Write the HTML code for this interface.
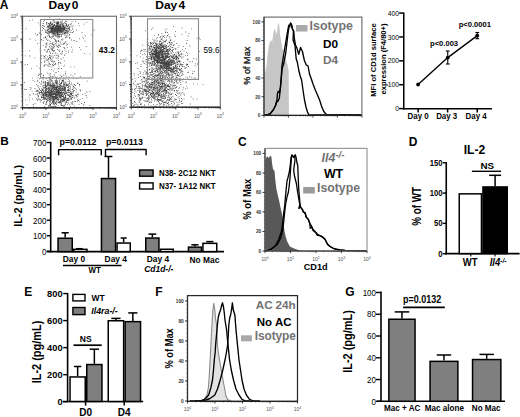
<!DOCTYPE html>
<html><head><meta charset="utf-8"><style>
html,body{margin:0;padding:0;background:#fff;}
svg{display:block;font-family:"Liberation Sans",sans-serif;}
</style></head><body>
<svg xmlns="http://www.w3.org/2000/svg" width="520" height="417" viewBox="0 0 520 417">
<defs><filter id="bl" x="-5%" y="-5%" width="110%" height="110%"><feGaussianBlur stdDeviation="0.42"/></filter></defs>
<rect width="520" height="417" fill="#fff"/>
<text x="-0.3" y="8.7" font-size="12" font-weight="bold">A</text>
<text transform="translate(63.5 9.1) scale(1.07 1)" font-size="11.2" font-weight="bold" text-anchor="middle" word-spacing="-2">Day 0</text>
<text transform="translate(170.2 9.3) scale(1.08 1)" font-size="11.1" font-weight="bold" text-anchor="middle" word-spacing="-2">Day 4</text>
<path fill="#404040" filter="url(#bl)" d="M58.0 26.5h0.8v0.8h-0.8zM59.7 27.7h0.8v0.8h-0.8zM56.5 30.5h0.8v0.8h-0.8zM53.0 29.8h0.8v0.8h-0.8zM55.5 29.1h0.8v0.8h-0.8zM52.4 23.8h0.8v0.8h-0.8zM58.3 30.2h0.8v0.8h-0.8zM65.5 32.1h0.8v0.8h-0.8zM55.2 31.6h0.8v0.8h-0.8zM54.5 29.2h0.8v0.8h-0.8zM60.7 23.7h0.8v0.8h-0.8zM60.0 31.4h0.8v0.8h-0.8zM58.6 28.0h0.8v0.8h-0.8zM52.8 20.6h0.8v0.8h-0.8zM57.8 29.7h0.8v0.8h-0.8zM61.9 23.9h0.8v0.8h-0.8zM50.5 24.5h0.8v0.8h-0.8zM55.4 26.5h0.8v0.8h-0.8zM47.4 32.4h0.8v0.8h-0.8zM50.8 27.4h0.8v0.8h-0.8zM47.7 29.3h0.8v0.8h-0.8zM56.7 33.9h0.8v0.8h-0.8zM50.9 33.4h0.8v0.8h-0.8zM59.5 28.2h0.8v0.8h-0.8zM58.9 27.8h0.8v0.8h-0.8zM57.0 24.6h0.8v0.8h-0.8zM43.9 26.3h0.8v0.8h-0.8zM55.0 29.8h0.8v0.8h-0.8zM57.7 29.7h0.8v0.8h-0.8zM58.6 28.8h0.8v0.8h-0.8zM49.4 31.6h0.8v0.8h-0.8zM55.3 26.1h0.8v0.8h-0.8zM52.5 28.3h0.8v0.8h-0.8zM53.5 30.8h0.8v0.8h-0.8zM63.9 30.3h0.8v0.8h-0.8zM53.5 31.8h0.8v0.8h-0.8zM57.8 29.7h0.8v0.8h-0.8zM63.0 27.5h0.8v0.8h-0.8zM54.7 29.6h0.8v0.8h-0.8zM57.4 25.4h0.8v0.8h-0.8zM58.6 23.4h0.8v0.8h-0.8zM58.4 30.3h0.8v0.8h-0.8zM51.1 28.3h0.8v0.8h-0.8zM58.4 29.5h0.8v0.8h-0.8zM65.6 23.2h0.8v0.8h-0.8zM49.3 27.4h0.8v0.8h-0.8zM62.8 26.6h0.8v0.8h-0.8zM58.7 25.8h0.8v0.8h-0.8zM54.4 21.5h0.8v0.8h-0.8zM69.2 27.5h0.8v0.8h-0.8zM62.3 31.3h0.8v0.8h-0.8zM51.3 29.7h0.8v0.8h-0.8zM58.4 26.6h0.8v0.8h-0.8zM61.2 28.5h0.8v0.8h-0.8zM56.9 30.8h0.8v0.8h-0.8zM61.8 19.9h0.8v0.8h-0.8zM57.6 28.1h0.8v0.8h-0.8zM61.7 30.2h0.8v0.8h-0.8zM66.1 30.6h0.8v0.8h-0.8zM54.2 33.8h0.8v0.8h-0.8zM59.1 32.0h0.8v0.8h-0.8zM55.4 29.5h0.8v0.8h-0.8zM58.7 29.4h0.8v0.8h-0.8zM51.4 30.9h0.8v0.8h-0.8zM54.8 26.8h0.8v0.8h-0.8zM56.9 28.4h0.8v0.8h-0.8zM63.0 31.3h0.8v0.8h-0.8zM64.4 34.6h0.8v0.8h-0.8zM50.6 28.0h0.8v0.8h-0.8zM53.6 28.3h0.8v0.8h-0.8zM61.6 29.1h0.8v0.8h-0.8zM46.8 32.7h0.8v0.8h-0.8zM55.4 28.4h0.8v0.8h-0.8zM57.5 33.1h0.8v0.8h-0.8zM65.0 25.5h0.8v0.8h-0.8zM61.9 27.9h0.8v0.8h-0.8zM56.2 27.9h0.8v0.8h-0.8zM55.9 30.9h0.8v0.8h-0.8zM56.6 31.7h0.8v0.8h-0.8zM66.5 23.8h0.8v0.8h-0.8zM55.6 25.7h0.8v0.8h-0.8zM56.3 29.5h0.8v0.8h-0.8zM60.0 26.5h0.8v0.8h-0.8zM57.3 23.8h0.8v0.8h-0.8zM56.9 31.7h0.8v0.8h-0.8zM51.8 30.0h0.8v0.8h-0.8zM57.9 30.0h0.8v0.8h-0.8zM55.5 27.0h0.8v0.8h-0.8zM64.5 31.7h0.8v0.8h-0.8zM61.7 27.8h0.8v0.8h-0.8zM57.9 31.9h0.8v0.8h-0.8zM61.7 25.7h0.8v0.8h-0.8zM56.1 25.9h0.8v0.8h-0.8zM63.9 29.1h0.8v0.8h-0.8zM58.0 26.3h0.8v0.8h-0.8zM61.3 30.6h0.8v0.8h-0.8zM50.8 29.3h0.8v0.8h-0.8zM59.9 25.6h0.8v0.8h-0.8zM48.5 28.7h0.8v0.8h-0.8zM46.6 27.4h0.8v0.8h-0.8zM56.3 31.3h0.8v0.8h-0.8zM53.0 26.5h0.8v0.8h-0.8zM58.9 27.1h0.8v0.8h-0.8zM70.6 32.3h0.8v0.8h-0.8zM53.3 35.4h0.8v0.8h-0.8zM54.5 34.7h0.8v0.8h-0.8zM59.2 28.7h0.8v0.8h-0.8zM60.8 29.2h0.8v0.8h-0.8zM57.0 33.3h0.8v0.8h-0.8zM56.8 28.1h0.8v0.8h-0.8zM61.9 25.5h0.8v0.8h-0.8zM60.9 28.9h0.8v0.8h-0.8zM52.2 29.9h0.8v0.8h-0.8zM57.6 25.9h0.8v0.8h-0.8zM58.2 23.4h0.8v0.8h-0.8zM52.1 24.0h0.8v0.8h-0.8zM59.5 30.6h0.8v0.8h-0.8zM53.2 26.1h0.8v0.8h-0.8zM63.4 28.1h0.8v0.8h-0.8zM59.1 29.2h0.8v0.8h-0.8zM58.5 30.4h0.8v0.8h-0.8zM54.7 27.5h0.8v0.8h-0.8zM57.3 30.0h0.8v0.8h-0.8zM46.8 25.7h0.8v0.8h-0.8zM51.7 27.4h0.8v0.8h-0.8zM60.0 25.3h0.8v0.8h-0.8zM46.1 32.0h0.8v0.8h-0.8zM62.7 28.4h0.8v0.8h-0.8zM48.2 26.2h0.8v0.8h-0.8zM62.2 27.4h0.8v0.8h-0.8zM53.3 27.8h0.8v0.8h-0.8zM62.4 30.7h0.8v0.8h-0.8zM58.7 23.6h0.8v0.8h-0.8zM49.4 25.3h0.8v0.8h-0.8zM65.0 27.3h0.8v0.8h-0.8zM66.1 36.4h0.8v0.8h-0.8zM57.6 31.5h0.8v0.8h-0.8zM56.5 28.2h0.8v0.8h-0.8zM57.1 30.7h0.8v0.8h-0.8zM52.5 34.9h0.8v0.8h-0.8zM64.2 27.8h0.8v0.8h-0.8zM55.0 27.4h0.8v0.8h-0.8zM57.7 32.3h0.8v0.8h-0.8zM53.6 30.0h0.8v0.8h-0.8zM54.5 30.6h0.8v0.8h-0.8zM50.8 26.9h0.8v0.8h-0.8zM65.0 34.5h0.8v0.8h-0.8zM57.1 33.8h0.8v0.8h-0.8zM63.4 30.3h0.8v0.8h-0.8zM58.1 30.6h0.8v0.8h-0.8zM54.1 22.2h0.8v0.8h-0.8zM56.2 30.5h0.8v0.8h-0.8zM54.9 27.9h0.8v0.8h-0.8zM58.0 29.8h0.8v0.8h-0.8zM55.9 30.6h0.8v0.8h-0.8zM56.3 27.4h0.8v0.8h-0.8zM50.3 23.3h0.8v0.8h-0.8zM53.5 29.6h0.8v0.8h-0.8zM67.3 26.2h0.8v0.8h-0.8zM54.2 27.5h0.8v0.8h-0.8zM52.1 26.6h0.8v0.8h-0.8zM59.9 27.4h0.8v0.8h-0.8zM65.9 21.3h0.8v0.8h-0.8zM49.9 32.3h0.8v0.8h-0.8zM56.8 29.3h0.8v0.8h-0.8zM54.5 31.9h0.8v0.8h-0.8zM48.1 34.6h0.8v0.8h-0.8zM62.1 28.6h0.8v0.8h-0.8zM57.9 22.9h0.8v0.8h-0.8zM58.4 25.7h0.8v0.8h-0.8zM53.8 24.8h0.8v0.8h-0.8zM60.5 26.9h0.8v0.8h-0.8zM55.0 28.7h0.8v0.8h-0.8zM57.2 22.3h0.8v0.8h-0.8zM51.8 29.6h0.8v0.8h-0.8zM51.2 23.8h0.8v0.8h-0.8zM65.5 29.4h0.8v0.8h-0.8zM55.2 28.2h0.8v0.8h-0.8zM59.6 27.5h0.8v0.8h-0.8zM57.8 28.3h0.8v0.8h-0.8zM55.5 26.8h0.8v0.8h-0.8zM55.2 26.6h0.8v0.8h-0.8zM61.5 23.3h0.8v0.8h-0.8zM56.3 28.4h0.8v0.8h-0.8zM57.2 34.2h0.8v0.8h-0.8zM58.1 34.6h0.8v0.8h-0.8zM64.6 32.6h0.8v0.8h-0.8zM61.8 30.7h0.8v0.8h-0.8zM60.1 26.4h0.8v0.8h-0.8zM54.8 33.0h0.8v0.8h-0.8zM50.3 28.3h0.8v0.8h-0.8zM63.3 28.3h0.8v0.8h-0.8zM63.4 27.6h0.8v0.8h-0.8zM57.2 28.8h0.8v0.8h-0.8zM61.0 27.2h0.8v0.8h-0.8zM62.4 28.2h0.8v0.8h-0.8zM62.7 25.1h0.8v0.8h-0.8zM63.2 27.3h0.8v0.8h-0.8zM55.4 35.6h0.8v0.8h-0.8zM66.5 28.3h0.8v0.8h-0.8zM51.0 27.8h0.8v0.8h-0.8zM62.8 30.2h0.8v0.8h-0.8zM60.8 30.7h0.8v0.8h-0.8zM62.9 25.0h0.8v0.8h-0.8zM68.5 27.9h0.8v0.8h-0.8zM66.3 31.3h0.8v0.8h-0.8zM51.6 29.3h0.8v0.8h-0.8zM48.5 28.9h0.8v0.8h-0.8zM62.6 33.3h0.8v0.8h-0.8zM52.3 26.4h0.8v0.8h-0.8zM57.9 28.8h0.8v0.8h-0.8zM62.7 26.9h0.8v0.8h-0.8zM48.8 33.1h0.8v0.8h-0.8zM46.2 22.4h0.8v0.8h-0.8zM59.5 26.4h0.8v0.8h-0.8zM58.2 26.9h0.8v0.8h-0.8zM56.6 30.6h0.8v0.8h-0.8zM58.2 30.4h0.8v0.8h-0.8zM53.2 32.8h0.8v0.8h-0.8zM49.5 23.6h0.8v0.8h-0.8zM57.1 30.8h0.8v0.8h-0.8zM52.6 27.6h0.8v0.8h-0.8zM48.8 26.4h0.8v0.8h-0.8zM60.8 30.2h0.8v0.8h-0.8zM57.7 25.6h0.8v0.8h-0.8zM60.3 22.1h0.8v0.8h-0.8zM52.5 27.4h0.8v0.8h-0.8zM54.3 23.9h0.8v0.8h-0.8zM52.4 26.5h0.8v0.8h-0.8zM53.0 29.7h0.8v0.8h-0.8zM59.1 29.5h0.8v0.8h-0.8zM53.6 33.4h0.8v0.8h-0.8zM60.0 27.9h0.8v0.8h-0.8zM59.9 23.7h0.8v0.8h-0.8zM69.3 26.2h0.8v0.8h-0.8zM50.2 25.6h0.8v0.8h-0.8zM63.0 24.7h0.8v0.8h-0.8zM57.5 29.8h0.8v0.8h-0.8zM57.9 26.5h0.8v0.8h-0.8zM49.9 22.4h0.8v0.8h-0.8zM55.4 30.7h0.8v0.8h-0.8zM62.2 28.2h0.8v0.8h-0.8zM57.5 29.6h0.8v0.8h-0.8zM58.5 28.8h0.8v0.8h-0.8zM56.4 30.5h0.8v0.8h-0.8zM64.5 28.6h0.8v0.8h-0.8zM57.9 32.3h0.8v0.8h-0.8zM45.7 29.8h0.8v0.8h-0.8zM54.1 29.7h0.8v0.8h-0.8zM47.0 29.8h0.8v0.8h-0.8zM39.8 24.0h0.8v0.8h-0.8zM55.0 28.0h0.8v0.8h-0.8zM65.5 27.7h0.8v0.8h-0.8zM58.3 29.1h0.8v0.8h-0.8zM51.4 24.3h0.8v0.8h-0.8zM52.7 33.6h0.8v0.8h-0.8zM64.3 28.8h0.8v0.8h-0.8zM58.9 24.7h0.8v0.8h-0.8zM58.3 23.2h0.8v0.8h-0.8zM57.7 27.6h0.8v0.8h-0.8zM58.2 28.2h0.8v0.8h-0.8zM62.5 26.3h0.8v0.8h-0.8zM61.1 28.8h0.8v0.8h-0.8zM59.2 26.5h0.8v0.8h-0.8zM52.2 30.2h0.8v0.8h-0.8zM60.9 26.3h0.8v0.8h-0.8zM54.2 28.4h0.8v0.8h-0.8zM64.1 31.5h0.8v0.8h-0.8zM50.9 36.5h0.8v0.8h-0.8zM57.2 25.4h0.8v0.8h-0.8zM58.0 27.1h0.8v0.8h-0.8zM50.6 25.9h0.8v0.8h-0.8zM67.6 30.9h0.8v0.8h-0.8zM66.2 24.9h0.8v0.8h-0.8zM55.4 27.0h0.8v0.8h-0.8zM62.3 28.4h0.8v0.8h-0.8zM60.1 25.5h0.8v0.8h-0.8zM43.4 25.5h0.8v0.8h-0.8zM59.4 27.0h0.8v0.8h-0.8zM57.7 22.0h0.8v0.8h-0.8zM58.5 24.0h0.8v0.8h-0.8zM52.0 27.2h0.8v0.8h-0.8zM56.5 29.0h0.8v0.8h-0.8zM57.0 27.9h0.8v0.8h-0.8zM64.7 23.0h0.8v0.8h-0.8zM59.9 27.1h0.8v0.8h-0.8zM58.0 31.0h0.8v0.8h-0.8zM66.6 30.2h0.8v0.8h-0.8zM54.9 28.3h0.8v0.8h-0.8zM55.8 25.7h0.8v0.8h-0.8zM47.8 30.5h0.8v0.8h-0.8zM66.8 26.7h0.8v0.8h-0.8zM63.4 24.9h0.8v0.8h-0.8zM63.1 26.0h0.8v0.8h-0.8zM61.7 33.0h0.8v0.8h-0.8zM58.6 29.2h0.8v0.8h-0.8zM59.2 32.1h0.8v0.8h-0.8zM56.6 27.0h0.8v0.8h-0.8zM56.9 31.4h0.8v0.8h-0.8zM58.3 26.6h0.8v0.8h-0.8zM66.5 28.0h0.8v0.8h-0.8zM61.1 36.2h0.8v0.8h-0.8zM57.7 30.9h0.8v0.8h-0.8zM54.8 26.9h0.8v0.8h-0.8zM54.4 28.2h0.8v0.8h-0.8zM67.0 29.5h0.8v0.8h-0.8zM60.8 32.3h0.8v0.8h-0.8zM58.4 27.0h0.8v0.8h-0.8zM56.1 23.1h0.8v0.8h-0.8zM51.8 27.6h0.8v0.8h-0.8zM57.6 28.5h0.8v0.8h-0.8zM62.9 28.8h0.8v0.8h-0.8zM55.8 32.6h0.8v0.8h-0.8zM56.7 29.5h0.8v0.8h-0.8zM56.8 31.0h0.8v0.8h-0.8zM58.6 25.1h0.8v0.8h-0.8zM49.1 31.2h0.8v0.8h-0.8zM56.7 35.0h0.8v0.8h-0.8zM53.2 30.9h0.8v0.8h-0.8zM63.0 29.3h0.8v0.8h-0.8zM53.7 29.0h0.8v0.8h-0.8zM61.2 34.0h0.8v0.8h-0.8zM66.5 25.6h0.8v0.8h-0.8zM56.2 28.2h0.8v0.8h-0.8zM54.6 29.9h0.8v0.8h-0.8zM59.1 30.8h0.8v0.8h-0.8zM58.0 27.1h0.8v0.8h-0.8zM52.4 29.5h0.8v0.8h-0.8zM60.6 27.6h0.8v0.8h-0.8zM69.3 28.9h0.8v0.8h-0.8zM56.6 28.1h0.8v0.8h-0.8zM56.9 25.0h0.8v0.8h-0.8zM52.1 28.4h0.8v0.8h-0.8zM59.8 31.2h0.8v0.8h-0.8zM51.0 25.5h0.8v0.8h-0.8zM51.8 27.8h0.8v0.8h-0.8zM65.2 30.6h0.8v0.8h-0.8zM52.9 25.2h0.8v0.8h-0.8zM64.1 29.1h0.8v0.8h-0.8zM66.5 25.2h0.8v0.8h-0.8zM59.5 32.0h0.8v0.8h-0.8zM61.1 35.7h0.8v0.8h-0.8zM68.9 34.8h0.8v0.8h-0.8zM56.9 27.8h0.8v0.8h-0.8zM54.7 30.8h0.8v0.8h-0.8zM50.4 28.9h0.8v0.8h-0.8zM58.2 28.8h0.8v0.8h-0.8zM66.3 33.3h0.8v0.8h-0.8zM63.4 24.4h0.8v0.8h-0.8zM52.7 31.8h0.8v0.8h-0.8zM53.2 28.3h0.8v0.8h-0.8zM55.2 32.9h0.8v0.8h-0.8zM59.6 29.1h0.8v0.8h-0.8zM56.9 26.4h0.8v0.8h-0.8zM59.2 29.4h0.8v0.8h-0.8zM59.7 30.8h0.8v0.8h-0.8zM56.3 28.6h0.8v0.8h-0.8zM57.8 30.0h0.8v0.8h-0.8zM59.2 26.9h0.8v0.8h-0.8zM57.5 21.9h0.8v0.8h-0.8zM60.8 31.3h0.8v0.8h-0.8zM68.5 30.7h0.8v0.8h-0.8zM61.3 29.0h0.8v0.8h-0.8zM58.3 28.7h0.8v0.8h-0.8zM48.6 31.7h0.8v0.8h-0.8zM60.2 27.1h0.8v0.8h-0.8zM47.1 26.3h0.8v0.8h-0.8zM50.1 27.9h0.8v0.8h-0.8zM62.8 32.2h0.8v0.8h-0.8zM62.0 24.2h0.8v0.8h-0.8zM57.2 32.2h0.8v0.8h-0.8zM48.4 26.5h0.8v0.8h-0.8zM55.9 25.1h0.8v0.8h-0.8zM54.2 32.4h0.8v0.8h-0.8zM61.6 28.2h0.8v0.8h-0.8zM70.6 24.5h0.8v0.8h-0.8zM59.2 27.4h0.8v0.8h-0.8zM53.6 31.4h0.8v0.8h-0.8zM51.4 32.2h0.8v0.8h-0.8zM57.7 27.2h0.8v0.8h-0.8zM57.0 29.8h0.8v0.8h-0.8zM51.6 30.7h0.8v0.8h-0.8zM58.7 26.5h0.8v0.8h-0.8zM51.6 29.6h0.8v0.8h-0.8zM64.2 28.4h0.8v0.8h-0.8zM64.0 26.8h0.8v0.8h-0.8zM64.1 27.0h0.8v0.8h-0.8zM55.3 28.7h0.8v0.8h-0.8zM60.9 28.6h0.8v0.8h-0.8zM57.3 26.7h0.8v0.8h-0.8zM55.8 27.2h0.8v0.8h-0.8zM56.1 32.0h0.8v0.8h-0.8zM50.7 29.2h0.8v0.8h-0.8zM49.9 31.2h0.8v0.8h-0.8zM62.4 32.2h0.8v0.8h-0.8zM56.9 30.3h0.8v0.8h-0.8zM59.2 35.5h0.8v0.8h-0.8zM63.6 25.9h0.8v0.8h-0.8zM48.3 31.0h0.8v0.8h-0.8zM53.6 27.5h0.8v0.8h-0.8zM59.0 34.3h0.8v0.8h-0.8zM60.2 33.8h0.8v0.8h-0.8zM55.9 22.4h0.8v0.8h-0.8zM63.8 25.5h0.8v0.8h-0.8zM59.2 30.6h0.8v0.8h-0.8zM51.2 30.9h0.8v0.8h-0.8zM52.8 30.8h0.8v0.8h-0.8zM62.5 28.3h0.8v0.8h-0.8zM60.6 29.9h0.8v0.8h-0.8zM47.4 30.5h0.8v0.8h-0.8zM65.5 28.3h0.8v0.8h-0.8zM61.3 31.7h0.8v0.8h-0.8zM65.5 21.5h0.8v0.8h-0.8zM55.9 30.5h0.8v0.8h-0.8zM56.3 25.3h0.8v0.8h-0.8zM51.7 31.5h0.8v0.8h-0.8zM72.2 27.8h0.8v0.8h-0.8zM57.0 25.7h0.8v0.8h-0.8zM66.9 29.7h0.8v0.8h-0.8zM54.4 25.7h0.8v0.8h-0.8zM58.9 25.7h0.8v0.8h-0.8zM48.6 23.6h0.8v0.8h-0.8zM55.9 28.4h0.8v0.8h-0.8zM63.5 30.0h0.8v0.8h-0.8zM51.0 31.7h0.8v0.8h-0.8zM64.0 28.1h0.8v0.8h-0.8zM59.9 31.7h0.8v0.8h-0.8zM52.2 28.6h0.8v0.8h-0.8zM55.2 28.2h0.8v0.8h-0.8zM55.4 30.3h0.8v0.8h-0.8zM57.7 31.8h0.8v0.8h-0.8zM55.0 27.4h0.8v0.8h-0.8zM53.4 27.7h0.8v0.8h-0.8zM56.3 28.0h0.8v0.8h-0.8zM52.2 28.8h0.8v0.8h-0.8zM50.8 25.7h0.8v0.8h-0.8zM57.7 31.7h0.8v0.8h-0.8zM62.9 27.3h0.8v0.8h-0.8zM49.4 29.9h0.8v0.8h-0.8zM58.0 25.9h0.8v0.8h-0.8zM54.4 29.6h0.8v0.8h-0.8zM52.5 29.7h0.8v0.8h-0.8zM62.8 27.2h0.8v0.8h-0.8zM55.1 34.8h0.8v0.8h-0.8zM66.4 29.7h0.8v0.8h-0.8zM53.6 34.0h0.8v0.8h-0.8zM60.2 31.5h0.8v0.8h-0.8zM56.7 26.4h0.8v0.8h-0.8zM53.8 27.3h0.8v0.8h-0.8zM61.3 29.9h0.8v0.8h-0.8zM57.1 28.7h0.8v0.8h-0.8zM61.4 28.7h0.8v0.8h-0.8zM57.7 27.6h0.8v0.8h-0.8zM51.9 22.9h0.8v0.8h-0.8zM57.4 27.8h0.8v0.8h-0.8zM58.3 21.6h0.8v0.8h-0.8zM63.4 29.7h0.8v0.8h-0.8zM52.9 26.2h0.8v0.8h-0.8zM57.8 26.3h0.8v0.8h-0.8zM48.4 27.8h0.8v0.8h-0.8zM61.6 29.3h0.8v0.8h-0.8zM51.9 24.1h0.8v0.8h-0.8zM47.9 23.1h0.8v0.8h-0.8zM57.7 25.2h0.8v0.8h-0.8zM64.2 22.2h0.8v0.8h-0.8zM49.5 25.5h0.8v0.8h-0.8zM51.9 33.4h0.8v0.8h-0.8zM53.8 25.2h0.8v0.8h-0.8zM51.7 30.5h0.8v0.8h-0.8zM60.1 24.2h0.8v0.8h-0.8zM53.5 29.4h0.8v0.8h-0.8zM54.0 27.5h0.8v0.8h-0.8zM61.3 28.3h0.8v0.8h-0.8zM53.8 30.3h0.8v0.8h-0.8zM60.4 33.9h0.8v0.8h-0.8zM52.6 29.1h0.8v0.8h-0.8zM51.2 28.9h0.8v0.8h-0.8zM47.7 25.5h0.8v0.8h-0.8zM68.4 30.3h0.8v0.8h-0.8zM56.2 27.7h0.8v0.8h-0.8zM59.4 31.1h0.8v0.8h-0.8zM57.8 28.4h0.8v0.8h-0.8zM58.9 33.9h0.8v0.8h-0.8zM58.3 22.4h0.8v0.8h-0.8zM68.7 27.6h0.8v0.8h-0.8zM52.2 31.2h0.8v0.8h-0.8zM49.3 27.4h0.8v0.8h-0.8zM52.3 26.0h0.8v0.8h-0.8zM50.5 27.7h0.8v0.8h-0.8zM62.2 24.2h0.8v0.8h-0.8zM62.6 28.9h0.8v0.8h-0.8zM52.6 36.1h0.8v0.8h-0.8zM50.2 32.0h0.8v0.8h-0.8zM56.0 25.1h0.8v0.8h-0.8zM65.8 25.8h0.8v0.8h-0.8zM42.2 27.2h0.8v0.8h-0.8zM60.9 31.6h0.8v0.8h-0.8zM52.0 26.0h0.8v0.8h-0.8zM63.8 26.4h0.8v0.8h-0.8zM52.0 31.2h0.8v0.8h-0.8zM56.4 31.2h0.8v0.8h-0.8zM49.6 27.3h0.8v0.8h-0.8zM52.5 25.0h0.8v0.8h-0.8zM65.8 23.7h0.8v0.8h-0.8zM62.6 26.3h0.8v0.8h-0.8zM55.8 21.6h0.8v0.8h-0.8zM53.1 30.8h0.8v0.8h-0.8zM47.4 26.5h0.8v0.8h-0.8zM55.8 30.0h0.8v0.8h-0.8zM57.8 34.3h0.8v0.8h-0.8zM57.5 32.1h0.8v0.8h-0.8zM57.5 24.9h0.8v0.8h-0.8zM51.7 31.2h0.8v0.8h-0.8zM57.6 32.1h0.8v0.8h-0.8zM57.8 26.2h0.8v0.8h-0.8zM65.2 25.5h0.8v0.8h-0.8zM68.5 28.2h0.8v0.8h-0.8zM57.2 23.5h0.8v0.8h-0.8zM53.7 33.1h0.8v0.8h-0.8zM57.6 21.0h0.8v0.8h-0.8zM54.6 25.1h0.8v0.8h-0.8zM53.8 27.7h0.8v0.8h-0.8zM57.7 27.8h0.8v0.8h-0.8zM52.2 29.0h0.8v0.8h-0.8zM61.4 29.3h0.8v0.8h-0.8zM57.4 27.8h0.8v0.8h-0.8zM59.4 32.0h0.8v0.8h-0.8zM57.0 21.9h0.8v0.8h-0.8zM53.9 28.5h0.8v0.8h-0.8zM52.7 26.3h0.8v0.8h-0.8zM56.7 28.9h0.8v0.8h-0.8zM54.9 29.2h0.8v0.8h-0.8zM59.3 25.7h0.8v0.8h-0.8zM58.0 26.5h0.8v0.8h-0.8zM50.4 31.0h0.8v0.8h-0.8zM58.4 29.6h0.8v0.8h-0.8zM50.5 26.4h0.8v0.8h-0.8zM54.5 34.8h0.8v0.8h-0.8zM56.4 35.7h0.8v0.8h-0.8zM46.4 24.0h0.8v0.8h-0.8zM58.5 29.4h0.8v0.8h-0.8zM58.8 36.3h0.8v0.8h-0.8zM57.1 30.9h0.8v0.8h-0.8zM55.6 29.2h0.8v0.8h-0.8zM55.9 27.9h0.8v0.8h-0.8zM52.5 26.8h0.8v0.8h-0.8zM56.5 27.8h0.8v0.8h-0.8zM54.9 26.8h0.8v0.8h-0.8zM58.5 30.8h0.8v0.8h-0.8zM51.3 27.3h0.8v0.8h-0.8zM59.3 27.1h0.8v0.8h-0.8zM58.8 24.8h0.8v0.8h-0.8zM57.2 28.3h0.8v0.8h-0.8zM55.5 25.7h0.8v0.8h-0.8zM61.1 27.9h0.8v0.8h-0.8zM48.7 31.7h0.8v0.8h-0.8zM60.6 29.6h0.8v0.8h-0.8zM59.4 30.1h0.8v0.8h-0.8zM59.6 29.6h0.8v0.8h-0.8zM60.1 28.7h0.8v0.8h-0.8zM55.9 29.9h0.8v0.8h-0.8zM54.2 30.4h0.8v0.8h-0.8zM63.8 26.8h0.8v0.8h-0.8zM47.2 29.3h0.8v0.8h-0.8zM69.1 37.5h0.8v0.8h-0.8zM57.3 21.0h0.8v0.8h-0.8zM50.3 30.8h0.8v0.8h-0.8zM52.6 25.0h0.8v0.8h-0.8zM50.9 30.4h0.8v0.8h-0.8zM58.4 33.7h0.8v0.8h-0.8zM50.5 29.2h0.8v0.8h-0.8zM67.3 33.4h0.8v0.8h-0.8zM50.0 21.6h0.8v0.8h-0.8zM36.5 35.0h0.8v0.8h-0.8zM50.4 26.5h0.8v0.8h-0.8zM38.9 32.6h0.8v0.8h-0.8zM56.6 30.4h0.8v0.8h-0.8zM62.8 25.7h0.8v0.8h-0.8zM45.0 30.6h0.8v0.8h-0.8zM50.1 37.3h0.8v0.8h-0.8zM73.0 30.9h0.8v0.8h-0.8zM59.9 30.8h0.8v0.8h-0.8zM57.0 22.4h0.8v0.8h-0.8zM66.5 36.7h0.8v0.8h-0.8zM79.1 38.5h0.8v0.8h-0.8zM68.7 29.6h0.8v0.8h-0.8zM58.3 28.4h0.8v0.8h-0.8zM60.2 21.4h0.8v0.8h-0.8zM62.6 33.9h0.8v0.8h-0.8zM51.5 43.0h0.8v0.8h-0.8zM47.5 33.1h0.8v0.8h-0.8zM57.5 35.8h0.8v0.8h-0.8zM48.5 32.2h0.8v0.8h-0.8zM56.4 24.6h0.8v0.8h-0.8zM57.9 36.2h0.8v0.8h-0.8zM78.1 23.3h0.8v0.8h-0.8zM49.3 28.4h0.8v0.8h-0.8zM55.9 30.9h0.8v0.8h-0.8zM55.5 33.9h0.8v0.8h-0.8zM60.9 31.6h0.8v0.8h-0.8zM66.4 31.4h0.8v0.8h-0.8zM52.6 25.7h0.8v0.8h-0.8zM49.6 23.1h0.8v0.8h-0.8zM42.2 29.8h0.8v0.8h-0.8zM48.7 25.9h0.8v0.8h-0.8zM61.8 23.0h0.8v0.8h-0.8zM57.4 23.2h0.8v0.8h-0.8zM47.9 27.0h0.8v0.8h-0.8zM53.6 20.2h0.8v0.8h-0.8zM57.3 22.8h0.8v0.8h-0.8zM61.5 21.3h0.8v0.8h-0.8zM51.7 30.4h0.8v0.8h-0.8zM54.7 31.5h0.8v0.8h-0.8zM40.6 39.5h0.8v0.8h-0.8zM46.6 22.0h0.8v0.8h-0.8zM71.6 26.1h0.8v0.8h-0.8zM37.3 34.1h0.8v0.8h-0.8zM54.0 28.4h0.8v0.8h-0.8zM59.0 27.9h0.8v0.8h-0.8zM53.6 38.0h0.8v0.8h-0.8zM49.7 27.8h0.8v0.8h-0.8zM56.5 23.7h0.8v0.8h-0.8zM57.0 22.9h0.8v0.8h-0.8zM56.3 31.2h0.8v0.8h-0.8zM40.1 31.0h0.8v0.8h-0.8zM55.7 22.6h0.8v0.8h-0.8zM49.3 24.6h0.8v0.8h-0.8zM52.1 32.2h0.8v0.8h-0.8zM59.0 32.4h0.8v0.8h-0.8zM62.8 26.3h0.8v0.8h-0.8zM65.1 32.6h0.8v0.8h-0.8zM52.5 32.4h0.8v0.8h-0.8zM65.3 20.6h0.8v0.8h-0.8zM67.6 27.9h0.8v0.8h-0.8zM67.2 31.6h0.8v0.8h-0.8zM69.5 26.6h0.8v0.8h-0.8zM55.7 18.8h0.8v0.8h-0.8zM55.4 28.1h0.8v0.8h-0.8zM64.4 33.3h0.8v0.8h-0.8zM44.7 37.4h0.8v0.8h-0.8zM58.9 18.5h0.8v0.8h-0.8zM52.2 42.6h0.8v0.8h-0.8zM53.7 23.9h0.8v0.8h-0.8zM41.3 34.3h0.8v0.8h-0.8zM49.0 35.7h0.8v0.8h-0.8zM56.8 34.4h0.8v0.8h-0.8zM65.0 30.2h0.8v0.8h-0.8zM65.9 23.7h0.8v0.8h-0.8zM56.3 32.6h0.8v0.8h-0.8zM55.3 25.9h0.8v0.8h-0.8zM49.5 16.9h0.8v0.8h-0.8zM60.6 43.6h0.8v0.8h-0.8zM54.8 33.0h0.8v0.8h-0.8zM62.5 38.6h0.8v0.8h-0.8zM72.8 24.9h0.8v0.8h-0.8zM56.7 36.8h0.8v0.8h-0.8zM43.5 37.4h0.8v0.8h-0.8zM49.3 37.3h0.8v0.8h-0.8zM43.9 29.4h0.8v0.8h-0.8zM46.2 23.5h0.8v0.8h-0.8zM68.7 28.6h0.8v0.8h-0.8zM59.0 18.5h0.8v0.8h-0.8zM43.3 21.0h0.8v0.8h-0.8zM62.9 30.0h0.8v0.8h-0.8zM68.3 24.5h0.8v0.8h-0.8zM53.8 28.7h0.8v0.8h-0.8zM50.9 29.0h0.8v0.8h-0.8zM54.0 39.2h0.8v0.8h-0.8zM59.6 36.0h0.8v0.8h-0.8zM62.8 29.3h0.8v0.8h-0.8zM67.6 35.5h0.8v0.8h-0.8zM67.9 25.6h0.8v0.8h-0.8zM67.7 27.8h0.8v0.8h-0.8zM69.3 34.1h0.8v0.8h-0.8zM63.0 23.3h0.8v0.8h-0.8zM43.2 28.1h0.8v0.8h-0.8zM55.8 22.9h0.8v0.8h-0.8zM59.8 30.1h0.8v0.8h-0.8zM53.6 37.7h0.8v0.8h-0.8zM65.2 25.7h0.8v0.8h-0.8zM53.8 30.6h0.8v0.8h-0.8zM48.7 25.0h0.8v0.8h-0.8zM70.0 23.8h0.8v0.8h-0.8zM63.0 23.3h0.8v0.8h-0.8zM59.0 36.8h0.8v0.8h-0.8zM65.3 41.3h0.8v0.8h-0.8zM66.6 31.9h0.8v0.8h-0.8zM60.1 25.9h0.8v0.8h-0.8zM34.9 33.0h0.8v0.8h-0.8zM50.9 27.8h0.8v0.8h-0.8zM52.9 33.5h0.8v0.8h-0.8zM48.1 31.0h0.8v0.8h-0.8zM58.8 30.9h0.8v0.8h-0.8zM67.7 32.5h0.8v0.8h-0.8zM52.6 26.6h0.8v0.8h-0.8zM46.8 27.5h0.8v0.8h-0.8zM75.3 20.9h0.8v0.8h-0.8zM52.9 27.3h0.8v0.8h-0.8zM45.9 22.4h0.8v0.8h-0.8zM59.1 28.8h0.8v0.8h-0.8zM60.8 24.7h0.8v0.8h-0.8zM50.7 30.0h0.8v0.8h-0.8zM64.1 31.8h0.8v0.8h-0.8zM52.6 22.4h0.8v0.8h-0.8zM48.7 25.4h0.8v0.8h-0.8zM58.6 24.8h0.8v0.8h-0.8zM63.9 33.2h0.8v0.8h-0.8zM51.3 38.0h0.8v0.8h-0.8zM60.0 33.8h0.8v0.8h-0.8zM56.2 27.8h0.8v0.8h-0.8zM82.4 36.8h0.8v0.8h-0.8zM50.6 21.9h0.8v0.8h-0.8zM69.5 37.0h0.8v0.8h-0.8zM56.5 26.2h0.8v0.8h-0.8zM63.5 42.8h0.8v0.8h-0.8zM65.0 37.4h0.8v0.8h-0.8zM68.4 24.3h0.8v0.8h-0.8zM60.0 30.3h0.8v0.8h-0.8zM51.6 28.4h0.8v0.8h-0.8zM52.2 30.0h0.8v0.8h-0.8zM61.6 22.1h0.8v0.8h-0.8zM62.2 26.1h0.8v0.8h-0.8zM69.6 31.8h0.8v0.8h-0.8zM60.8 30.6h0.8v0.8h-0.8zM66.5 35.5h0.8v0.8h-0.8zM70.7 29.9h0.8v0.8h-0.8zM58.5 41.2h0.8v0.8h-0.8zM43.6 25.9h0.8v0.8h-0.8zM46.4 30.8h0.8v0.8h-0.8zM44.1 19.9h0.8v0.8h-0.8zM71.3 23.2h0.8v0.8h-0.8zM49.4 36.1h0.8v0.8h-0.8zM68.1 24.8h0.8v0.8h-0.8zM62.3 32.2h0.8v0.8h-0.8zM72.4 29.2h0.8v0.8h-0.8zM66.0 24.3h0.8v0.8h-0.8zM56.1 27.8h0.8v0.8h-0.8zM55.2 26.9h0.8v0.8h-0.8zM49.6 74.6h0.8v0.8h-0.8zM58.3 56.1h0.8v0.8h-0.8zM57.6 68.5h0.8v0.8h-0.8zM49.0 56.8h0.8v0.8h-0.8zM46.7 60.1h0.8v0.8h-0.8zM55.0 39.6h0.8v0.8h-0.8zM52.3 52.7h0.8v0.8h-0.8zM60.2 53.3h0.8v0.8h-0.8zM71.6 51.6h0.8v0.8h-0.8zM58.9 32.5h0.8v0.8h-0.8zM52.8 62.8h0.8v0.8h-0.8zM51.8 50.1h0.8v0.8h-0.8zM47.0 49.6h0.8v0.8h-0.8zM46.7 51.4h0.8v0.8h-0.8zM46.0 51.7h0.8v0.8h-0.8zM50.2 58.1h0.8v0.8h-0.8zM50.0 41.3h0.8v0.8h-0.8zM58.2 44.7h0.8v0.8h-0.8zM50.2 56.9h0.8v0.8h-0.8zM51.6 55.5h0.8v0.8h-0.8zM44.5 50.2h0.8v0.8h-0.8zM64.5 48.3h0.8v0.8h-0.8zM56.5 45.7h0.8v0.8h-0.8zM65.5 53.4h0.8v0.8h-0.8zM58.6 65.8h0.8v0.8h-0.8zM63.4 43.4h0.8v0.8h-0.8zM51.3 69.2h0.8v0.8h-0.8zM58.0 62.4h0.8v0.8h-0.8zM71.9 49.5h0.8v0.8h-0.8zM44.4 61.8h0.8v0.8h-0.8zM61.2 39.3h0.8v0.8h-0.8zM64.9 36.7h0.8v0.8h-0.8zM55.9 41.1h0.8v0.8h-0.8zM58.4 49.9h0.8v0.8h-0.8zM62.0 50.7h0.8v0.8h-0.8zM48.3 48.8h0.8v0.8h-0.8zM55.9 55.0h0.8v0.8h-0.8zM46.8 32.6h0.8v0.8h-0.8zM48.2 59.0h0.8v0.8h-0.8zM48.6 39.8h0.8v0.8h-0.8zM52.0 47.4h0.8v0.8h-0.8zM54.0 49.9h0.8v0.8h-0.8zM56.2 42.4h0.8v0.8h-0.8zM42.8 40.3h0.8v0.8h-0.8zM67.2 43.9h0.8v0.8h-0.8zM61.3 53.9h0.8v0.8h-0.8zM58.2 59.9h0.8v0.8h-0.8zM50.4 59.6h0.8v0.8h-0.8zM52.4 44.1h0.8v0.8h-0.8zM56.9 46.1h0.8v0.8h-0.8zM56.0 44.8h0.8v0.8h-0.8zM41.0 58.5h0.8v0.8h-0.8zM58.3 33.6h0.8v0.8h-0.8zM73.9 66.4h0.8v0.8h-0.8zM39.7 49.2h0.8v0.8h-0.8zM60.1 46.2h0.8v0.8h-0.8zM55.6 57.4h0.8v0.8h-0.8zM52.2 64.3h0.8v0.8h-0.8zM62.8 57.4h0.8v0.8h-0.8zM44.5 64.5h0.8v0.8h-0.8zM54.2 55.3h0.8v0.8h-0.8zM63.5 66.3h0.8v0.8h-0.8zM51.6 66.5h0.8v0.8h-0.8zM50.0 53.0h0.8v0.8h-0.8zM53.8 68.4h0.8v0.8h-0.8zM49.8 55.6h0.8v0.8h-0.8zM64.1 54.9h0.8v0.8h-0.8zM46.5 44.8h0.8v0.8h-0.8zM59.3 51.1h0.8v0.8h-0.8zM44.0 61.8h0.8v0.8h-0.8zM57.8 40.9h0.8v0.8h-0.8zM52.2 60.5h0.8v0.8h-0.8zM34.4 57.5h0.8v0.8h-0.8zM53.0 56.8h0.8v0.8h-0.8zM45.3 31.9h0.8v0.8h-0.8zM49.8 53.0h0.8v0.8h-0.8zM64.1 60.5h0.8v0.8h-0.8zM45.0 46.4h0.8v0.8h-0.8zM45.4 54.9h0.8v0.8h-0.8zM63.4 30.2h0.8v0.8h-0.8zM53.8 60.7h0.8v0.8h-0.8zM64.1 47.4h0.8v0.8h-0.8zM55.3 62.7h0.8v0.8h-0.8zM46.7 35.6h0.8v0.8h-0.8zM52.5 60.9h0.8v0.8h-0.8zM61.8 51.6h0.8v0.8h-0.8zM59.8 62.1h0.8v0.8h-0.8zM53.0 44.7h0.8v0.8h-0.8zM53.4 47.8h0.8v0.8h-0.8zM52.2 76.4h0.8v0.8h-0.8zM48.8 45.7h0.8v0.8h-0.8zM66.9 46.9h0.8v0.8h-0.8zM53.1 51.2h0.8v0.8h-0.8zM44.9 43.8h0.8v0.8h-0.8zM49.6 65.9h0.8v0.8h-0.8zM58.2 71.3h0.8v0.8h-0.8zM57.6 47.0h0.8v0.8h-0.8zM52.0 36.7h0.8v0.8h-0.8zM48.2 65.7h0.8v0.8h-0.8zM53.2 65.1h0.8v0.8h-0.8zM41.0 62.2h0.8v0.8h-0.8zM43.6 65.6h0.8v0.8h-0.8zM58.7 45.3h0.8v0.8h-0.8zM49.6 52.3h0.8v0.8h-0.8zM55.7 40.2h0.8v0.8h-0.8zM61.8 39.8h0.8v0.8h-0.8zM57.7 63.8h0.8v0.8h-0.8zM53.1 47.3h0.8v0.8h-0.8zM68.3 76.8h0.8v0.8h-0.8zM57.8 54.7h0.8v0.8h-0.8zM50.4 47.6h0.8v0.8h-0.8zM58.3 62.0h0.8v0.8h-0.8zM55.9 72.0h0.8v0.8h-0.8zM46.8 58.9h0.8v0.8h-0.8zM53.5 41.8h0.8v0.8h-0.8zM51.8 57.7h0.8v0.8h-0.8zM38.8 67.8h0.8v0.8h-0.8zM51.8 49.1h0.8v0.8h-0.8zM51.0 46.3h0.8v0.8h-0.8zM49.8 64.2h0.8v0.8h-0.8zM41.2 55.4h0.8v0.8h-0.8zM50.4 43.0h0.8v0.8h-0.8zM52.7 50.2h0.8v0.8h-0.8zM53.7 46.4h0.8v0.8h-0.8zM44.8 57.0h0.8v0.8h-0.8zM57.6 55.1h0.8v0.8h-0.8zM44.3 65.5h0.8v0.8h-0.8zM51.4 61.1h0.8v0.8h-0.8zM62.4 38.4h0.8v0.8h-0.8zM48.0 58.1h0.8v0.8h-0.8zM49.3 63.0h0.8v0.8h-0.8zM60.7 58.6h0.8v0.8h-0.8zM50.2 64.3h0.8v0.8h-0.8zM50.9 48.5h0.8v0.8h-0.8zM54.6 44.5h0.8v0.8h-0.8zM60.5 63.3h0.8v0.8h-0.8zM37.1 43.3h0.8v0.8h-0.8zM47.0 32.4h0.8v0.8h-0.8zM45.8 64.3h0.8v0.8h-0.8zM45.2 46.8h0.8v0.8h-0.8zM46.9 50.9h0.8v0.8h-0.8zM47.0 40.0h0.8v0.8h-0.8zM55.2 40.7h0.8v0.8h-0.8zM46.6 42.4h0.8v0.8h-0.8zM53.9 50.4h0.8v0.8h-0.8zM55.9 57.7h0.8v0.8h-0.8zM47.8 31.0h0.8v0.8h-0.8zM53.9 61.5h0.8v0.8h-0.8zM64.7 42.2h0.8v0.8h-0.8zM55.3 43.3h0.8v0.8h-0.8zM48.4 60.8h0.8v0.8h-0.8zM52.5 53.3h0.8v0.8h-0.8zM46.4 38.6h0.8v0.8h-0.8zM54.9 72.4h0.8v0.8h-0.8zM59.2 45.4h0.8v0.8h-0.8zM47.1 56.5h0.8v0.8h-0.8zM51.5 56.0h0.8v0.8h-0.8zM61.0 68.1h0.8v0.8h-0.8zM49.4 49.4h0.8v0.8h-0.8zM54.3 64.1h0.8v0.8h-0.8zM45.7 46.6h0.8v0.8h-0.8zM47.1 65.2h0.8v0.8h-0.8zM49.3 46.4h0.8v0.8h-0.8zM68.2 50.4h0.8v0.8h-0.8zM50.1 73.0h0.8v0.8h-0.8zM49.3 57.2h0.8v0.8h-0.8zM49.1 55.1h0.8v0.8h-0.8zM51.8 76.4h0.8v0.8h-0.8zM57.6 57.6h0.8v0.8h-0.8zM54.3 45.8h0.8v0.8h-0.8zM61.6 53.4h0.8v0.8h-0.8zM44.4 49.2h0.8v0.8h-0.8zM65.2 30.7h0.8v0.8h-0.8zM65.9 44.7h0.8v0.8h-0.8zM49.8 41.3h0.8v0.8h-0.8zM56.6 53.4h0.8v0.8h-0.8zM55.1 52.6h0.8v0.8h-0.8zM46.2 38.9h0.8v0.8h-0.8zM60.1 26.3h0.8v0.8h-0.8zM36.6 65.7h0.8v0.8h-0.8zM51.1 48.7h0.8v0.8h-0.8zM51.4 59.2h0.8v0.8h-0.8zM52.5 64.7h0.8v0.8h-0.8zM57.8 37.7h0.8v0.8h-0.8zM43.9 56.4h0.8v0.8h-0.8zM60.3 41.6h0.8v0.8h-0.8zM53.4 44.1h0.8v0.8h-0.8zM49.1 43.8h0.8v0.8h-0.8zM42.7 45.0h0.8v0.8h-0.8zM44.4 60.6h0.8v0.8h-0.8zM58.2 46.7h0.8v0.8h-0.8zM46.3 42.8h0.8v0.8h-0.8zM55.6 41.1h0.8v0.8h-0.8zM64.6 49.8h0.8v0.8h-0.8zM64.3 32.5h0.8v0.8h-0.8zM69.0 38.0h0.8v0.8h-0.8zM52.3 44.3h0.8v0.8h-0.8zM45.2 37.1h0.8v0.8h-0.8zM64.2 43.3h0.8v0.8h-0.8zM57.8 36.4h0.8v0.8h-0.8zM65.1 73.1h0.8v0.8h-0.8zM55.1 63.6h0.8v0.8h-0.8zM65.8 51.3h0.8v0.8h-0.8zM62.6 44.2h0.8v0.8h-0.8zM61.4 75.7h0.8v0.8h-0.8zM59.5 49.5h0.8v0.8h-0.8zM58.6 43.8h0.8v0.8h-0.8zM57.1 49.2h0.8v0.8h-0.8zM57.0 49.3h0.8v0.8h-0.8zM63.9 64.7h0.8v0.8h-0.8zM50.4 44.7h0.8v0.8h-0.8zM70.6 74.4h0.8v0.8h-0.8zM54.0 32.7h0.8v0.8h-0.8zM63.9 54.7h0.8v0.8h-0.8zM54.2 31.0h0.8v0.8h-0.8zM52.8 70.4h0.8v0.8h-0.8zM73.3 40.4h0.8v0.8h-0.8zM52.2 44.2h0.8v0.8h-0.8zM43.5 57.9h0.8v0.8h-0.8zM48.6 62.6h0.8v0.8h-0.8zM52.1 29.4h0.8v0.8h-0.8zM74.4 40.2h0.8v0.8h-0.8zM56.9 25.5h0.8v0.8h-0.8zM63.4 46.9h0.8v0.8h-0.8zM46.0 43.6h0.8v0.8h-0.8zM58.2 40.1h0.8v0.8h-0.8zM61.0 35.4h0.8v0.8h-0.8zM71.2 39.6h0.8v0.8h-0.8zM48.7 34.6h0.8v0.8h-0.8zM59.5 87.8h0.8v0.8h-0.8zM67.9 102.6h0.8v0.8h-0.8zM38.6 73.6h0.8v0.8h-0.8zM54.0 87.3h0.8v0.8h-0.8zM51.4 96.7h0.8v0.8h-0.8zM59.2 80.8h0.8v0.8h-0.8zM53.8 74.4h0.8v0.8h-0.8zM46.2 101.8h0.8v0.8h-0.8zM60.9 102.6h0.8v0.8h-0.8zM55.8 98.2h0.8v0.8h-0.8zM53.6 90.5h0.8v0.8h-0.8zM58.1 94.4h0.8v0.8h-0.8zM52.9 85.9h0.8v0.8h-0.8zM41.8 97.5h0.8v0.8h-0.8zM60.1 84.4h0.8v0.8h-0.8zM57.5 90.1h0.8v0.8h-0.8zM53.7 98.8h0.8v0.8h-0.8zM63.4 84.4h0.8v0.8h-0.8zM65.4 89.5h0.8v0.8h-0.8zM45.7 93.1h0.8v0.8h-0.8zM48.4 82.9h0.8v0.8h-0.8zM68.2 99.9h0.8v0.8h-0.8zM67.1 94.3h0.8v0.8h-0.8zM48.7 81.7h0.8v0.8h-0.8zM45.0 91.7h0.8v0.8h-0.8zM49.6 86.7h0.8v0.8h-0.8zM50.8 87.5h0.8v0.8h-0.8zM41.5 92.5h0.8v0.8h-0.8zM55.3 87.2h0.8v0.8h-0.8zM44.1 98.6h0.8v0.8h-0.8zM44.7 87.2h0.8v0.8h-0.8zM62.8 98.7h0.8v0.8h-0.8zM49.2 91.7h0.8v0.8h-0.8zM54.4 97.8h0.8v0.8h-0.8zM60.3 88.3h0.8v0.8h-0.8zM61.9 88.6h0.8v0.8h-0.8zM52.1 84.2h0.8v0.8h-0.8zM55.4 95.9h0.8v0.8h-0.8zM48.0 98.4h0.8v0.8h-0.8zM69.9 106.4h0.8v0.8h-0.8zM60.5 100.8h0.8v0.8h-0.8zM45.6 93.7h0.8v0.8h-0.8zM55.0 90.6h0.8v0.8h-0.8zM61.1 94.6h0.8v0.8h-0.8zM59.1 91.8h0.8v0.8h-0.8zM70.5 102.0h0.8v0.8h-0.8zM66.7 98.4h0.8v0.8h-0.8zM50.4 86.3h0.8v0.8h-0.8zM54.2 87.3h0.8v0.8h-0.8zM44.1 101.3h0.8v0.8h-0.8zM57.1 94.1h0.8v0.8h-0.8zM56.3 90.4h0.8v0.8h-0.8zM78.0 100.1h0.8v0.8h-0.8zM55.8 89.4h0.8v0.8h-0.8zM37.2 90.1h0.8v0.8h-0.8zM49.3 88.9h0.8v0.8h-0.8zM56.0 78.7h0.8v0.8h-0.8zM44.3 97.9h0.8v0.8h-0.8zM47.6 83.8h0.8v0.8h-0.8zM51.9 88.1h0.8v0.8h-0.8zM57.9 86.9h0.8v0.8h-0.8zM53.6 96.9h0.8v0.8h-0.8zM47.4 91.5h0.8v0.8h-0.8zM61.7 92.1h0.8v0.8h-0.8zM50.4 80.6h0.8v0.8h-0.8zM50.8 91.4h0.8v0.8h-0.8zM43.3 82.0h0.8v0.8h-0.8zM48.3 94.1h0.8v0.8h-0.8zM60.5 94.5h0.8v0.8h-0.8zM41.2 91.9h0.8v0.8h-0.8zM54.4 105.9h0.8v0.8h-0.8zM61.1 95.6h0.8v0.8h-0.8zM51.8 96.1h0.8v0.8h-0.8zM57.0 93.0h0.8v0.8h-0.8zM45.5 90.7h0.8v0.8h-0.8zM66.1 98.6h0.8v0.8h-0.8zM64.4 99.5h0.8v0.8h-0.8zM57.0 83.2h0.8v0.8h-0.8zM40.1 99.2h0.8v0.8h-0.8zM46.1 95.5h0.8v0.8h-0.8zM63.3 98.5h0.8v0.8h-0.8zM69.6 95.2h0.8v0.8h-0.8zM57.5 83.5h0.8v0.8h-0.8zM65.6 84.0h0.8v0.8h-0.8zM49.8 104.4h0.8v0.8h-0.8zM53.4 93.7h0.8v0.8h-0.8zM55.0 82.4h0.8v0.8h-0.8zM58.6 94.4h0.8v0.8h-0.8zM42.0 89.5h0.8v0.8h-0.8zM63.0 79.5h0.8v0.8h-0.8zM66.2 76.4h0.8v0.8h-0.8zM45.2 81.1h0.8v0.8h-0.8zM43.5 93.8h0.8v0.8h-0.8zM58.0 91.7h0.8v0.8h-0.8zM49.4 90.3h0.8v0.8h-0.8zM34.8 93.9h0.8v0.8h-0.8zM61.9 96.1h0.8v0.8h-0.8zM56.3 77.7h0.8v0.8h-0.8zM50.9 90.0h0.8v0.8h-0.8zM73.0 86.4h0.8v0.8h-0.8zM56.2 83.6h0.8v0.8h-0.8zM48.6 88.3h0.8v0.8h-0.8zM55.9 91.2h0.8v0.8h-0.8zM46.2 90.2h0.8v0.8h-0.8zM48.5 82.1h0.8v0.8h-0.8zM58.3 88.7h0.8v0.8h-0.8zM50.3 105.7h0.8v0.8h-0.8zM51.2 84.8h0.8v0.8h-0.8zM69.2 80.5h0.8v0.8h-0.8zM62.3 93.9h0.8v0.8h-0.8zM61.8 96.1h0.8v0.8h-0.8zM59.5 95.2h0.8v0.8h-0.8zM59.1 84.4h0.8v0.8h-0.8zM67.4 98.8h0.8v0.8h-0.8zM54.8 86.7h0.8v0.8h-0.8zM70.8 84.3h0.8v0.8h-0.8zM46.9 87.9h0.8v0.8h-0.8zM52.8 91.3h0.8v0.8h-0.8zM43.3 96.9h0.8v0.8h-0.8zM52.1 96.2h0.8v0.8h-0.8zM59.4 91.8h0.8v0.8h-0.8zM67.3 98.3h0.8v0.8h-0.8zM49.4 92.6h0.8v0.8h-0.8zM55.0 98.1h0.8v0.8h-0.8zM51.9 82.5h0.8v0.8h-0.8zM48.7 81.3h0.8v0.8h-0.8zM44.9 97.3h0.8v0.8h-0.8zM55.5 82.5h0.8v0.8h-0.8zM40.3 89.9h0.8v0.8h-0.8zM55.9 91.3h0.8v0.8h-0.8zM55.2 88.7h0.8v0.8h-0.8zM49.4 88.9h0.8v0.8h-0.8zM46.4 101.5h0.8v0.8h-0.8zM43.2 74.8h0.8v0.8h-0.8zM70.9 98.0h0.8v0.8h-0.8zM68.2 92.2h0.8v0.8h-0.8zM60.1 91.9h0.8v0.8h-0.8zM51.9 96.9h0.8v0.8h-0.8zM45.2 104.4h0.8v0.8h-0.8zM63.9 83.9h0.8v0.8h-0.8zM69.7 92.6h0.8v0.8h-0.8zM47.1 90.7h0.8v0.8h-0.8zM52.5 95.8h0.8v0.8h-0.8zM63.9 93.1h0.8v0.8h-0.8zM57.9 96.5h0.8v0.8h-0.8zM72.0 89.1h0.8v0.8h-0.8zM50.2 92.3h0.8v0.8h-0.8zM59.6 87.4h0.8v0.8h-0.8zM44.4 87.5h0.8v0.8h-0.8zM72.8 91.0h0.8v0.8h-0.8zM48.8 91.0h0.8v0.8h-0.8zM36.2 84.0h0.8v0.8h-0.8zM53.9 102.7h0.8v0.8h-0.8zM53.8 91.1h0.8v0.8h-0.8zM71.3 82.6h0.8v0.8h-0.8zM52.1 99.5h0.8v0.8h-0.8zM54.9 86.9h0.8v0.8h-0.8zM60.0 95.5h0.8v0.8h-0.8zM68.5 91.9h0.8v0.8h-0.8zM54.5 93.7h0.8v0.8h-0.8zM63.8 93.2h0.8v0.8h-0.8zM59.4 88.1h0.8v0.8h-0.8zM52.5 92.3h0.8v0.8h-0.8zM55.7 105.8h0.8v0.8h-0.8zM55.2 76.8h0.8v0.8h-0.8zM47.2 92.4h0.8v0.8h-0.8zM65.3 95.0h0.8v0.8h-0.8zM43.2 84.8h0.8v0.8h-0.8zM65.0 82.7h0.8v0.8h-0.8zM63.1 106.7h0.8v0.8h-0.8zM54.2 89.5h0.8v0.8h-0.8zM48.5 106.1h0.8v0.8h-0.8zM53.1 95.6h0.8v0.8h-0.8zM59.0 92.5h0.8v0.8h-0.8zM61.3 95.2h0.8v0.8h-0.8zM57.4 96.3h0.8v0.8h-0.8zM63.4 100.0h0.8v0.8h-0.8zM50.3 95.0h0.8v0.8h-0.8zM57.0 93.0h0.8v0.8h-0.8zM41.7 93.2h0.8v0.8h-0.8zM61.5 101.2h0.8v0.8h-0.8zM56.3 97.6h0.8v0.8h-0.8zM51.5 85.2h0.8v0.8h-0.8zM64.9 87.7h0.8v0.8h-0.8zM60.9 94.2h0.8v0.8h-0.8zM31.1 87.8h0.8v0.8h-0.8zM55.3 89.4h0.8v0.8h-0.8zM42.6 85.5h0.8v0.8h-0.8zM64.1 90.2h0.8v0.8h-0.8zM76.2 94.9h0.8v0.8h-0.8zM50.6 98.8h0.8v0.8h-0.8zM55.6 92.1h0.8v0.8h-0.8zM52.9 106.1h0.8v0.8h-0.8zM58.0 91.5h0.8v0.8h-0.8zM65.9 98.8h0.8v0.8h-0.8zM46.6 95.4h0.8v0.8h-0.8zM68.4 88.6h0.8v0.8h-0.8zM47.1 72.8h0.8v0.8h-0.8zM57.4 90.9h0.8v0.8h-0.8zM64.8 93.2h0.8v0.8h-0.8zM61.1 105.1h0.8v0.8h-0.8zM47.0 82.6h0.8v0.8h-0.8zM49.0 105.0h0.8v0.8h-0.8zM51.1 90.3h0.8v0.8h-0.8zM54.6 96.9h0.8v0.8h-0.8zM64.7 74.7h0.8v0.8h-0.8zM44.0 92.9h0.8v0.8h-0.8zM59.0 89.7h0.8v0.8h-0.8zM60.2 96.6h0.8v0.8h-0.8zM59.7 92.6h0.8v0.8h-0.8zM59.0 84.2h0.8v0.8h-0.8zM67.9 98.4h0.8v0.8h-0.8zM59.1 96.7h0.8v0.8h-0.8zM62.3 96.1h0.8v0.8h-0.8zM59.8 98.9h0.8v0.8h-0.8zM70.2 99.5h0.8v0.8h-0.8zM38.9 91.9h0.8v0.8h-0.8zM65.9 82.8h0.8v0.8h-0.8zM52.8 82.6h0.8v0.8h-0.8zM52.6 101.2h0.8v0.8h-0.8zM46.8 96.8h0.8v0.8h-0.8zM39.1 92.7h0.8v0.8h-0.8zM51.8 89.0h0.8v0.8h-0.8zM49.2 92.2h0.8v0.8h-0.8zM59.2 92.2h0.8v0.8h-0.8zM42.5 89.7h0.8v0.8h-0.8zM67.2 87.2h0.8v0.8h-0.8zM57.3 106.7h0.8v0.8h-0.8zM52.9 93.6h0.8v0.8h-0.8zM49.0 87.9h0.8v0.8h-0.8zM48.3 83.1h0.8v0.8h-0.8zM45.4 87.1h0.8v0.8h-0.8zM50.4 96.9h0.8v0.8h-0.8zM55.1 97.2h0.8v0.8h-0.8zM53.5 90.5h0.8v0.8h-0.8zM43.0 92.4h0.8v0.8h-0.8zM52.7 89.9h0.8v0.8h-0.8zM47.4 84.5h0.8v0.8h-0.8zM56.4 100.9h0.8v0.8h-0.8zM70.8 94.5h0.8v0.8h-0.8zM52.3 86.9h0.8v0.8h-0.8zM41.2 91.1h0.8v0.8h-0.8zM43.0 98.0h0.8v0.8h-0.8zM40.7 90.3h0.8v0.8h-0.8zM61.2 82.6h0.8v0.8h-0.8zM48.5 85.5h0.8v0.8h-0.8zM55.5 92.7h0.8v0.8h-0.8zM49.7 94.3h0.8v0.8h-0.8zM55.8 91.4h0.8v0.8h-0.8zM66.9 98.8h0.8v0.8h-0.8zM49.2 98.8h0.8v0.8h-0.8zM52.1 94.2h0.8v0.8h-0.8zM48.1 92.2h0.8v0.8h-0.8zM62.4 90.3h0.8v0.8h-0.8zM46.3 95.7h0.8v0.8h-0.8zM45.4 98.3h0.8v0.8h-0.8zM43.2 92.4h0.8v0.8h-0.8zM43.0 95.1h0.8v0.8h-0.8zM59.0 89.8h0.8v0.8h-0.8zM76.8 82.4h0.8v0.8h-0.8zM46.5 85.2h0.8v0.8h-0.8zM63.1 97.2h0.8v0.8h-0.8zM57.1 95.0h0.8v0.8h-0.8zM45.6 102.8h0.8v0.8h-0.8zM52.6 92.4h0.8v0.8h-0.8zM53.0 97.9h0.8v0.8h-0.8zM49.1 101.0h0.8v0.8h-0.8zM71.4 98.8h0.8v0.8h-0.8zM38.8 87.9h0.8v0.8h-0.8zM58.2 90.7h0.8v0.8h-0.8zM57.8 92.9h0.8v0.8h-0.8zM50.1 85.3h0.8v0.8h-0.8zM56.3 95.2h0.8v0.8h-0.8zM62.5 99.0h0.8v0.8h-0.8zM56.3 88.7h0.8v0.8h-0.8zM58.5 105.4h0.8v0.8h-0.8zM60.9 90.0h0.8v0.8h-0.8zM37.7 90.6h0.8v0.8h-0.8zM67.6 90.4h0.8v0.8h-0.8zM74.4 87.2h0.8v0.8h-0.8zM63.3 94.8h0.8v0.8h-0.8zM63.6 92.1h0.8v0.8h-0.8zM43.0 103.3h0.8v0.8h-0.8zM54.0 96.1h0.8v0.8h-0.8zM48.1 95.7h0.8v0.8h-0.8zM50.0 90.5h0.8v0.8h-0.8zM63.2 82.4h0.8v0.8h-0.8zM48.2 91.4h0.8v0.8h-0.8zM53.9 86.2h0.8v0.8h-0.8zM38.8 98.5h0.8v0.8h-0.8zM53.7 91.8h0.8v0.8h-0.8zM55.8 103.3h0.8v0.8h-0.8zM49.0 97.0h0.8v0.8h-0.8zM48.9 97.7h0.8v0.8h-0.8zM71.0 93.6h0.8v0.8h-0.8zM44.7 93.4h0.8v0.8h-0.8zM46.1 96.4h0.8v0.8h-0.8zM48.1 98.3h0.8v0.8h-0.8zM65.2 87.2h0.8v0.8h-0.8zM72.9 95.3h0.8v0.8h-0.8zM48.9 91.4h0.8v0.8h-0.8zM51.4 90.3h0.8v0.8h-0.8zM64.1 87.3h0.8v0.8h-0.8zM47.3 82.1h0.8v0.8h-0.8zM67.4 100.1h0.8v0.8h-0.8zM67.0 92.4h0.8v0.8h-0.8zM55.6 94.0h0.8v0.8h-0.8zM60.5 104.5h0.8v0.8h-0.8zM68.2 86.0h0.8v0.8h-0.8zM46.1 99.2h0.8v0.8h-0.8zM65.0 96.2h0.8v0.8h-0.8zM51.8 94.7h0.8v0.8h-0.8zM48.5 95.3h0.8v0.8h-0.8zM55.9 91.9h0.8v0.8h-0.8zM53.2 102.8h0.8v0.8h-0.8zM46.6 96.2h0.8v0.8h-0.8zM41.4 94.4h0.8v0.8h-0.8zM47.0 100.5h0.8v0.8h-0.8zM67.3 98.1h0.8v0.8h-0.8zM71.7 95.1h0.8v0.8h-0.8zM60.5 94.2h0.8v0.8h-0.8zM65.1 104.0h0.8v0.8h-0.8zM50.6 95.5h0.8v0.8h-0.8zM54.3 91.4h0.8v0.8h-0.8zM57.4 86.2h0.8v0.8h-0.8zM45.8 89.7h0.8v0.8h-0.8zM46.6 84.9h0.8v0.8h-0.8zM55.8 92.8h0.8v0.8h-0.8zM52.3 93.8h0.8v0.8h-0.8zM46.0 78.1h0.8v0.8h-0.8zM58.3 92.1h0.8v0.8h-0.8zM52.8 96.4h0.8v0.8h-0.8zM63.7 93.2h0.8v0.8h-0.8zM55.0 85.5h0.8v0.8h-0.8zM52.4 100.6h0.8v0.8h-0.8zM56.1 87.3h0.8v0.8h-0.8zM53.5 83.7h0.8v0.8h-0.8zM49.3 84.7h0.8v0.8h-0.8zM51.6 91.9h0.8v0.8h-0.8zM61.4 98.7h0.8v0.8h-0.8zM60.5 99.9h0.8v0.8h-0.8zM65.9 93.4h0.8v0.8h-0.8zM40.6 83.9h0.8v0.8h-0.8zM51.7 87.5h0.8v0.8h-0.8zM51.5 85.9h0.8v0.8h-0.8zM56.5 90.8h0.8v0.8h-0.8zM51.2 79.9h0.8v0.8h-0.8zM50.6 92.8h0.8v0.8h-0.8zM61.7 96.4h0.8v0.8h-0.8zM56.5 91.0h0.8v0.8h-0.8zM45.1 95.1h0.8v0.8h-0.8zM66.3 85.6h0.8v0.8h-0.8zM63.5 82.1h0.8v0.8h-0.8zM50.1 87.7h0.8v0.8h-0.8zM62.1 99.9h0.8v0.8h-0.8zM48.8 99.0h0.8v0.8h-0.8zM64.6 88.9h0.8v0.8h-0.8zM53.1 100.2h0.8v0.8h-0.8zM48.2 89.8h0.8v0.8h-0.8zM51.8 102.3h0.8v0.8h-0.8zM48.5 95.3h0.8v0.8h-0.8zM56.6 88.9h0.8v0.8h-0.8zM56.5 97.4h0.8v0.8h-0.8zM55.3 86.7h0.8v0.8h-0.8zM50.3 85.6h0.8v0.8h-0.8zM23.9 82.1h0.8v0.8h-0.8zM55.8 93.8h0.8v0.8h-0.8zM38.9 91.6h0.8v0.8h-0.8zM57.1 91.5h0.8v0.8h-0.8zM64.6 89.2h0.8v0.8h-0.8zM57.3 101.8h0.8v0.8h-0.8zM51.7 89.1h0.8v0.8h-0.8zM53.5 87.1h0.8v0.8h-0.8zM53.9 100.5h0.8v0.8h-0.8zM50.3 101.7h0.8v0.8h-0.8zM50.0 94.3h0.8v0.8h-0.8zM47.1 80.2h0.8v0.8h-0.8zM65.1 87.9h0.8v0.8h-0.8zM54.9 96.2h0.8v0.8h-0.8zM63.1 92.1h0.8v0.8h-0.8zM52.9 102.6h0.8v0.8h-0.8zM55.6 82.7h0.8v0.8h-0.8zM53.6 96.6h0.8v0.8h-0.8zM58.9 87.7h0.8v0.8h-0.8zM62.0 101.0h0.8v0.8h-0.8zM57.0 91.5h0.8v0.8h-0.8zM49.3 99.0h0.8v0.8h-0.8zM48.4 87.6h0.8v0.8h-0.8zM69.1 82.4h0.8v0.8h-0.8zM52.6 84.4h0.8v0.8h-0.8zM52.5 87.9h0.8v0.8h-0.8zM67.5 85.0h0.8v0.8h-0.8zM64.2 100.2h0.8v0.8h-0.8zM59.5 101.1h0.8v0.8h-0.8zM51.6 93.9h0.8v0.8h-0.8zM75.0 85.0h0.8v0.8h-0.8zM58.3 91.2h0.8v0.8h-0.8zM59.6 87.3h0.8v0.8h-0.8zM53.5 101.9h0.8v0.8h-0.8zM43.0 94.1h0.8v0.8h-0.8zM43.7 95.3h0.8v0.8h-0.8zM58.5 89.3h0.8v0.8h-0.8zM58.3 78.3h0.8v0.8h-0.8zM53.0 86.8h0.8v0.8h-0.8zM45.0 84.4h0.8v0.8h-0.8zM42.7 94.5h0.8v0.8h-0.8zM52.2 92.7h0.8v0.8h-0.8zM42.6 86.5h0.8v0.8h-0.8zM62.6 89.4h0.8v0.8h-0.8zM64.8 102.7h0.8v0.8h-0.8zM79.0 85.5h0.8v0.8h-0.8zM62.5 85.8h0.8v0.8h-0.8zM50.0 90.4h0.8v0.8h-0.8zM47.6 87.2h0.8v0.8h-0.8zM25.7 89.1h0.8v0.8h-0.8zM49.9 95.6h0.8v0.8h-0.8zM53.5 103.8h0.8v0.8h-0.8zM63.2 79.9h0.8v0.8h-0.8zM60.2 91.9h0.8v0.8h-0.8zM60.0 92.3h0.8v0.8h-0.8zM56.8 91.4h0.8v0.8h-0.8zM60.6 90.7h0.8v0.8h-0.8zM67.3 89.7h0.8v0.8h-0.8zM45.9 98.8h0.8v0.8h-0.8zM51.1 88.8h0.8v0.8h-0.8zM43.2 91.1h0.8v0.8h-0.8zM68.8 92.0h0.8v0.8h-0.8zM66.0 92.7h0.8v0.8h-0.8zM61.4 90.8h0.8v0.8h-0.8zM44.8 98.8h0.8v0.8h-0.8zM56.5 91.9h0.8v0.8h-0.8zM53.0 93.2h0.8v0.8h-0.8zM55.7 91.7h0.8v0.8h-0.8zM53.4 85.2h0.8v0.8h-0.8zM59.4 86.4h0.8v0.8h-0.8zM51.6 84.9h0.8v0.8h-0.8zM62.3 93.3h0.8v0.8h-0.8zM57.1 87.1h0.8v0.8h-0.8zM52.5 84.8h0.8v0.8h-0.8zM54.0 93.6h0.8v0.8h-0.8zM51.3 95.6h0.8v0.8h-0.8zM61.9 80.0h0.8v0.8h-0.8zM52.7 103.5h0.8v0.8h-0.8zM57.5 92.2h0.8v0.8h-0.8zM51.7 91.3h0.8v0.8h-0.8zM42.4 99.3h0.8v0.8h-0.8zM62.7 92.5h0.8v0.8h-0.8zM46.0 87.9h0.8v0.8h-0.8zM60.8 106.9h0.8v0.8h-0.8zM58.6 84.7h0.8v0.8h-0.8zM40.9 91.3h0.8v0.8h-0.8zM47.0 97.8h0.8v0.8h-0.8zM50.6 84.7h0.8v0.8h-0.8zM48.0 91.3h0.8v0.8h-0.8zM45.0 94.6h0.8v0.8h-0.8zM53.0 85.9h0.8v0.8h-0.8zM58.3 91.7h0.8v0.8h-0.8zM51.3 96.5h0.8v0.8h-0.8zM57.6 92.6h0.8v0.8h-0.8zM48.6 83.8h0.8v0.8h-0.8zM54.8 94.8h0.8v0.8h-0.8zM59.9 92.7h0.8v0.8h-0.8zM55.4 95.0h0.8v0.8h-0.8zM51.1 99.7h0.8v0.8h-0.8zM45.8 98.9h0.8v0.8h-0.8zM56.4 94.8h0.8v0.8h-0.8zM57.9 94.1h0.8v0.8h-0.8zM52.8 84.5h0.8v0.8h-0.8zM48.5 91.1h0.8v0.8h-0.8zM59.6 93.5h0.8v0.8h-0.8zM76.1 89.3h0.8v0.8h-0.8zM52.4 92.7h0.8v0.8h-0.8zM57.9 86.4h0.8v0.8h-0.8zM58.2 102.4h0.8v0.8h-0.8zM33.2 106.6h0.8v0.8h-0.8zM56.1 89.4h0.8v0.8h-0.8zM49.0 94.7h0.8v0.8h-0.8zM66.8 90.4h0.8v0.8h-0.8zM52.8 100.6h0.8v0.8h-0.8zM48.4 95.0h0.8v0.8h-0.8zM53.1 92.5h0.8v0.8h-0.8zM56.4 90.5h0.8v0.8h-0.8zM50.2 92.9h0.8v0.8h-0.8zM54.6 85.2h0.8v0.8h-0.8zM43.5 96.6h0.8v0.8h-0.8zM53.1 87.1h0.8v0.8h-0.8zM61.6 95.6h0.8v0.8h-0.8zM71.7 92.9h0.8v0.8h-0.8zM61.0 99.4h0.8v0.8h-0.8zM57.3 91.9h0.8v0.8h-0.8zM65.1 99.0h0.8v0.8h-0.8zM63.7 85.7h0.8v0.8h-0.8zM69.1 96.1h0.8v0.8h-0.8zM64.2 90.5h0.8v0.8h-0.8zM54.0 93.3h0.8v0.8h-0.8zM57.2 92.5h0.8v0.8h-0.8zM56.5 98.4h0.8v0.8h-0.8zM57.6 78.3h0.8v0.8h-0.8zM56.7 94.2h0.8v0.8h-0.8zM48.3 81.8h0.8v0.8h-0.8zM37.1 100.2h0.8v0.8h-0.8zM49.3 78.6h0.8v0.8h-0.8zM37.8 85.2h0.8v0.8h-0.8zM55.6 80.6h0.8v0.8h-0.8zM55.0 103.1h0.8v0.8h-0.8zM40.8 83.2h0.8v0.8h-0.8zM60.8 92.8h0.8v0.8h-0.8zM62.4 88.4h0.8v0.8h-0.8zM55.8 79.8h0.8v0.8h-0.8zM69.2 89.7h0.8v0.8h-0.8zM70.9 96.5h0.8v0.8h-0.8zM44.7 90.7h0.8v0.8h-0.8zM63.8 98.4h0.8v0.8h-0.8zM58.7 89.5h0.8v0.8h-0.8zM58.6 92.0h0.8v0.8h-0.8zM62.9 89.4h0.8v0.8h-0.8zM48.9 94.3h0.8v0.8h-0.8zM50.0 104.9h0.8v0.8h-0.8zM48.0 94.5h0.8v0.8h-0.8zM48.6 93.3h0.8v0.8h-0.8zM54.2 87.8h0.8v0.8h-0.8zM42.7 86.9h0.8v0.8h-0.8zM46.1 102.0h0.8v0.8h-0.8zM59.9 84.4h0.8v0.8h-0.8zM54.4 85.8h0.8v0.8h-0.8zM58.3 91.3h0.8v0.8h-0.8zM38.9 89.1h0.8v0.8h-0.8zM48.3 105.3h0.8v0.8h-0.8zM50.3 75.9h0.8v0.8h-0.8zM55.3 94.5h0.8v0.8h-0.8zM50.0 96.8h0.8v0.8h-0.8zM62.9 84.4h0.8v0.8h-0.8zM54.5 87.6h0.8v0.8h-0.8zM55.1 94.9h0.8v0.8h-0.8zM55.1 103.1h0.8v0.8h-0.8zM61.0 85.7h0.8v0.8h-0.8zM51.0 81.3h0.8v0.8h-0.8zM64.5 98.6h0.8v0.8h-0.8zM58.9 102.4h0.8v0.8h-0.8zM56.3 89.7h0.8v0.8h-0.8zM55.4 76.9h0.8v0.8h-0.8zM59.4 101.9h0.8v0.8h-0.8zM63.6 90.6h0.8v0.8h-0.8zM63.0 99.6h0.8v0.8h-0.8zM58.2 91.7h0.8v0.8h-0.8zM62.5 89.4h0.8v0.8h-0.8zM56.0 88.9h0.8v0.8h-0.8zM65.6 102.0h0.8v0.8h-0.8zM54.8 101.8h0.8v0.8h-0.8zM37.4 77.5h0.8v0.8h-0.8zM66.4 85.6h0.8v0.8h-0.8zM55.9 104.1h0.8v0.8h-0.8zM45.0 89.5h0.8v0.8h-0.8zM53.3 82.7h0.8v0.8h-0.8zM47.5 92.0h0.8v0.8h-0.8zM72.9 91.3h0.8v0.8h-0.8zM59.2 91.3h0.8v0.8h-0.8zM41.7 88.7h0.8v0.8h-0.8zM59.6 89.9h0.8v0.8h-0.8zM51.6 88.9h0.8v0.8h-0.8zM71.3 94.3h0.8v0.8h-0.8zM46.1 86.5h0.8v0.8h-0.8zM35.9 90.0h0.8v0.8h-0.8zM55.6 91.0h0.8v0.8h-0.8zM52.0 100.9h0.8v0.8h-0.8zM51.5 94.5h0.8v0.8h-0.8zM36.8 91.3h0.8v0.8h-0.8zM58.6 95.6h0.8v0.8h-0.8zM69.2 94.8h0.8v0.8h-0.8zM38.8 99.4h0.8v0.8h-0.8zM65.0 95.4h0.8v0.8h-0.8zM50.2 104.2h0.8v0.8h-0.8zM75.0 101.1h0.8v0.8h-0.8zM58.7 91.7h0.8v0.8h-0.8zM53.4 89.2h0.8v0.8h-0.8zM64.4 98.0h0.8v0.8h-0.8zM59.5 95.5h0.8v0.8h-0.8zM50.0 91.4h0.8v0.8h-0.8zM61.0 82.0h0.8v0.8h-0.8zM50.7 79.5h0.8v0.8h-0.8zM39.8 94.4h0.8v0.8h-0.8zM72.3 97.2h0.8v0.8h-0.8zM52.0 97.5h0.8v0.8h-0.8zM49.8 83.2h0.8v0.8h-0.8zM57.9 99.1h0.8v0.8h-0.8zM41.7 88.4h0.8v0.8h-0.8zM43.5 94.6h0.8v0.8h-0.8zM50.8 94.8h0.8v0.8h-0.8zM50.6 86.5h0.8v0.8h-0.8zM55.6 88.0h0.8v0.8h-0.8zM64.5 77.9h0.8v0.8h-0.8zM51.0 85.8h0.8v0.8h-0.8zM59.2 79.7h0.8v0.8h-0.8zM60.1 95.0h0.8v0.8h-0.8zM45.8 92.4h0.8v0.8h-0.8zM56.9 98.2h0.8v0.8h-0.8zM47.0 94.4h0.8v0.8h-0.8zM64.0 87.7h0.8v0.8h-0.8zM58.9 94.4h0.8v0.8h-0.8zM55.1 89.3h0.8v0.8h-0.8zM43.6 96.1h0.8v0.8h-0.8zM56.0 94.1h0.8v0.8h-0.8zM48.5 85.3h0.8v0.8h-0.8zM61.0 92.0h0.8v0.8h-0.8zM54.0 92.4h0.8v0.8h-0.8zM48.1 89.9h0.8v0.8h-0.8zM62.9 98.1h0.8v0.8h-0.8zM61.1 103.6h0.8v0.8h-0.8zM50.0 89.5h0.8v0.8h-0.8zM64.9 89.6h0.8v0.8h-0.8zM52.5 76.7h0.8v0.8h-0.8zM52.4 91.1h0.8v0.8h-0.8zM56.1 89.0h0.8v0.8h-0.8zM48.6 77.3h0.8v0.8h-0.8zM51.2 94.0h0.8v0.8h-0.8zM53.6 96.0h0.8v0.8h-0.8zM68.0 87.0h0.8v0.8h-0.8zM67.7 89.5h0.8v0.8h-0.8zM52.8 85.4h0.8v0.8h-0.8zM68.7 97.2h0.8v0.8h-0.8zM54.6 81.7h0.8v0.8h-0.8zM58.2 89.9h0.8v0.8h-0.8zM62.5 105.3h0.8v0.8h-0.8zM57.5 92.4h0.8v0.8h-0.8zM75.5 95.2h0.8v0.8h-0.8zM57.1 91.0h0.8v0.8h-0.8zM44.8 84.0h0.8v0.8h-0.8zM66.1 91.8h0.8v0.8h-0.8zM51.5 94.8h0.8v0.8h-0.8zM52.4 85.0h0.8v0.8h-0.8zM29.6 94.3h0.8v0.8h-0.8zM63.5 100.5h0.8v0.8h-0.8zM62.0 99.3h0.8v0.8h-0.8zM61.8 81.2h0.8v0.8h-0.8zM63.3 85.4h0.8v0.8h-0.8zM69.4 81.0h0.8v0.8h-0.8zM54.6 99.3h0.8v0.8h-0.8zM63.0 96.2h0.8v0.8h-0.8zM48.7 96.8h0.8v0.8h-0.8zM52.0 86.0h0.8v0.8h-0.8zM64.0 84.1h0.8v0.8h-0.8zM58.3 92.5h0.8v0.8h-0.8zM43.7 92.7h0.8v0.8h-0.8zM58.1 86.2h0.8v0.8h-0.8zM53.4 93.0h0.8v0.8h-0.8zM48.0 96.4h0.8v0.8h-0.8zM58.7 93.6h0.8v0.8h-0.8zM51.6 84.9h0.8v0.8h-0.8zM41.7 77.6h0.8v0.8h-0.8zM45.6 90.2h0.8v0.8h-0.8zM70.0 93.1h0.8v0.8h-0.8zM42.1 90.2h0.8v0.8h-0.8zM56.9 89.1h0.8v0.8h-0.8zM60.2 87.3h0.8v0.8h-0.8zM60.4 96.9h0.8v0.8h-0.8zM44.6 91.6h0.8v0.8h-0.8zM52.3 92.8h0.8v0.8h-0.8zM56.2 85.4h0.8v0.8h-0.8zM61.8 87.8h0.8v0.8h-0.8zM49.5 93.1h0.8v0.8h-0.8zM45.1 85.2h0.8v0.8h-0.8zM63.5 83.4h0.8v0.8h-0.8zM64.4 89.8h0.8v0.8h-0.8zM58.1 100.2h0.8v0.8h-0.8zM49.8 93.3h0.8v0.8h-0.8zM58.5 101.9h0.8v0.8h-0.8zM55.9 91.1h0.8v0.8h-0.8zM62.1 89.9h0.8v0.8h-0.8zM44.4 82.5h0.8v0.8h-0.8zM56.0 88.1h0.8v0.8h-0.8zM53.6 101.8h0.8v0.8h-0.8zM45.6 94.2h0.8v0.8h-0.8zM56.8 97.0h0.8v0.8h-0.8zM55.3 96.8h0.8v0.8h-0.8zM51.5 91.9h0.8v0.8h-0.8zM58.4 90.6h0.8v0.8h-0.8zM42.9 92.8h0.8v0.8h-0.8zM54.5 96.6h0.8v0.8h-0.8zM58.7 95.1h0.8v0.8h-0.8zM57.4 95.3h0.8v0.8h-0.8zM64.1 93.0h0.8v0.8h-0.8zM44.8 86.8h0.8v0.8h-0.8zM42.2 90.2h0.8v0.8h-0.8zM57.0 85.6h0.8v0.8h-0.8zM58.9 98.8h0.8v0.8h-0.8zM73.0 77.7h0.8v0.8h-0.8zM60.2 90.5h0.8v0.8h-0.8zM61.9 89.7h0.8v0.8h-0.8zM47.8 84.3h0.8v0.8h-0.8zM42.4 91.9h0.8v0.8h-0.8zM77.2 100.8h0.8v0.8h-0.8zM57.8 90.9h0.8v0.8h-0.8zM61.1 96.2h0.8v0.8h-0.8zM59.8 92.7h0.8v0.8h-0.8zM70.4 89.5h0.8v0.8h-0.8zM65.4 92.5h0.8v0.8h-0.8zM46.3 88.3h0.8v0.8h-0.8zM43.2 88.7h0.8v0.8h-0.8zM67.1 94.6h0.8v0.8h-0.8zM67.5 94.8h0.8v0.8h-0.8zM59.3 97.2h0.8v0.8h-0.8zM56.9 93.0h0.8v0.8h-0.8zM56.4 82.3h0.8v0.8h-0.8zM49.2 95.6h0.8v0.8h-0.8zM68.1 89.9h0.8v0.8h-0.8zM60.6 90.1h0.8v0.8h-0.8zM59.3 81.9h0.8v0.8h-0.8zM58.2 88.1h0.8v0.8h-0.8zM63.9 87.1h0.8v0.8h-0.8zM59.3 91.8h0.8v0.8h-0.8zM61.3 82.1h0.8v0.8h-0.8zM45.1 92.3h0.8v0.8h-0.8zM59.3 92.8h0.8v0.8h-0.8zM73.6 84.4h0.8v0.8h-0.8zM50.6 87.8h0.8v0.8h-0.8zM53.9 86.2h0.8v0.8h-0.8zM62.6 98.2h0.8v0.8h-0.8zM63.1 74.8h0.8v0.8h-0.8zM60.3 89.7h0.8v0.8h-0.8zM41.3 80.7h0.8v0.8h-0.8zM59.3 89.1h0.8v0.8h-0.8zM44.9 97.8h0.8v0.8h-0.8zM48.0 87.7h0.8v0.8h-0.8zM59.7 92.9h0.8v0.8h-0.8zM52.5 86.3h0.8v0.8h-0.8zM61.9 105.2h0.8v0.8h-0.8zM81.8 98.2h0.8v0.8h-0.8zM61.6 99.7h0.8v0.8h-0.8zM61.1 83.0h0.8v0.8h-0.8zM47.4 84.5h0.8v0.8h-0.8zM49.5 99.3h0.8v0.8h-0.8zM46.0 90.7h0.8v0.8h-0.8zM50.5 90.2h0.8v0.8h-0.8zM45.7 94.3h0.8v0.8h-0.8zM49.4 83.5h0.8v0.8h-0.8zM53.2 97.3h0.8v0.8h-0.8zM46.5 92.1h0.8v0.8h-0.8zM42.9 95.3h0.8v0.8h-0.8zM43.4 87.4h0.8v0.8h-0.8zM58.9 95.5h0.8v0.8h-0.8zM55.5 87.2h0.8v0.8h-0.8zM63.7 98.5h0.8v0.8h-0.8zM63.9 99.7h0.8v0.8h-0.8zM52.1 98.2h0.8v0.8h-0.8zM60.7 95.5h0.8v0.8h-0.8zM42.8 96.3h0.8v0.8h-0.8zM74.4 73.6h0.8v0.8h-0.8zM65.2 97.7h0.8v0.8h-0.8zM53.2 90.1h0.8v0.8h-0.8zM45.1 92.6h0.8v0.8h-0.8zM58.2 90.1h0.8v0.8h-0.8zM39.1 82.5h0.8v0.8h-0.8zM48.4 88.3h0.8v0.8h-0.8zM61.4 96.5h0.8v0.8h-0.8zM55.6 101.6h0.8v0.8h-0.8zM50.8 87.8h0.8v0.8h-0.8zM63.1 85.9h0.8v0.8h-0.8zM46.2 101.9h0.8v0.8h-0.8zM57.4 86.0h0.8v0.8h-0.8zM50.8 106.1h0.8v0.8h-0.8zM47.8 92.3h0.8v0.8h-0.8zM58.9 86.0h0.8v0.8h-0.8zM46.6 98.7h0.8v0.8h-0.8zM71.2 103.5h0.8v0.8h-0.8zM50.0 82.2h0.8v0.8h-0.8zM71.9 102.6h0.8v0.8h-0.8zM45.7 90.1h0.8v0.8h-0.8zM60.2 102.1h0.8v0.8h-0.8zM44.8 89.4h0.8v0.8h-0.8zM43.6 81.3h0.8v0.8h-0.8zM56.4 95.4h0.8v0.8h-0.8zM60.8 98.3h0.8v0.8h-0.8zM44.2 106.3h0.8v0.8h-0.8zM65.1 103.7h0.8v0.8h-0.8zM48.2 96.7h0.8v0.8h-0.8zM56.1 90.4h0.8v0.8h-0.8zM58.2 88.5h0.8v0.8h-0.8zM60.1 90.0h0.8v0.8h-0.8zM39.7 86.3h0.8v0.8h-0.8zM68.8 90.1h0.8v0.8h-0.8zM59.8 74.7h0.8v0.8h-0.8zM51.4 93.2h0.8v0.8h-0.8zM46.3 91.8h0.8v0.8h-0.8zM43.4 97.2h0.8v0.8h-0.8zM59.6 88.7h0.8v0.8h-0.8zM52.1 95.8h0.8v0.8h-0.8zM45.4 83.7h0.8v0.8h-0.8zM50.5 87.9h0.8v0.8h-0.8zM68.3 79.3h0.8v0.8h-0.8zM52.2 101.8h0.8v0.8h-0.8zM50.0 96.0h0.8v0.8h-0.8zM66.5 84.0h0.8v0.8h-0.8zM58.9 91.6h0.8v0.8h-0.8zM55.4 98.5h0.8v0.8h-0.8zM49.8 95.4h0.8v0.8h-0.8zM41.8 94.6h0.8v0.8h-0.8zM45.1 86.2h0.8v0.8h-0.8zM50.9 87.7h0.8v0.8h-0.8zM53.1 92.6h0.8v0.8h-0.8zM58.0 98.3h0.8v0.8h-0.8zM59.7 86.4h0.8v0.8h-0.8zM56.9 84.4h0.8v0.8h-0.8zM56.9 99.8h0.8v0.8h-0.8zM46.4 85.7h0.8v0.8h-0.8zM36.7 99.3h0.8v0.8h-0.8zM50.6 93.7h0.8v0.8h-0.8zM46.9 98.0h0.8v0.8h-0.8zM49.5 103.9h0.8v0.8h-0.8zM52.7 96.7h0.8v0.8h-0.8zM44.4 97.3h0.8v0.8h-0.8zM45.6 85.8h0.8v0.8h-0.8zM54.1 87.3h0.8v0.8h-0.8zM56.0 96.4h0.8v0.8h-0.8zM49.4 102.4h0.8v0.8h-0.8zM59.2 101.5h0.8v0.8h-0.8zM46.3 94.1h0.8v0.8h-0.8zM55.3 93.4h0.8v0.8h-0.8zM71.0 98.8h0.8v0.8h-0.8zM49.3 92.1h0.8v0.8h-0.8zM64.9 91.6h0.8v0.8h-0.8zM66.7 84.9h0.8v0.8h-0.8zM67.7 98.7h0.8v0.8h-0.8zM48.0 84.7h0.8v0.8h-0.8zM72.1 95.5h0.8v0.8h-0.8zM56.0 82.3h0.8v0.8h-0.8zM52.8 99.5h0.8v0.8h-0.8zM53.0 85.0h0.8v0.8h-0.8zM60.1 97.7h0.8v0.8h-0.8zM55.4 81.2h0.8v0.8h-0.8zM53.5 89.0h0.8v0.8h-0.8zM65.9 100.0h0.8v0.8h-0.8zM48.9 86.5h0.8v0.8h-0.8zM46.1 92.5h0.8v0.8h-0.8zM61.7 88.7h0.8v0.8h-0.8zM61.0 76.3h0.8v0.8h-0.8zM64.3 94.1h0.8v0.8h-0.8zM45.9 94.9h0.8v0.8h-0.8zM64.2 84.5h0.8v0.8h-0.8zM59.1 95.9h0.8v0.8h-0.8zM70.0 86.6h0.8v0.8h-0.8zM44.4 85.2h0.8v0.8h-0.8zM56.9 92.0h0.8v0.8h-0.8zM52.6 87.4h0.8v0.8h-0.8zM48.9 81.4h0.8v0.8h-0.8zM64.6 97.0h0.8v0.8h-0.8zM51.0 98.7h0.8v0.8h-0.8zM48.9 78.5h0.8v0.8h-0.8zM62.4 80.2h0.8v0.8h-0.8zM63.4 95.8h0.8v0.8h-0.8zM63.4 88.7h0.8v0.8h-0.8zM48.3 94.6h0.8v0.8h-0.8zM54.5 99.7h0.8v0.8h-0.8zM63.8 89.5h0.8v0.8h-0.8zM49.4 84.8h0.8v0.8h-0.8zM48.6 73.4h0.8v0.8h-0.8zM62.0 93.4h0.8v0.8h-0.8zM68.3 85.7h0.8v0.8h-0.8zM45.2 94.1h0.8v0.8h-0.8zM32.9 93.6h0.8v0.8h-0.8zM42.7 82.6h0.8v0.8h-0.8zM46.4 103.7h0.8v0.8h-0.8zM53.8 99.4h0.8v0.8h-0.8zM60.2 97.8h0.8v0.8h-0.8zM53.8 83.9h0.8v0.8h-0.8zM49.0 89.2h0.8v0.8h-0.8zM56.3 88.3h0.8v0.8h-0.8zM46.8 89.2h0.8v0.8h-0.8zM54.6 84.4h0.8v0.8h-0.8zM49.5 95.0h0.8v0.8h-0.8zM77.8 93.6h0.8v0.8h-0.8zM61.9 94.5h0.8v0.8h-0.8zM47.9 88.6h0.8v0.8h-0.8zM46.5 100.8h0.8v0.8h-0.8zM51.3 93.3h0.8v0.8h-0.8zM41.0 73.4h0.8v0.8h-0.8zM48.8 87.6h0.8v0.8h-0.8zM48.7 91.6h0.8v0.8h-0.8zM62.5 98.6h0.8v0.8h-0.8zM51.4 90.0h0.8v0.8h-0.8zM48.3 90.3h0.8v0.8h-0.8zM43.6 87.5h0.8v0.8h-0.8zM45.0 96.5h0.8v0.8h-0.8zM54.4 89.0h0.8v0.8h-0.8zM53.2 87.9h0.8v0.8h-0.8zM64.6 87.0h0.8v0.8h-0.8zM49.7 95.8h0.8v0.8h-0.8zM64.0 88.4h0.8v0.8h-0.8zM57.2 80.6h0.8v0.8h-0.8zM55.0 96.2h0.8v0.8h-0.8zM37.9 87.2h0.8v0.8h-0.8zM44.0 94.4h0.8v0.8h-0.8zM61.3 94.5h0.8v0.8h-0.8zM66.9 100.2h0.8v0.8h-0.8zM56.8 99.1h0.8v0.8h-0.8zM61.5 88.1h0.8v0.8h-0.8zM51.5 90.9h0.8v0.8h-0.8zM51.8 83.2h0.8v0.8h-0.8zM49.4 103.4h0.8v0.8h-0.8zM63.3 95.0h0.8v0.8h-0.8zM57.9 101.5h0.8v0.8h-0.8zM53.0 89.8h0.8v0.8h-0.8zM52.2 78.1h0.8v0.8h-0.8zM59.7 102.4h0.8v0.8h-0.8zM57.7 92.6h0.8v0.8h-0.8zM47.9 92.9h0.8v0.8h-0.8zM69.6 92.4h0.8v0.8h-0.8zM57.2 96.4h0.8v0.8h-0.8zM55.1 95.6h0.8v0.8h-0.8zM67.6 81.2h0.8v0.8h-0.8zM63.7 99.4h0.8v0.8h-0.8zM54.3 88.4h0.8v0.8h-0.8zM59.6 88.8h0.8v0.8h-0.8zM45.9 103.7h0.8v0.8h-0.8zM49.6 98.3h0.8v0.8h-0.8zM35.8 89.7h0.8v0.8h-0.8zM65.4 79.4h0.8v0.8h-0.8zM38.9 93.1h0.8v0.8h-0.8zM60.8 95.7h0.8v0.8h-0.8zM47.9 91.5h0.8v0.8h-0.8zM46.7 83.5h0.8v0.8h-0.8zM53.3 86.6h0.8v0.8h-0.8zM57.3 83.5h0.8v0.8h-0.8zM60.2 93.5h0.8v0.8h-0.8zM70.1 97.6h0.8v0.8h-0.8zM58.0 99.0h0.8v0.8h-0.8zM62.5 87.0h0.8v0.8h-0.8zM49.9 93.6h0.8v0.8h-0.8zM61.1 95.8h0.8v0.8h-0.8zM56.3 88.5h0.8v0.8h-0.8zM51.1 91.0h0.8v0.8h-0.8zM54.2 106.4h0.8v0.8h-0.8zM54.5 93.4h0.8v0.8h-0.8zM56.6 98.0h0.8v0.8h-0.8zM58.4 89.0h0.8v0.8h-0.8zM50.7 92.3h0.8v0.8h-0.8zM48.7 80.3h0.8v0.8h-0.8zM61.4 91.8h0.8v0.8h-0.8zM40.6 100.1h0.8v0.8h-0.8zM83.3 104.7h0.8v0.8h-0.8zM71.6 96.9h0.8v0.8h-0.8zM64.9 86.4h0.8v0.8h-0.8zM56.7 93.0h0.8v0.8h-0.8zM48.2 99.9h0.8v0.8h-0.8zM53.9 102.7h0.8v0.8h-0.8zM64.0 85.8h0.8v0.8h-0.8zM45.8 99.1h0.8v0.8h-0.8zM68.1 95.0h0.8v0.8h-0.8zM43.2 101.8h0.8v0.8h-0.8zM32.9 104.1h0.8v0.8h-0.8zM42.8 90.3h0.8v0.8h-0.8zM34.4 81.4h0.8v0.8h-0.8zM38.2 96.2h0.8v0.8h-0.8zM53.4 98.5h0.8v0.8h-0.8zM58.8 94.8h0.8v0.8h-0.8zM72.4 84.7h0.8v0.8h-0.8zM49.4 100.2h0.8v0.8h-0.8zM73.3 88.4h0.8v0.8h-0.8zM61.0 93.4h0.8v0.8h-0.8zM56.0 93.7h0.8v0.8h-0.8zM61.7 105.1h0.8v0.8h-0.8zM37.5 85.5h0.8v0.8h-0.8zM45.8 88.7h0.8v0.8h-0.8zM54.6 80.3h0.8v0.8h-0.8zM63.9 96.9h0.8v0.8h-0.8zM51.2 89.3h0.8v0.8h-0.8zM54.3 96.4h0.8v0.8h-0.8zM68.6 84.4h0.8v0.8h-0.8zM74.4 90.1h0.8v0.8h-0.8zM66.0 101.3h0.8v0.8h-0.8zM72.5 91.6h0.8v0.8h-0.8zM50.7 98.0h0.8v0.8h-0.8zM52.0 97.2h0.8v0.8h-0.8zM60.1 90.2h0.8v0.8h-0.8zM52.1 80.5h0.8v0.8h-0.8zM49.4 100.9h0.8v0.8h-0.8zM77.5 94.4h0.8v0.8h-0.8zM53.4 100.9h0.8v0.8h-0.8zM43.4 76.9h0.8v0.8h-0.8zM62.3 79.8h0.8v0.8h-0.8zM79.9 75.9h0.8v0.8h-0.8zM57.1 86.0h0.8v0.8h-0.8zM72.0 101.3h0.8v0.8h-0.8zM50.3 97.5h0.8v0.8h-0.8zM49.6 92.7h0.8v0.8h-0.8zM47.0 94.0h0.8v0.8h-0.8zM54.1 99.1h0.8v0.8h-0.8zM79.9 90.6h0.8v0.8h-0.8zM41.0 96.2h0.8v0.8h-0.8zM77.3 94.1h0.8v0.8h-0.8zM42.9 75.5h0.8v0.8h-0.8zM53.0 89.9h0.8v0.8h-0.8zM66.9 103.9h0.8v0.8h-0.8zM64.2 89.8h0.8v0.8h-0.8zM59.7 91.9h0.8v0.8h-0.8zM34.6 88.1h0.8v0.8h-0.8zM60.7 89.1h0.8v0.8h-0.8zM42.7 102.0h0.8v0.8h-0.8zM89.4 90.9h0.8v0.8h-0.8zM53.2 84.8h0.8v0.8h-0.8zM58.5 68.1h0.8v0.8h-0.8zM41.1 88.4h0.8v0.8h-0.8zM49.8 77.3h0.8v0.8h-0.8zM39.2 78.4h0.8v0.8h-0.8zM68.8 99.4h0.8v0.8h-0.8zM52.6 98.7h0.8v0.8h-0.8zM63.3 77.7h0.8v0.8h-0.8zM47.1 99.8h0.8v0.8h-0.8zM49.5 96.7h0.8v0.8h-0.8zM72.7 86.7h0.8v0.8h-0.8zM43.4 98.9h0.8v0.8h-0.8zM32.6 80.0h0.8v0.8h-0.8zM61.3 83.4h0.8v0.8h-0.8zM41.2 81.5h0.8v0.8h-0.8zM50.3 84.1h0.8v0.8h-0.8zM67.9 100.0h0.8v0.8h-0.8zM45.4 82.3h0.8v0.8h-0.8zM67.4 83.8h0.8v0.8h-0.8zM47.1 85.4h0.8v0.8h-0.8zM75.4 94.6h0.8v0.8h-0.8zM73.2 90.3h0.8v0.8h-0.8zM49.9 99.9h0.8v0.8h-0.8zM53.2 87.3h0.8v0.8h-0.8zM45.2 82.7h0.8v0.8h-0.8zM58.6 89.0h0.8v0.8h-0.8zM70.9 93.3h0.8v0.8h-0.8zM37.2 85.5h0.8v0.8h-0.8zM67.9 95.2h0.8v0.8h-0.8zM44.8 88.3h0.8v0.8h-0.8zM32.8 93.3h0.8v0.8h-0.8zM83.4 103.7h0.8v0.8h-0.8zM56.8 87.7h0.8v0.8h-0.8zM59.2 86.1h0.8v0.8h-0.8zM47.2 84.2h0.8v0.8h-0.8zM69.9 96.1h0.8v0.8h-0.8zM28.7 97.0h0.8v0.8h-0.8zM56.3 91.7h0.8v0.8h-0.8zM84.7 93.2h0.8v0.8h-0.8zM51.0 103.1h0.8v0.8h-0.8zM56.2 99.8h0.8v0.8h-0.8zM64.7 81.6h0.8v0.8h-0.8zM45.5 92.8h0.8v0.8h-0.8zM56.3 93.7h0.8v0.8h-0.8zM68.5 98.6h0.8v0.8h-0.8zM58.5 91.0h0.8v0.8h-0.8zM60.8 87.6h0.8v0.8h-0.8zM51.5 89.1h0.8v0.8h-0.8zM60.1 78.6h0.8v0.8h-0.8zM56.7 92.6h0.8v0.8h-0.8zM74.9 88.0h0.8v0.8h-0.8zM65.4 96.5h0.8v0.8h-0.8zM52.8 84.6h0.8v0.8h-0.8zM24.2 89.3h0.8v0.8h-0.8zM65.3 84.9h0.8v0.8h-0.8zM65.8 84.2h0.8v0.8h-0.8zM44.1 98.3h0.8v0.8h-0.8zM30.0 89.0h0.8v0.8h-0.8zM41.2 96.3h0.8v0.8h-0.8zM68.0 83.8h0.8v0.8h-0.8zM42.2 93.5h0.8v0.8h-0.8zM50.0 79.2h0.8v0.8h-0.8zM58.9 88.9h0.8v0.8h-0.8zM71.9 88.7h0.8v0.8h-0.8zM55.8 97.4h0.8v0.8h-0.8zM54.7 94.1h0.8v0.8h-0.8zM48.9 91.3h0.8v0.8h-0.8zM77.2 99.4h0.8v0.8h-0.8zM69.9 94.2h0.8v0.8h-0.8zM54.8 97.0h0.8v0.8h-0.8zM37.8 98.8h0.8v0.8h-0.8zM45.7 92.1h0.8v0.8h-0.8zM63.5 90.3h0.8v0.8h-0.8zM46.6 95.3h0.8v0.8h-0.8zM67.6 89.3h0.8v0.8h-0.8zM60.7 95.7h0.8v0.8h-0.8zM59.8 101.5h0.8v0.8h-0.8zM64.5 99.5h0.8v0.8h-0.8zM62.5 89.6h0.8v0.8h-0.8zM44.9 82.4h0.8v0.8h-0.8zM51.8 92.2h0.8v0.8h-0.8zM86.4 91.6h0.8v0.8h-0.8zM40.3 101.5h0.8v0.8h-0.8zM49.8 89.6h0.8v0.8h-0.8zM69.9 91.0h0.8v0.8h-0.8zM53.9 98.5h0.8v0.8h-0.8zM45.4 88.8h0.8v0.8h-0.8zM38.8 91.4h0.8v0.8h-0.8zM63.0 106.3h0.8v0.8h-0.8zM69.3 104.5h0.8v0.8h-0.8zM74.2 97.7h0.8v0.8h-0.8zM56.7 94.8h0.8v0.8h-0.8zM69.6 84.9h0.8v0.8h-0.8zM42.6 97.1h0.8v0.8h-0.8zM58.2 93.1h0.8v0.8h-0.8zM47.2 94.4h0.8v0.8h-0.8zM58.3 88.5h0.8v0.8h-0.8zM65.8 92.5h0.8v0.8h-0.8zM69.9 91.2h0.8v0.8h-0.8zM43.1 95.1h0.8v0.8h-0.8zM72.5 104.0h0.8v0.8h-0.8zM49.8 95.5h0.8v0.8h-0.8zM42.7 79.4h0.8v0.8h-0.8zM53.8 84.9h0.8v0.8h-0.8zM37.0 80.0h0.8v0.8h-0.8zM56.1 86.3h0.8v0.8h-0.8zM59.8 97.1h0.8v0.8h-0.8zM53.4 95.8h0.8v0.8h-0.8zM63.0 87.8h0.8v0.8h-0.8zM51.9 94.7h0.8v0.8h-0.8zM56.1 86.6h0.8v0.8h-0.8zM37.3 81.3h0.8v0.8h-0.8zM56.6 81.4h0.8v0.8h-0.8zM44.9 85.8h0.8v0.8h-0.8zM50.2 104.0h0.8v0.8h-0.8zM54.8 81.9h0.8v0.8h-0.8zM58.5 102.5h0.8v0.8h-0.8zM34.6 103.2h0.8v0.8h-0.8zM35.7 91.2h0.8v0.8h-0.8zM52.1 92.2h0.8v0.8h-0.8zM62.2 87.7h0.8v0.8h-0.8zM60.7 92.4h0.8v0.8h-0.8zM67.6 97.9h0.8v0.8h-0.8zM72.9 92.7h0.8v0.8h-0.8zM62.5 100.6h0.8v0.8h-0.8zM55.7 102.1h0.8v0.8h-0.8zM42.6 95.3h0.8v0.8h-0.8zM43.7 95.2h0.8v0.8h-0.8zM49.9 92.1h0.8v0.8h-0.8zM59.5 95.4h0.8v0.8h-0.8zM58.9 83.7h0.8v0.8h-0.8zM56.1 95.8h0.8v0.8h-0.8zM54.0 94.2h0.8v0.8h-0.8zM64.2 85.7h0.8v0.8h-0.8zM59.9 84.8h0.8v0.8h-0.8zM60.0 85.6h0.8v0.8h-0.8zM48.9 94.8h0.8v0.8h-0.8zM42.6 77.1h0.8v0.8h-0.8zM62.4 86.3h0.8v0.8h-0.8zM61.4 80.4h0.8v0.8h-0.8zM53.1 84.9h0.8v0.8h-0.8zM50.6 91.5h0.8v0.8h-0.8zM85.6 95.1h0.8v0.8h-0.8zM46.1 101.4h0.8v0.8h-0.8zM53.2 99.0h0.8v0.8h-0.8zM59.5 102.0h0.8v0.8h-0.8zM41.0 97.3h0.8v0.8h-0.8zM57.5 88.8h0.8v0.8h-0.8zM79.4 101.5h0.8v0.8h-0.8zM68.1 88.7h0.8v0.8h-0.8zM64.2 87.7h0.8v0.8h-0.8zM63.7 104.8h0.8v0.8h-0.8zM57.5 98.9h0.8v0.8h-0.8zM68.5 94.3h0.8v0.8h-0.8zM54.0 98.6h0.8v0.8h-0.8zM50.5 99.6h0.8v0.8h-0.8zM57.3 81.7h0.8v0.8h-0.8zM67.8 91.8h0.8v0.8h-0.8zM60.3 83.1h0.8v0.8h-0.8zM64.8 93.5h0.8v0.8h-0.8zM29.7 87.2h0.8v0.8h-0.8zM71.5 103.4h0.8v0.8h-0.8zM86.4 96.7h0.8v0.8h-0.8zM73.4 86.1h0.8v0.8h-0.8zM51.9 92.4h0.8v0.8h-0.8zM45.0 82.9h0.8v0.8h-0.8zM59.6 92.9h0.8v0.8h-0.8zM43.2 96.9h0.8v0.8h-0.8zM65.4 94.7h0.8v0.8h-0.8zM49.2 77.1h0.8v0.8h-0.8zM68.5 89.9h0.8v0.8h-0.8zM73.7 96.6h0.8v0.8h-0.8zM29.6 95.0h0.8v0.8h-0.8zM59.8 101.8h0.8v0.8h-0.8zM46.9 82.3h0.8v0.8h-0.8zM37.7 96.7h0.8v0.8h-0.8zM48.0 87.3h0.8v0.8h-0.8zM53.2 94.1h0.8v0.8h-0.8zM69.4 95.8h0.8v0.8h-0.8zM36.2 98.0h0.8v0.8h-0.8zM69.7 87.9h0.8v0.8h-0.8zM82.2 94.0h0.8v0.8h-0.8zM63.8 83.2h0.8v0.8h-0.8zM63.1 81.3h0.8v0.8h-0.8zM55.8 97.0h0.8v0.8h-0.8zM40.7 92.1h0.8v0.8h-0.8zM63.0 79.6h0.8v0.8h-0.8zM61.0 85.7h0.8v0.8h-0.8zM65.5 92.7h0.8v0.8h-0.8zM89.4 105.0h0.8v0.8h-0.8zM65.5 100.9h0.8v0.8h-0.8zM61.5 98.9h0.8v0.8h-0.8zM76.3 78.3h0.8v0.8h-0.8zM38.5 91.8h0.8v0.8h-0.8zM41.1 96.4h0.8v0.8h-0.8zM51.1 95.7h0.8v0.8h-0.8zM47.5 95.9h0.8v0.8h-0.8zM65.0 90.7h0.8v0.8h-0.8zM51.9 106.6h0.8v0.8h-0.8zM78.6 104.3h0.8v0.8h-0.8zM75.8 91.8h0.8v0.8h-0.8zM66.0 84.7h0.8v0.8h-0.8zM64.0 88.1h0.8v0.8h-0.8zM66.5 102.1h0.8v0.8h-0.8zM60.5 85.0h0.8v0.8h-0.8zM65.2 94.9h0.8v0.8h-0.8zM58.8 89.8h0.8v0.8h-0.8zM76.4 96.7h0.8v0.8h-0.8zM71.8 95.1h0.8v0.8h-0.8zM57.6 97.3h0.8v0.8h-0.8zM45.1 92.5h0.8v0.8h-0.8zM63.5 101.5h0.8v0.8h-0.8zM44.7 90.4h0.8v0.8h-0.8zM68.0 89.6h0.8v0.8h-0.8zM68.6 86.0h0.8v0.8h-0.8zM54.1 88.6h0.8v0.8h-0.8zM37.1 92.9h0.8v0.8h-0.8zM79.0 84.1h0.8v0.8h-0.8zM53.8 75.7h0.8v0.8h-0.8zM73.9 101.0h0.8v0.8h-0.8zM61.6 86.3h0.8v0.8h-0.8zM64.8 88.2h0.8v0.8h-0.8zM79.8 89.6h0.8v0.8h-0.8zM60.4 84.7h0.8v0.8h-0.8zM74.2 83.9h0.8v0.8h-0.8zM36.7 93.8h0.8v0.8h-0.8zM52.9 98.4h0.8v0.8h-0.8zM54.3 98.5h0.8v0.8h-0.8zM56.1 80.5h0.8v0.8h-0.8zM60.5 92.3h0.8v0.8h-0.8zM77.5 83.1h0.8v0.8h-0.8zM31.9 98.7h0.8v0.8h-0.8zM56.6 90.7h0.8v0.8h-0.8zM46.7 92.8h0.8v0.8h-0.8zM71.2 91.8h0.8v0.8h-0.8zM50.5 87.9h0.8v0.8h-0.8zM61.9 80.4h0.8v0.8h-0.8zM50.8 97.2h0.8v0.8h-0.8zM64.7 81.5h0.8v0.8h-0.8zM69.2 83.1h0.8v0.8h-0.8zM50.8 90.1h0.8v0.8h-0.8zM56.6 86.9h0.8v0.8h-0.8zM37.5 94.6h0.8v0.8h-0.8zM60.0 100.6h0.8v0.8h-0.8zM67.1 94.5h0.8v0.8h-0.8zM48.8 94.1h0.8v0.8h-0.8zM70.6 92.7h0.8v0.8h-0.8zM29.0 99.4h0.8v0.8h-0.8zM31.9 77.8h0.8v0.8h-0.8zM38.0 95.5h0.8v0.8h-0.8zM49.7 85.1h0.8v0.8h-0.8zM56.2 82.7h0.8v0.8h-0.8zM55.0 92.6h0.8v0.8h-0.8zM55.1 89.4h0.8v0.8h-0.8zM65.4 97.2h0.8v0.8h-0.8zM49.9 101.3h0.8v0.8h-0.8zM39.6 73.9h0.8v0.8h-0.8zM39.8 91.9h0.8v0.8h-0.8zM25.4 99.5h0.8v0.8h-0.8zM53.7 104.1h0.8v0.8h-0.8zM86.3 22.0h0.8v0.8h-0.8zM45.6 58.7h0.8v0.8h-0.8zM72.2 32.1h0.8v0.8h-0.8zM91.3 34.5h0.8v0.8h-0.8zM49.1 51.3h0.8v0.8h-0.8zM84.1 102.1h0.8v0.8h-0.8zM80.4 49.4h0.8v0.8h-0.8zM86.8 80.8h0.8v0.8h-0.8zM29.1 50.5h0.8v0.8h-0.8zM89.5 53.5h0.8v0.8h-0.8zM93.6 29.6h0.8v0.8h-0.8zM40.4 33.6h0.8v0.8h-0.8zM68.6 86.4h0.8v0.8h-0.8zM29.5 55.6h0.8v0.8h-0.8zM66.4 42.7h0.8v0.8h-0.8zM74.0 105.8h0.8v0.8h-0.8zM76.7 96.0h0.8v0.8h-0.8zM84.7 40.8h0.8v0.8h-0.8zM44.1 56.1h0.8v0.8h-0.8zM31.3 68.0h0.8v0.8h-0.8zM81.8 32.0h0.8v0.8h-0.8zM24.9 55.5h0.8v0.8h-0.8zM39.8 42.6h0.8v0.8h-0.8zM40.1 89.9h0.8v0.8h-0.8zM78.8 25.5h0.8v0.8h-0.8zM54.8 106.2h0.8v0.8h-0.8zM83.3 38.2h0.8v0.8h-0.8zM71.1 46.8h0.8v0.8h-0.8zM83.7 23.8h0.8v0.8h-0.8zM79.6 99.2h0.8v0.8h-0.8zM86.4 91.5h0.8v0.8h-0.8zM42.9 23.1h0.8v0.8h-0.8zM48.6 64.5h0.8v0.8h-0.8zM68.2 52.2h0.8v0.8h-0.8zM65.0 71.5h0.8v0.8h-0.8zM79.0 47.2h0.8v0.8h-0.8zM81.2 103.1h0.8v0.8h-0.8zM45.0 36.6h0.8v0.8h-0.8zM31.7 90.8h0.8v0.8h-0.8zM76.4 41.1h0.8v0.8h-0.8zM72.5 75.5h0.8v0.8h-0.8zM42.9 55.5h0.8v0.8h-0.8zM27.1 64.3h0.8v0.8h-0.8zM24.7 64.0h0.8v0.8h-0.8zM40.9 73.3h0.8v0.8h-0.8zM42.7 23.1h0.8v0.8h-0.8zM37.9 22.4h0.8v0.8h-0.8zM26.6 104.4h0.8v0.8h-0.8zM35.3 39.8h0.8v0.8h-0.8zM48.2 49.1h0.8v0.8h-0.8zM29.6 38.6h0.8v0.8h-0.8zM37.9 75.1h0.8v0.8h-0.8zM54.5 105.6h0.8v0.8h-0.8zM84.1 53.2h0.8v0.8h-0.8zM85.8 45.9h0.8v0.8h-0.8zM52.2 48.5h0.8v0.8h-0.8zM32.1 19.4h0.8v0.8h-0.8zM42.4 25.1h0.8v0.8h-0.8zM71.6 21.3h0.8v0.8h-0.8zM52.3 46.2h0.8v0.8h-0.8zM64.1 105.6h0.8v0.8h-0.8zM76.1 29.7h0.8v0.8h-0.8zM70.4 66.4h0.8v0.8h-0.8zM84.9 35.6h0.8v0.8h-0.8zM29.2 20.3h0.8v0.8h-0.8zM44.4 92.3h0.8v0.8h-0.8zM25.5 28.5h0.8v0.8h-0.8zM60.5 29.2h0.8v0.8h-0.8zM67.3 90.5h0.8v0.8h-0.8zM41.3 38.9h0.8v0.8h-0.8z"/>
<rect x="22.5" y="16.25" width="94" height="91.5" fill="none" stroke="#6a6a6a" stroke-width="1.1"/>
<path d="M22.5 16.25L22.5 108.25" stroke="#555" stroke-width="1.2"/>
<path d="M22 107.75L116.5 107.75" stroke="#333" stroke-width="1.4"/>
<path d="M22.5 107.75L22.5 109.95" stroke="#222" stroke-width="0.9"/>
<path d="M20.3 107.75L22.5 107.75" stroke="#222" stroke-width="0.9"/>
<path d="M46 107.75L46 109.95" stroke="#222" stroke-width="0.9"/>
<path d="M20.3 84.88L22.5 84.88" stroke="#222" stroke-width="0.9"/>
<path d="M69.5 107.75L69.5 109.95" stroke="#222" stroke-width="0.9"/>
<path d="M20.3 62L22.5 62" stroke="#222" stroke-width="0.9"/>
<path d="M93 107.75L93 109.95" stroke="#222" stroke-width="0.9"/>
<path d="M20.3 39.12L22.5 39.12" stroke="#222" stroke-width="0.9"/>
<path d="M116.5 107.75L116.5 109.95" stroke="#222" stroke-width="0.9"/>
<path d="M20.3 16.25L22.5 16.25" stroke="#222" stroke-width="0.9"/>
<path d="M29.57 107.75L29.57 109.05" stroke="#333" stroke-width="0.6"/>
<path d="M33.71 107.75L33.71 109.05" stroke="#333" stroke-width="0.6"/>
<path d="M36.65 107.75L36.65 109.05" stroke="#333" stroke-width="0.6"/>
<path d="M38.93 107.75L38.93 109.05" stroke="#333" stroke-width="0.6"/>
<path d="M40.79 107.75L40.79 109.05" stroke="#333" stroke-width="0.6"/>
<path d="M42.36 107.75L42.36 109.05" stroke="#333" stroke-width="0.6"/>
<path d="M43.72 107.75L43.72 109.05" stroke="#333" stroke-width="0.6"/>
<path d="M44.92 107.75L44.92 109.05" stroke="#333" stroke-width="0.6"/>
<path d="M53.07 107.75L53.07 109.05" stroke="#333" stroke-width="0.6"/>
<path d="M57.21 107.75L57.21 109.05" stroke="#333" stroke-width="0.6"/>
<path d="M60.15 107.75L60.15 109.05" stroke="#333" stroke-width="0.6"/>
<path d="M62.43 107.75L62.43 109.05" stroke="#333" stroke-width="0.6"/>
<path d="M64.29 107.75L64.29 109.05" stroke="#333" stroke-width="0.6"/>
<path d="M65.86 107.75L65.86 109.05" stroke="#333" stroke-width="0.6"/>
<path d="M67.22 107.75L67.22 109.05" stroke="#333" stroke-width="0.6"/>
<path d="M68.42 107.75L68.42 109.05" stroke="#333" stroke-width="0.6"/>
<path d="M76.57 107.75L76.57 109.05" stroke="#333" stroke-width="0.6"/>
<path d="M80.71 107.75L80.71 109.05" stroke="#333" stroke-width="0.6"/>
<path d="M83.65 107.75L83.65 109.05" stroke="#333" stroke-width="0.6"/>
<path d="M85.93 107.75L85.93 109.05" stroke="#333" stroke-width="0.6"/>
<path d="M87.79 107.75L87.79 109.05" stroke="#333" stroke-width="0.6"/>
<path d="M89.36 107.75L89.36 109.05" stroke="#333" stroke-width="0.6"/>
<path d="M90.72 107.75L90.72 109.05" stroke="#333" stroke-width="0.6"/>
<path d="M91.92 107.75L91.92 109.05" stroke="#333" stroke-width="0.6"/>
<path d="M100.07 107.75L100.07 109.05" stroke="#333" stroke-width="0.6"/>
<path d="M104.21 107.75L104.21 109.05" stroke="#333" stroke-width="0.6"/>
<path d="M107.15 107.75L107.15 109.05" stroke="#333" stroke-width="0.6"/>
<path d="M109.43 107.75L109.43 109.05" stroke="#333" stroke-width="0.6"/>
<path d="M111.29 107.75L111.29 109.05" stroke="#333" stroke-width="0.6"/>
<path d="M112.86 107.75L112.86 109.05" stroke="#333" stroke-width="0.6"/>
<path d="M114.22 107.75L114.22 109.05" stroke="#333" stroke-width="0.6"/>
<path d="M115.42 107.75L115.42 109.05" stroke="#333" stroke-width="0.6"/>
<path d="M21.2 100.86L22.5 100.86" stroke="#333" stroke-width="0.6"/>
<path d="M21.2 96.84L22.5 96.84" stroke="#333" stroke-width="0.6"/>
<path d="M21.2 93.98L22.5 93.98" stroke="#333" stroke-width="0.6"/>
<path d="M21.2 91.76L22.5 91.76" stroke="#333" stroke-width="0.6"/>
<path d="M21.2 89.95L22.5 89.95" stroke="#333" stroke-width="0.6"/>
<path d="M21.2 88.42L22.5 88.42" stroke="#333" stroke-width="0.6"/>
<path d="M21.2 87.09L22.5 87.09" stroke="#333" stroke-width="0.6"/>
<path d="M21.2 85.92L22.5 85.92" stroke="#333" stroke-width="0.6"/>
<path d="M21.2 77.99L22.5 77.99" stroke="#333" stroke-width="0.6"/>
<path d="M21.2 73.96L22.5 73.96" stroke="#333" stroke-width="0.6"/>
<path d="M21.2 71.1L22.5 71.1" stroke="#333" stroke-width="0.6"/>
<path d="M21.2 68.89L22.5 68.89" stroke="#333" stroke-width="0.6"/>
<path d="M21.2 67.07L22.5 67.07" stroke="#333" stroke-width="0.6"/>
<path d="M21.2 65.54L22.5 65.54" stroke="#333" stroke-width="0.6"/>
<path d="M21.2 64.22L22.5 64.22" stroke="#333" stroke-width="0.6"/>
<path d="M21.2 63.05L22.5 63.05" stroke="#333" stroke-width="0.6"/>
<path d="M21.2 55.11L22.5 55.11" stroke="#333" stroke-width="0.6"/>
<path d="M21.2 51.09L22.5 51.09" stroke="#333" stroke-width="0.6"/>
<path d="M21.2 48.23L22.5 48.23" stroke="#333" stroke-width="0.6"/>
<path d="M21.2 46.01L22.5 46.01" stroke="#333" stroke-width="0.6"/>
<path d="M21.2 44.2L22.5 44.2" stroke="#333" stroke-width="0.6"/>
<path d="M21.2 42.67L22.5 42.67" stroke="#333" stroke-width="0.6"/>
<path d="M21.2 41.34L22.5 41.34" stroke="#333" stroke-width="0.6"/>
<path d="M21.2 40.17L22.5 40.17" stroke="#333" stroke-width="0.6"/>
<path d="M21.2 32.24L22.5 32.24" stroke="#333" stroke-width="0.6"/>
<path d="M21.2 28.21L22.5 28.21" stroke="#333" stroke-width="0.6"/>
<path d="M21.2 25.35L22.5 25.35" stroke="#333" stroke-width="0.6"/>
<path d="M21.2 23.14L22.5 23.14" stroke="#333" stroke-width="0.6"/>
<path d="M21.2 21.32L22.5 21.32" stroke="#333" stroke-width="0.6"/>
<path d="M21.2 19.79L22.5 19.79" stroke="#333" stroke-width="0.6"/>
<path d="M21.2 18.47L22.5 18.47" stroke="#333" stroke-width="0.6"/>
<path d="M21.2 17.3L22.5 17.3" stroke="#333" stroke-width="0.6"/>
<rect x="40.5" y="19.5" width="52.25" height="58.5" fill="none" stroke="#8a8a8a" stroke-width="1.1"/>
<text x="98.8" y="53.1" font-size="8.2" font-weight="bold">43.2</text>
<path fill="#404040" filter="url(#bl)" d="M150.6 51.1h0.8v0.8h-0.8zM150.6 46.1h0.8v0.8h-0.8zM156.0 61.8h0.8v0.8h-0.8zM165.0 40.7h0.8v0.8h-0.8zM161.5 50.0h0.8v0.8h-0.8zM154.0 56.7h0.8v0.8h-0.8zM162.0 45.9h0.8v0.8h-0.8zM151.4 56.9h0.8v0.8h-0.8zM162.3 60.5h0.8v0.8h-0.8zM155.3 48.9h0.8v0.8h-0.8zM161.1 54.8h0.8v0.8h-0.8zM160.4 47.5h0.8v0.8h-0.8zM155.9 56.4h0.8v0.8h-0.8zM158.9 54.1h0.8v0.8h-0.8zM151.9 54.8h0.8v0.8h-0.8zM156.9 61.1h0.8v0.8h-0.8zM162.7 56.2h0.8v0.8h-0.8zM177.8 61.0h0.8v0.8h-0.8zM160.8 57.1h0.8v0.8h-0.8zM157.7 47.0h0.8v0.8h-0.8zM152.2 55.0h0.8v0.8h-0.8zM162.6 56.3h0.8v0.8h-0.8zM149.0 45.7h0.8v0.8h-0.8zM153.2 60.9h0.8v0.8h-0.8zM159.1 54.0h0.8v0.8h-0.8zM151.2 55.6h0.8v0.8h-0.8zM165.0 48.7h0.8v0.8h-0.8zM162.7 54.0h0.8v0.8h-0.8zM154.4 55.3h0.8v0.8h-0.8zM154.5 51.8h0.8v0.8h-0.8zM150.7 54.0h0.8v0.8h-0.8zM150.2 41.9h0.8v0.8h-0.8zM159.5 61.1h0.8v0.8h-0.8zM160.4 47.5h0.8v0.8h-0.8zM159.0 41.6h0.8v0.8h-0.8zM158.6 48.3h0.8v0.8h-0.8zM154.5 49.0h0.8v0.8h-0.8zM159.1 56.6h0.8v0.8h-0.8zM149.9 48.6h0.8v0.8h-0.8zM157.3 55.2h0.8v0.8h-0.8zM164.7 48.3h0.8v0.8h-0.8zM163.9 65.7h0.8v0.8h-0.8zM154.9 56.6h0.8v0.8h-0.8zM155.6 64.4h0.8v0.8h-0.8zM164.2 48.0h0.8v0.8h-0.8zM166.2 57.3h0.8v0.8h-0.8zM149.8 48.3h0.8v0.8h-0.8zM155.1 56.8h0.8v0.8h-0.8zM158.4 57.3h0.8v0.8h-0.8zM163.4 44.8h0.8v0.8h-0.8zM153.1 47.3h0.8v0.8h-0.8zM160.5 47.2h0.8v0.8h-0.8zM155.8 45.3h0.8v0.8h-0.8zM169.2 49.6h0.8v0.8h-0.8zM159.4 48.3h0.8v0.8h-0.8zM156.6 45.6h0.8v0.8h-0.8zM155.6 54.1h0.8v0.8h-0.8zM162.6 56.6h0.8v0.8h-0.8zM160.7 46.4h0.8v0.8h-0.8zM151.8 50.5h0.8v0.8h-0.8zM158.4 53.6h0.8v0.8h-0.8zM150.6 52.3h0.8v0.8h-0.8zM153.5 49.7h0.8v0.8h-0.8zM150.8 58.0h0.8v0.8h-0.8zM150.6 58.2h0.8v0.8h-0.8zM153.8 57.3h0.8v0.8h-0.8zM152.4 52.4h0.8v0.8h-0.8zM159.9 64.5h0.8v0.8h-0.8zM161.3 63.1h0.8v0.8h-0.8zM156.1 51.4h0.8v0.8h-0.8zM151.7 52.9h0.8v0.8h-0.8zM161.3 60.1h0.8v0.8h-0.8zM147.1 49.2h0.8v0.8h-0.8zM147.6 55.8h0.8v0.8h-0.8zM160.9 53.8h0.8v0.8h-0.8zM160.6 49.7h0.8v0.8h-0.8zM162.2 52.3h0.8v0.8h-0.8zM156.2 44.9h0.8v0.8h-0.8zM150.9 50.6h0.8v0.8h-0.8zM154.7 42.6h0.8v0.8h-0.8zM160.1 66.1h0.8v0.8h-0.8zM153.4 61.8h0.8v0.8h-0.8zM153.8 60.3h0.8v0.8h-0.8zM150.3 55.2h0.8v0.8h-0.8zM151.4 59.0h0.8v0.8h-0.8zM161.5 60.5h0.8v0.8h-0.8zM159.6 59.1h0.8v0.8h-0.8zM151.4 58.6h0.8v0.8h-0.8zM151.9 48.5h0.8v0.8h-0.8zM154.5 55.9h0.8v0.8h-0.8zM160.0 50.6h0.8v0.8h-0.8zM151.4 47.0h0.8v0.8h-0.8zM156.4 47.3h0.8v0.8h-0.8zM146.5 55.9h0.8v0.8h-0.8zM151.0 59.3h0.8v0.8h-0.8zM159.4 46.0h0.8v0.8h-0.8zM161.8 63.1h0.8v0.8h-0.8zM151.5 61.6h0.8v0.8h-0.8zM153.4 51.4h0.8v0.8h-0.8zM161.3 51.0h0.8v0.8h-0.8zM155.3 53.1h0.8v0.8h-0.8zM154.6 58.9h0.8v0.8h-0.8zM159.9 51.4h0.8v0.8h-0.8zM158.3 47.4h0.8v0.8h-0.8zM162.9 55.4h0.8v0.8h-0.8zM161.3 42.2h0.8v0.8h-0.8zM154.4 54.3h0.8v0.8h-0.8zM156.7 59.9h0.8v0.8h-0.8zM157.0 55.2h0.8v0.8h-0.8zM150.5 57.8h0.8v0.8h-0.8zM152.4 56.2h0.8v0.8h-0.8zM162.2 57.5h0.8v0.8h-0.8zM149.3 54.3h0.8v0.8h-0.8zM162.3 48.9h0.8v0.8h-0.8zM158.7 52.3h0.8v0.8h-0.8zM156.6 53.1h0.8v0.8h-0.8zM160.0 60.4h0.8v0.8h-0.8zM159.7 62.4h0.8v0.8h-0.8zM163.4 55.8h0.8v0.8h-0.8zM155.3 49.4h0.8v0.8h-0.8zM156.1 49.5h0.8v0.8h-0.8zM156.1 52.5h0.8v0.8h-0.8zM166.7 61.1h0.8v0.8h-0.8zM162.0 55.3h0.8v0.8h-0.8zM152.7 53.2h0.8v0.8h-0.8zM155.6 49.3h0.8v0.8h-0.8zM153.7 58.4h0.8v0.8h-0.8zM157.4 55.1h0.8v0.8h-0.8zM158.4 53.2h0.8v0.8h-0.8zM168.8 54.1h0.8v0.8h-0.8zM148.1 62.8h0.8v0.8h-0.8zM162.5 52.6h0.8v0.8h-0.8zM159.5 62.8h0.8v0.8h-0.8zM153.8 60.3h0.8v0.8h-0.8zM156.5 53.8h0.8v0.8h-0.8zM154.8 58.4h0.8v0.8h-0.8zM157.6 52.8h0.8v0.8h-0.8zM162.4 48.9h0.8v0.8h-0.8zM149.7 52.0h0.8v0.8h-0.8zM163.9 48.5h0.8v0.8h-0.8zM155.4 56.3h0.8v0.8h-0.8zM164.8 53.6h0.8v0.8h-0.8zM159.4 56.6h0.8v0.8h-0.8zM163.5 58.0h0.8v0.8h-0.8zM160.1 36.3h0.8v0.8h-0.8zM162.8 55.2h0.8v0.8h-0.8zM157.6 43.6h0.8v0.8h-0.8zM153.1 54.4h0.8v0.8h-0.8zM160.7 48.7h0.8v0.8h-0.8zM160.9 54.1h0.8v0.8h-0.8zM167.8 61.0h0.8v0.8h-0.8zM147.3 44.1h0.8v0.8h-0.8zM156.3 54.5h0.8v0.8h-0.8zM162.6 53.1h0.8v0.8h-0.8zM151.0 43.1h0.8v0.8h-0.8zM156.2 57.1h0.8v0.8h-0.8zM167.9 53.7h0.8v0.8h-0.8zM164.4 50.7h0.8v0.8h-0.8zM152.9 49.5h0.8v0.8h-0.8zM164.5 71.2h0.8v0.8h-0.8zM163.3 51.3h0.8v0.8h-0.8zM161.2 43.6h0.8v0.8h-0.8zM159.2 48.4h0.8v0.8h-0.8zM158.5 51.5h0.8v0.8h-0.8zM153.0 51.4h0.8v0.8h-0.8zM154.8 53.1h0.8v0.8h-0.8zM161.0 47.7h0.8v0.8h-0.8zM158.0 56.5h0.8v0.8h-0.8zM166.6 50.8h0.8v0.8h-0.8zM155.7 46.0h0.8v0.8h-0.8zM145.3 49.0h0.8v0.8h-0.8zM155.7 51.4h0.8v0.8h-0.8zM158.7 58.2h0.8v0.8h-0.8zM159.3 56.2h0.8v0.8h-0.8zM157.7 51.6h0.8v0.8h-0.8zM153.2 53.6h0.8v0.8h-0.8zM164.8 54.7h0.8v0.8h-0.8zM154.0 64.7h0.8v0.8h-0.8zM160.9 50.1h0.8v0.8h-0.8zM155.9 56.1h0.8v0.8h-0.8zM151.4 57.5h0.8v0.8h-0.8zM164.4 48.3h0.8v0.8h-0.8zM144.8 54.5h0.8v0.8h-0.8zM153.1 54.4h0.8v0.8h-0.8zM159.5 50.9h0.8v0.8h-0.8zM155.6 56.6h0.8v0.8h-0.8zM161.1 59.2h0.8v0.8h-0.8zM156.9 59.7h0.8v0.8h-0.8zM155.1 52.4h0.8v0.8h-0.8zM168.2 54.5h0.8v0.8h-0.8zM156.3 66.4h0.8v0.8h-0.8zM156.6 47.4h0.8v0.8h-0.8zM152.0 54.7h0.8v0.8h-0.8zM153.6 58.4h0.8v0.8h-0.8zM160.6 54.3h0.8v0.8h-0.8zM160.2 57.1h0.8v0.8h-0.8zM157.4 54.4h0.8v0.8h-0.8zM153.9 57.6h0.8v0.8h-0.8zM160.8 60.6h0.8v0.8h-0.8zM148.9 52.3h0.8v0.8h-0.8zM155.7 54.6h0.8v0.8h-0.8zM156.1 53.2h0.8v0.8h-0.8zM153.2 51.3h0.8v0.8h-0.8zM158.2 53.4h0.8v0.8h-0.8zM154.1 47.3h0.8v0.8h-0.8zM153.4 57.6h0.8v0.8h-0.8zM166.4 62.9h0.8v0.8h-0.8zM161.1 62.9h0.8v0.8h-0.8zM163.4 60.5h0.8v0.8h-0.8zM157.7 48.2h0.8v0.8h-0.8zM162.3 61.9h0.8v0.8h-0.8zM161.3 49.6h0.8v0.8h-0.8zM163.5 53.2h0.8v0.8h-0.8zM169.3 63.7h0.8v0.8h-0.8zM156.3 47.6h0.8v0.8h-0.8zM158.7 58.1h0.8v0.8h-0.8zM157.2 55.0h0.8v0.8h-0.8zM139.9 52.7h0.8v0.8h-0.8zM150.5 48.7h0.8v0.8h-0.8zM157.5 55.8h0.8v0.8h-0.8zM160.6 50.9h0.8v0.8h-0.8zM154.6 59.2h0.8v0.8h-0.8zM163.1 60.2h0.8v0.8h-0.8zM163.9 45.9h0.8v0.8h-0.8zM155.4 50.7h0.8v0.8h-0.8zM164.6 51.7h0.8v0.8h-0.8zM166.2 47.0h0.8v0.8h-0.8zM159.8 47.4h0.8v0.8h-0.8zM152.6 54.0h0.8v0.8h-0.8zM164.8 52.4h0.8v0.8h-0.8zM156.7 44.4h0.8v0.8h-0.8zM155.6 50.5h0.8v0.8h-0.8zM158.1 56.4h0.8v0.8h-0.8zM154.8 46.9h0.8v0.8h-0.8zM162.9 48.4h0.8v0.8h-0.8zM161.4 62.2h0.8v0.8h-0.8zM163.6 60.7h0.8v0.8h-0.8zM160.4 44.6h0.8v0.8h-0.8zM153.5 46.1h0.8v0.8h-0.8zM156.7 55.6h0.8v0.8h-0.8zM161.9 46.9h0.8v0.8h-0.8zM155.5 52.1h0.8v0.8h-0.8zM172.1 51.0h0.8v0.8h-0.8zM156.3 56.6h0.8v0.8h-0.8zM154.6 39.6h0.8v0.8h-0.8zM163.2 41.4h0.8v0.8h-0.8zM161.2 46.8h0.8v0.8h-0.8zM157.4 59.1h0.8v0.8h-0.8zM156.3 52.7h0.8v0.8h-0.8zM159.6 44.1h0.8v0.8h-0.8zM161.7 56.2h0.8v0.8h-0.8zM161.3 57.4h0.8v0.8h-0.8zM156.0 52.1h0.8v0.8h-0.8zM159.7 51.7h0.8v0.8h-0.8zM161.7 55.9h0.8v0.8h-0.8zM161.3 60.2h0.8v0.8h-0.8zM142.1 54.3h0.8v0.8h-0.8zM153.0 56.4h0.8v0.8h-0.8zM153.6 53.2h0.8v0.8h-0.8zM156.3 51.4h0.8v0.8h-0.8zM158.4 48.5h0.8v0.8h-0.8zM162.1 54.9h0.8v0.8h-0.8zM160.6 51.8h0.8v0.8h-0.8zM156.9 52.2h0.8v0.8h-0.8zM157.6 58.6h0.8v0.8h-0.8zM166.3 56.2h0.8v0.8h-0.8zM154.4 58.3h0.8v0.8h-0.8zM159.0 44.8h0.8v0.8h-0.8zM165.3 56.6h0.8v0.8h-0.8zM159.2 50.3h0.8v0.8h-0.8zM147.3 49.1h0.8v0.8h-0.8zM159.4 48.8h0.8v0.8h-0.8zM155.6 60.2h0.8v0.8h-0.8zM156.9 58.1h0.8v0.8h-0.8zM162.8 49.6h0.8v0.8h-0.8zM159.8 47.2h0.8v0.8h-0.8zM156.2 53.6h0.8v0.8h-0.8zM162.0 51.0h0.8v0.8h-0.8zM159.7 62.6h0.8v0.8h-0.8zM158.0 45.5h0.8v0.8h-0.8zM159.0 43.4h0.8v0.8h-0.8zM158.8 52.1h0.8v0.8h-0.8zM155.8 53.6h0.8v0.8h-0.8zM155.2 54.2h0.8v0.8h-0.8zM157.6 57.6h0.8v0.8h-0.8zM152.7 64.9h0.8v0.8h-0.8zM151.2 51.6h0.8v0.8h-0.8zM164.0 50.5h0.8v0.8h-0.8zM156.3 43.8h0.8v0.8h-0.8zM157.4 54.8h0.8v0.8h-0.8zM156.8 58.2h0.8v0.8h-0.8zM157.6 52.1h0.8v0.8h-0.8zM157.6 60.0h0.8v0.8h-0.8zM157.8 53.7h0.8v0.8h-0.8zM153.5 61.8h0.8v0.8h-0.8zM162.2 55.3h0.8v0.8h-0.8zM154.0 47.7h0.8v0.8h-0.8zM162.7 50.0h0.8v0.8h-0.8zM147.9 45.1h0.8v0.8h-0.8zM152.2 43.9h0.8v0.8h-0.8zM162.5 55.0h0.8v0.8h-0.8zM156.8 58.3h0.8v0.8h-0.8zM154.1 64.2h0.8v0.8h-0.8zM159.4 53.2h0.8v0.8h-0.8zM152.3 52.2h0.8v0.8h-0.8zM157.9 47.4h0.8v0.8h-0.8zM146.4 58.9h0.8v0.8h-0.8zM155.2 55.6h0.8v0.8h-0.8zM154.3 50.2h0.8v0.8h-0.8zM160.2 57.3h0.8v0.8h-0.8zM161.9 56.6h0.8v0.8h-0.8zM153.2 43.2h0.8v0.8h-0.8zM165.5 57.6h0.8v0.8h-0.8zM154.5 54.2h0.8v0.8h-0.8zM147.2 51.3h0.8v0.8h-0.8zM145.6 51.2h0.8v0.8h-0.8zM165.2 63.1h0.8v0.8h-0.8zM157.1 61.9h0.8v0.8h-0.8zM154.3 63.5h0.8v0.8h-0.8zM153.8 47.2h0.8v0.8h-0.8zM152.0 49.9h0.8v0.8h-0.8zM164.3 58.5h0.8v0.8h-0.8zM157.1 46.9h0.8v0.8h-0.8zM166.5 49.5h0.8v0.8h-0.8zM156.5 43.6h0.8v0.8h-0.8zM145.7 63.7h0.8v0.8h-0.8zM161.7 59.3h0.8v0.8h-0.8zM155.7 56.0h0.8v0.8h-0.8zM156.3 54.7h0.8v0.8h-0.8zM165.3 51.2h0.8v0.8h-0.8zM156.2 51.3h0.8v0.8h-0.8zM163.3 56.9h0.8v0.8h-0.8zM157.5 49.6h0.8v0.8h-0.8zM153.7 60.3h0.8v0.8h-0.8zM160.0 50.8h0.8v0.8h-0.8zM154.5 48.7h0.8v0.8h-0.8zM163.6 60.6h0.8v0.8h-0.8zM162.3 52.7h0.8v0.8h-0.8zM157.8 56.6h0.8v0.8h-0.8zM160.5 51.2h0.8v0.8h-0.8zM160.3 41.1h0.8v0.8h-0.8zM156.1 56.5h0.8v0.8h-0.8zM162.0 46.1h0.8v0.8h-0.8zM156.4 59.5h0.8v0.8h-0.8zM160.6 45.0h0.8v0.8h-0.8zM152.7 43.2h0.8v0.8h-0.8zM158.0 55.2h0.8v0.8h-0.8zM159.6 55.8h0.8v0.8h-0.8zM153.6 54.1h0.8v0.8h-0.8zM155.4 46.8h0.8v0.8h-0.8zM154.8 58.4h0.8v0.8h-0.8zM161.2 45.4h0.8v0.8h-0.8zM153.9 50.9h0.8v0.8h-0.8zM159.7 49.2h0.8v0.8h-0.8zM165.1 51.4h0.8v0.8h-0.8zM159.3 58.2h0.8v0.8h-0.8zM149.5 50.0h0.8v0.8h-0.8zM158.2 56.6h0.8v0.8h-0.8zM162.7 57.3h0.8v0.8h-0.8zM156.1 44.1h0.8v0.8h-0.8zM163.1 47.1h0.8v0.8h-0.8zM160.6 51.4h0.8v0.8h-0.8zM159.6 50.2h0.8v0.8h-0.8zM156.2 55.2h0.8v0.8h-0.8zM155.0 42.9h0.8v0.8h-0.8zM156.3 57.5h0.8v0.8h-0.8zM157.9 57.6h0.8v0.8h-0.8zM160.2 52.6h0.8v0.8h-0.8zM159.6 45.9h0.8v0.8h-0.8zM156.0 53.5h0.8v0.8h-0.8zM157.9 50.5h0.8v0.8h-0.8zM159.5 56.6h0.8v0.8h-0.8zM149.4 53.0h0.8v0.8h-0.8zM153.7 57.5h0.8v0.8h-0.8zM153.6 51.1h0.8v0.8h-0.8zM156.5 61.4h0.8v0.8h-0.8zM156.2 40.8h0.8v0.8h-0.8zM156.3 47.9h0.8v0.8h-0.8zM153.2 56.2h0.8v0.8h-0.8zM160.9 45.2h0.8v0.8h-0.8zM159.0 57.5h0.8v0.8h-0.8zM149.4 46.8h0.8v0.8h-0.8zM157.6 54.0h0.8v0.8h-0.8zM151.9 48.5h0.8v0.8h-0.8zM166.1 51.1h0.8v0.8h-0.8zM155.3 54.5h0.8v0.8h-0.8zM155.6 52.9h0.8v0.8h-0.8zM158.0 51.4h0.8v0.8h-0.8zM156.6 65.3h0.8v0.8h-0.8zM157.3 53.5h0.8v0.8h-0.8zM165.3 48.2h0.8v0.8h-0.8zM158.7 58.6h0.8v0.8h-0.8zM161.8 58.0h0.8v0.8h-0.8zM163.2 60.2h0.8v0.8h-0.8zM152.7 63.3h0.8v0.8h-0.8zM166.0 48.3h0.8v0.8h-0.8zM161.0 59.3h0.8v0.8h-0.8zM162.4 59.8h0.8v0.8h-0.8zM153.3 53.5h0.8v0.8h-0.8zM161.7 54.8h0.8v0.8h-0.8zM159.7 37.0h0.8v0.8h-0.8zM154.9 50.3h0.8v0.8h-0.8zM169.0 63.3h0.8v0.8h-0.8zM160.4 43.7h0.8v0.8h-0.8zM156.4 50.6h0.8v0.8h-0.8zM158.6 55.1h0.8v0.8h-0.8zM162.1 56.7h0.8v0.8h-0.8zM163.2 62.5h0.8v0.8h-0.8zM160.5 43.8h0.8v0.8h-0.8zM163.7 53.7h0.8v0.8h-0.8zM164.9 58.2h0.8v0.8h-0.8zM151.4 46.3h0.8v0.8h-0.8zM155.2 53.3h0.8v0.8h-0.8zM152.9 63.9h0.8v0.8h-0.8zM158.1 60.7h0.8v0.8h-0.8zM164.8 56.5h0.8v0.8h-0.8zM160.9 39.1h0.8v0.8h-0.8zM152.4 52.8h0.8v0.8h-0.8zM156.1 55.6h0.8v0.8h-0.8zM162.7 51.8h0.8v0.8h-0.8zM154.9 53.1h0.8v0.8h-0.8zM157.1 70.5h0.8v0.8h-0.8zM159.1 52.3h0.8v0.8h-0.8zM148.5 48.2h0.8v0.8h-0.8zM161.5 54.8h0.8v0.8h-0.8zM159.3 51.8h0.8v0.8h-0.8zM160.4 51.8h0.8v0.8h-0.8zM152.7 53.0h0.8v0.8h-0.8zM153.8 57.8h0.8v0.8h-0.8zM154.6 54.8h0.8v0.8h-0.8zM158.9 46.9h0.8v0.8h-0.8zM158.0 52.8h0.8v0.8h-0.8zM158.2 56.1h0.8v0.8h-0.8zM166.6 50.9h0.8v0.8h-0.8zM164.1 59.8h0.8v0.8h-0.8zM154.0 57.8h0.8v0.8h-0.8zM154.3 48.1h0.8v0.8h-0.8zM166.2 55.3h0.8v0.8h-0.8zM156.0 64.4h0.8v0.8h-0.8zM164.5 62.1h0.8v0.8h-0.8zM165.6 53.2h0.8v0.8h-0.8zM154.9 58.4h0.8v0.8h-0.8zM156.3 49.8h0.8v0.8h-0.8zM158.0 45.5h0.8v0.8h-0.8zM153.3 56.5h0.8v0.8h-0.8zM152.7 54.9h0.8v0.8h-0.8zM155.6 56.3h0.8v0.8h-0.8zM161.9 53.4h0.8v0.8h-0.8zM155.4 55.3h0.8v0.8h-0.8zM156.6 50.7h0.8v0.8h-0.8zM168.8 65.6h0.8v0.8h-0.8zM171.0 71.4h0.8v0.8h-0.8zM165.6 66.0h0.8v0.8h-0.8zM170.9 67.8h0.8v0.8h-0.8zM155.4 57.8h0.8v0.8h-0.8zM161.3 62.9h0.8v0.8h-0.8zM174.7 73.1h0.8v0.8h-0.8zM176.6 61.1h0.8v0.8h-0.8zM167.5 64.4h0.8v0.8h-0.8zM165.4 62.1h0.8v0.8h-0.8zM158.4 59.1h0.8v0.8h-0.8zM168.2 57.3h0.8v0.8h-0.8zM170.7 69.4h0.8v0.8h-0.8zM157.1 56.3h0.8v0.8h-0.8zM169.4 64.9h0.8v0.8h-0.8zM168.9 63.6h0.8v0.8h-0.8zM168.6 58.8h0.8v0.8h-0.8zM159.2 59.0h0.8v0.8h-0.8zM169.3 58.4h0.8v0.8h-0.8zM157.0 55.9h0.8v0.8h-0.8zM174.9 67.3h0.8v0.8h-0.8zM166.8 64.5h0.8v0.8h-0.8zM159.0 60.9h0.8v0.8h-0.8zM174.1 67.6h0.8v0.8h-0.8zM172.9 76.1h0.8v0.8h-0.8zM162.1 63.9h0.8v0.8h-0.8zM179.2 65.9h0.8v0.8h-0.8zM160.0 58.7h0.8v0.8h-0.8zM167.9 62.4h0.8v0.8h-0.8zM173.1 67.0h0.8v0.8h-0.8zM152.4 54.9h0.8v0.8h-0.8zM172.0 63.7h0.8v0.8h-0.8zM165.6 70.5h0.8v0.8h-0.8zM165.9 64.3h0.8v0.8h-0.8zM159.5 59.6h0.8v0.8h-0.8zM168.0 64.1h0.8v0.8h-0.8zM159.3 59.9h0.8v0.8h-0.8zM160.2 66.8h0.8v0.8h-0.8zM163.3 64.7h0.8v0.8h-0.8zM158.6 64.9h0.8v0.8h-0.8zM175.4 56.4h0.8v0.8h-0.8zM158.0 61.5h0.8v0.8h-0.8zM161.5 66.1h0.8v0.8h-0.8zM164.1 71.1h0.8v0.8h-0.8zM166.0 64.3h0.8v0.8h-0.8zM170.8 59.6h0.8v0.8h-0.8zM170.9 68.9h0.8v0.8h-0.8zM164.2 60.8h0.8v0.8h-0.8zM163.7 55.8h0.8v0.8h-0.8zM166.2 61.8h0.8v0.8h-0.8zM170.9 70.8h0.8v0.8h-0.8zM170.2 71.0h0.8v0.8h-0.8zM162.9 65.5h0.8v0.8h-0.8zM153.6 53.8h0.8v0.8h-0.8zM178.9 80.6h0.8v0.8h-0.8zM171.7 62.3h0.8v0.8h-0.8zM167.6 64.6h0.8v0.8h-0.8zM168.0 59.4h0.8v0.8h-0.8zM162.9 67.9h0.8v0.8h-0.8zM160.0 62.9h0.8v0.8h-0.8zM164.0 66.7h0.8v0.8h-0.8zM164.7 63.8h0.8v0.8h-0.8zM162.2 62.0h0.8v0.8h-0.8zM157.3 60.5h0.8v0.8h-0.8zM164.1 55.7h0.8v0.8h-0.8zM169.5 69.9h0.8v0.8h-0.8zM163.0 66.3h0.8v0.8h-0.8zM166.1 62.7h0.8v0.8h-0.8zM153.6 57.9h0.8v0.8h-0.8zM164.8 64.7h0.8v0.8h-0.8zM165.3 70.1h0.8v0.8h-0.8zM158.6 62.2h0.8v0.8h-0.8zM155.6 59.1h0.8v0.8h-0.8zM168.5 63.4h0.8v0.8h-0.8zM161.1 55.7h0.8v0.8h-0.8zM168.9 63.2h0.8v0.8h-0.8zM163.5 63.2h0.8v0.8h-0.8zM169.7 65.0h0.8v0.8h-0.8zM164.0 63.5h0.8v0.8h-0.8zM157.0 62.6h0.8v0.8h-0.8zM165.5 65.7h0.8v0.8h-0.8zM164.0 64.3h0.8v0.8h-0.8zM169.9 68.8h0.8v0.8h-0.8zM163.3 63.6h0.8v0.8h-0.8zM163.6 62.9h0.8v0.8h-0.8zM171.2 68.6h0.8v0.8h-0.8zM173.0 60.8h0.8v0.8h-0.8zM170.6 71.5h0.8v0.8h-0.8zM172.2 62.1h0.8v0.8h-0.8zM168.7 68.9h0.8v0.8h-0.8zM170.6 66.6h0.8v0.8h-0.8zM171.3 71.3h0.8v0.8h-0.8zM168.4 65.5h0.8v0.8h-0.8zM166.4 60.6h0.8v0.8h-0.8zM166.9 68.9h0.8v0.8h-0.8zM180.4 72.1h0.8v0.8h-0.8zM166.1 64.7h0.8v0.8h-0.8zM164.6 63.8h0.8v0.8h-0.8zM163.8 67.1h0.8v0.8h-0.8zM165.8 67.4h0.8v0.8h-0.8zM167.5 65.9h0.8v0.8h-0.8zM159.2 54.6h0.8v0.8h-0.8zM154.1 56.6h0.8v0.8h-0.8zM167.8 65.5h0.8v0.8h-0.8zM156.4 66.6h0.8v0.8h-0.8zM167.6 66.5h0.8v0.8h-0.8zM166.8 64.3h0.8v0.8h-0.8zM172.9 72.5h0.8v0.8h-0.8zM176.0 68.8h0.8v0.8h-0.8zM168.2 65.2h0.8v0.8h-0.8zM162.7 63.2h0.8v0.8h-0.8zM159.0 54.7h0.8v0.8h-0.8zM161.2 65.7h0.8v0.8h-0.8zM166.2 66.0h0.8v0.8h-0.8zM153.6 56.9h0.8v0.8h-0.8zM166.5 59.9h0.8v0.8h-0.8zM165.9 65.0h0.8v0.8h-0.8zM169.9 71.8h0.8v0.8h-0.8zM164.0 60.7h0.8v0.8h-0.8zM166.6 60.3h0.8v0.8h-0.8zM161.6 63.7h0.8v0.8h-0.8zM163.2 56.4h0.8v0.8h-0.8zM155.4 50.0h0.8v0.8h-0.8zM166.7 62.8h0.8v0.8h-0.8zM175.3 66.1h0.8v0.8h-0.8zM167.0 63.6h0.8v0.8h-0.8zM168.2 63.1h0.8v0.8h-0.8zM160.1 62.6h0.8v0.8h-0.8zM174.6 67.6h0.8v0.8h-0.8zM161.4 59.5h0.8v0.8h-0.8zM170.8 64.8h0.8v0.8h-0.8zM166.6 67.1h0.8v0.8h-0.8zM160.2 65.2h0.8v0.8h-0.8zM172.2 70.9h0.8v0.8h-0.8zM166.1 67.1h0.8v0.8h-0.8zM167.1 51.6h0.8v0.8h-0.8zM168.7 61.6h0.8v0.8h-0.8zM165.9 62.9h0.8v0.8h-0.8zM163.7 63.9h0.8v0.8h-0.8zM168.8 59.2h0.8v0.8h-0.8zM163.6 68.7h0.8v0.8h-0.8zM166.4 65.6h0.8v0.8h-0.8zM162.0 59.7h0.8v0.8h-0.8zM157.1 60.4h0.8v0.8h-0.8zM162.0 60.8h0.8v0.8h-0.8zM163.0 59.7h0.8v0.8h-0.8zM166.1 66.3h0.8v0.8h-0.8zM173.1 66.0h0.8v0.8h-0.8zM155.9 53.5h0.8v0.8h-0.8zM166.8 62.1h0.8v0.8h-0.8zM152.7 57.1h0.8v0.8h-0.8zM159.7 56.8h0.8v0.8h-0.8zM163.0 67.8h0.8v0.8h-0.8zM152.5 53.1h0.8v0.8h-0.8zM154.9 65.7h0.8v0.8h-0.8zM166.9 68.3h0.8v0.8h-0.8zM166.5 60.7h0.8v0.8h-0.8zM165.3 64.4h0.8v0.8h-0.8zM161.2 66.6h0.8v0.8h-0.8zM178.9 69.9h0.8v0.8h-0.8zM165.0 59.0h0.8v0.8h-0.8zM160.8 62.1h0.8v0.8h-0.8zM176.1 77.2h0.8v0.8h-0.8zM169.7 60.1h0.8v0.8h-0.8zM163.8 65.4h0.8v0.8h-0.8zM173.2 67.9h0.8v0.8h-0.8zM166.9 64.3h0.8v0.8h-0.8zM169.9 64.6h0.8v0.8h-0.8zM167.4 63.7h0.8v0.8h-0.8zM159.8 65.3h0.8v0.8h-0.8zM171.8 69.6h0.8v0.8h-0.8zM167.0 60.8h0.8v0.8h-0.8zM159.9 67.5h0.8v0.8h-0.8zM161.4 56.8h0.8v0.8h-0.8zM171.7 69.8h0.8v0.8h-0.8zM163.8 63.9h0.8v0.8h-0.8zM166.3 69.2h0.8v0.8h-0.8zM169.9 67.7h0.8v0.8h-0.8zM166.8 68.9h0.8v0.8h-0.8zM156.8 59.6h0.8v0.8h-0.8zM169.8 70.1h0.8v0.8h-0.8zM171.6 68.5h0.8v0.8h-0.8zM171.2 75.5h0.8v0.8h-0.8zM175.7 66.4h0.8v0.8h-0.8zM168.2 70.2h0.8v0.8h-0.8zM170.7 68.5h0.8v0.8h-0.8zM175.5 69.8h0.8v0.8h-0.8zM164.3 61.1h0.8v0.8h-0.8zM176.4 71.3h0.8v0.8h-0.8zM176.4 63.6h0.8v0.8h-0.8zM170.7 61.2h0.8v0.8h-0.8zM177.0 72.7h0.8v0.8h-0.8zM171.1 60.6h0.8v0.8h-0.8zM160.7 67.4h0.8v0.8h-0.8zM172.8 66.6h0.8v0.8h-0.8zM168.0 66.3h0.8v0.8h-0.8zM168.5 65.8h0.8v0.8h-0.8zM166.9 66.4h0.8v0.8h-0.8zM174.2 67.3h0.8v0.8h-0.8zM169.3 64.5h0.8v0.8h-0.8zM161.8 61.7h0.8v0.8h-0.8zM168.9 70.0h0.8v0.8h-0.8zM170.4 71.0h0.8v0.8h-0.8zM161.6 67.2h0.8v0.8h-0.8zM163.4 64.5h0.8v0.8h-0.8zM163.7 62.4h0.8v0.8h-0.8zM162.4 55.8h0.8v0.8h-0.8zM168.1 67.9h0.8v0.8h-0.8zM172.1 70.7h0.8v0.8h-0.8zM177.4 68.4h0.8v0.8h-0.8zM173.2 71.1h0.8v0.8h-0.8zM172.1 72.5h0.8v0.8h-0.8zM172.9 68.1h0.8v0.8h-0.8zM174.0 72.5h0.8v0.8h-0.8zM163.7 64.4h0.8v0.8h-0.8zM170.2 59.4h0.8v0.8h-0.8zM167.9 63.4h0.8v0.8h-0.8zM165.2 62.3h0.8v0.8h-0.8zM163.3 65.1h0.8v0.8h-0.8zM163.0 59.3h0.8v0.8h-0.8zM164.4 61.7h0.8v0.8h-0.8zM158.6 56.8h0.8v0.8h-0.8zM169.1 65.7h0.8v0.8h-0.8zM165.9 64.5h0.8v0.8h-0.8zM166.6 68.5h0.8v0.8h-0.8zM168.0 68.5h0.8v0.8h-0.8zM170.3 67.1h0.8v0.8h-0.8zM162.4 63.5h0.8v0.8h-0.8zM165.4 64.4h0.8v0.8h-0.8zM156.3 59.9h0.8v0.8h-0.8zM152.7 63.8h0.8v0.8h-0.8zM154.4 48.5h0.8v0.8h-0.8zM175.2 68.2h0.8v0.8h-0.8zM155.0 60.1h0.8v0.8h-0.8zM168.8 70.2h0.8v0.8h-0.8zM174.9 64.4h0.8v0.8h-0.8zM163.3 64.3h0.8v0.8h-0.8zM175.8 72.6h0.8v0.8h-0.8zM177.1 68.1h0.8v0.8h-0.8zM171.7 59.5h0.8v0.8h-0.8zM180.2 70.0h0.8v0.8h-0.8zM169.7 61.4h0.8v0.8h-0.8zM161.6 64.7h0.8v0.8h-0.8zM169.1 62.5h0.8v0.8h-0.8zM163.4 70.1h0.8v0.8h-0.8zM158.2 61.0h0.8v0.8h-0.8zM158.4 57.3h0.8v0.8h-0.8zM179.9 69.2h0.8v0.8h-0.8zM162.8 58.3h0.8v0.8h-0.8zM165.9 65.8h0.8v0.8h-0.8zM162.1 68.3h0.8v0.8h-0.8zM166.9 63.9h0.8v0.8h-0.8zM164.6 67.3h0.8v0.8h-0.8zM163.6 59.3h0.8v0.8h-0.8zM158.8 61.9h0.8v0.8h-0.8zM157.6 69.3h0.8v0.8h-0.8zM161.6 56.5h0.8v0.8h-0.8zM167.8 70.2h0.8v0.8h-0.8zM178.5 75.3h0.8v0.8h-0.8zM172.4 60.0h0.8v0.8h-0.8zM177.0 64.1h0.8v0.8h-0.8zM169.0 61.9h0.8v0.8h-0.8zM165.6 68.0h0.8v0.8h-0.8zM158.1 58.7h0.8v0.8h-0.8zM166.1 63.7h0.8v0.8h-0.8zM153.2 60.8h0.8v0.8h-0.8zM164.3 63.9h0.8v0.8h-0.8zM175.9 70.1h0.8v0.8h-0.8zM168.1 64.1h0.8v0.8h-0.8zM172.9 72.2h0.8v0.8h-0.8zM163.8 60.1h0.8v0.8h-0.8zM157.9 66.9h0.8v0.8h-0.8zM163.2 61.6h0.8v0.8h-0.8zM163.7 60.0h0.8v0.8h-0.8zM173.4 70.6h0.8v0.8h-0.8zM178.0 72.1h0.8v0.8h-0.8zM161.7 54.2h0.8v0.8h-0.8zM164.0 64.2h0.8v0.8h-0.8zM165.3 58.5h0.8v0.8h-0.8zM164.0 60.0h0.8v0.8h-0.8zM158.7 63.8h0.8v0.8h-0.8zM166.7 61.2h0.8v0.8h-0.8zM168.3 66.9h0.8v0.8h-0.8zM168.5 64.0h0.8v0.8h-0.8zM158.9 68.5h0.8v0.8h-0.8zM165.5 63.6h0.8v0.8h-0.8zM155.7 54.4h0.8v0.8h-0.8zM171.6 62.7h0.8v0.8h-0.8zM160.0 57.7h0.8v0.8h-0.8zM164.5 64.1h0.8v0.8h-0.8zM163.5 63.0h0.8v0.8h-0.8zM162.7 66.5h0.8v0.8h-0.8zM159.8 61.9h0.8v0.8h-0.8zM155.6 59.6h0.8v0.8h-0.8zM176.6 70.9h0.8v0.8h-0.8zM167.7 64.6h0.8v0.8h-0.8zM167.8 66.3h0.8v0.8h-0.8zM178.8 73.8h0.8v0.8h-0.8zM165.6 67.2h0.8v0.8h-0.8zM169.5 63.8h0.8v0.8h-0.8zM148.0 58.5h0.8v0.8h-0.8zM157.6 69.3h0.8v0.8h-0.8zM168.5 78.8h0.8v0.8h-0.8zM140.8 49.8h0.8v0.8h-0.8zM160.9 60.8h0.8v0.8h-0.8zM170.1 59.6h0.8v0.8h-0.8zM160.0 62.2h0.8v0.8h-0.8zM154.4 39.7h0.8v0.8h-0.8zM183.2 61.9h0.8v0.8h-0.8zM179.5 60.3h0.8v0.8h-0.8zM163.0 51.1h0.8v0.8h-0.8zM178.8 60.8h0.8v0.8h-0.8zM178.6 45.0h0.8v0.8h-0.8zM154.3 75.1h0.8v0.8h-0.8zM192.4 70.8h0.8v0.8h-0.8zM156.2 81.1h0.8v0.8h-0.8zM163.0 50.0h0.8v0.8h-0.8zM154.6 45.1h0.8v0.8h-0.8zM166.4 64.2h0.8v0.8h-0.8zM152.4 38.8h0.8v0.8h-0.8zM165.5 63.3h0.8v0.8h-0.8zM176.4 54.4h0.8v0.8h-0.8zM167.7 57.2h0.8v0.8h-0.8zM162.9 63.2h0.8v0.8h-0.8zM181.0 64.0h0.8v0.8h-0.8zM156.6 80.9h0.8v0.8h-0.8zM175.2 69.8h0.8v0.8h-0.8zM162.5 45.0h0.8v0.8h-0.8zM167.7 72.6h0.8v0.8h-0.8zM165.8 45.0h0.8v0.8h-0.8zM166.8 61.9h0.8v0.8h-0.8zM165.0 46.0h0.8v0.8h-0.8zM157.7 49.6h0.8v0.8h-0.8zM159.8 75.1h0.8v0.8h-0.8zM169.9 54.9h0.8v0.8h-0.8zM164.4 52.9h0.8v0.8h-0.8zM153.9 52.0h0.8v0.8h-0.8zM158.4 55.7h0.8v0.8h-0.8zM158.5 76.3h0.8v0.8h-0.8zM164.9 46.7h0.8v0.8h-0.8zM167.2 46.5h0.8v0.8h-0.8zM166.4 67.6h0.8v0.8h-0.8zM158.9 40.8h0.8v0.8h-0.8zM165.6 56.4h0.8v0.8h-0.8zM151.7 71.4h0.8v0.8h-0.8zM136.6 55.4h0.8v0.8h-0.8zM164.9 54.9h0.8v0.8h-0.8zM148.9 49.3h0.8v0.8h-0.8zM155.9 48.2h0.8v0.8h-0.8zM153.3 51.5h0.8v0.8h-0.8zM171.7 63.3h0.8v0.8h-0.8zM153.3 73.0h0.8v0.8h-0.8zM168.1 72.4h0.8v0.8h-0.8zM160.5 53.1h0.8v0.8h-0.8zM153.0 49.8h0.8v0.8h-0.8zM149.6 65.9h0.8v0.8h-0.8zM169.9 40.1h0.8v0.8h-0.8zM169.2 56.1h0.8v0.8h-0.8zM173.0 58.1h0.8v0.8h-0.8zM183.6 50.8h0.8v0.8h-0.8zM168.0 49.3h0.8v0.8h-0.8zM168.1 65.1h0.8v0.8h-0.8zM164.0 40.9h0.8v0.8h-0.8zM166.3 49.9h0.8v0.8h-0.8zM161.7 52.2h0.8v0.8h-0.8zM156.3 59.8h0.8v0.8h-0.8zM185.1 47.9h0.8v0.8h-0.8zM146.6 69.8h0.8v0.8h-0.8zM167.7 57.2h0.8v0.8h-0.8zM169.6 58.1h0.8v0.8h-0.8zM166.7 56.4h0.8v0.8h-0.8zM155.5 50.7h0.8v0.8h-0.8zM163.2 48.5h0.8v0.8h-0.8zM160.5 73.0h0.8v0.8h-0.8zM154.4 60.8h0.8v0.8h-0.8zM164.6 58.9h0.8v0.8h-0.8zM161.0 71.2h0.8v0.8h-0.8zM159.6 51.0h0.8v0.8h-0.8zM171.9 68.9h0.8v0.8h-0.8zM154.5 58.6h0.8v0.8h-0.8zM169.5 50.6h0.8v0.8h-0.8zM158.9 68.0h0.8v0.8h-0.8zM169.3 43.5h0.8v0.8h-0.8zM165.7 68.0h0.8v0.8h-0.8zM167.4 50.3h0.8v0.8h-0.8zM155.2 63.2h0.8v0.8h-0.8zM157.3 75.0h0.8v0.8h-0.8zM156.4 65.3h0.8v0.8h-0.8zM166.7 53.4h0.8v0.8h-0.8zM172.4 61.2h0.8v0.8h-0.8zM175.7 57.8h0.8v0.8h-0.8zM160.0 45.5h0.8v0.8h-0.8zM165.8 47.3h0.8v0.8h-0.8zM148.8 57.7h0.8v0.8h-0.8zM142.8 62.4h0.8v0.8h-0.8zM156.3 37.9h0.8v0.8h-0.8zM158.3 58.0h0.8v0.8h-0.8zM149.4 63.2h0.8v0.8h-0.8zM147.2 58.1h0.8v0.8h-0.8zM170.2 49.3h0.8v0.8h-0.8zM156.9 70.7h0.8v0.8h-0.8zM148.1 42.8h0.8v0.8h-0.8zM188.0 71.8h0.8v0.8h-0.8zM166.6 79.0h0.8v0.8h-0.8zM161.7 35.6h0.8v0.8h-0.8zM171.6 64.2h0.8v0.8h-0.8zM157.3 62.3h0.8v0.8h-0.8zM180.7 65.5h0.8v0.8h-0.8zM149.5 48.2h0.8v0.8h-0.8zM151.8 54.0h0.8v0.8h-0.8zM163.4 43.4h0.8v0.8h-0.8zM157.2 60.1h0.8v0.8h-0.8zM178.9 68.7h0.8v0.8h-0.8zM148.8 49.3h0.8v0.8h-0.8zM157.5 47.8h0.8v0.8h-0.8zM167.1 54.8h0.8v0.8h-0.8zM170.4 60.8h0.8v0.8h-0.8zM174.7 62.4h0.8v0.8h-0.8zM168.2 59.3h0.8v0.8h-0.8zM186.7 64.6h0.8v0.8h-0.8zM160.0 43.7h0.8v0.8h-0.8zM166.5 28.4h0.8v0.8h-0.8zM173.2 68.6h0.8v0.8h-0.8zM161.5 75.8h0.8v0.8h-0.8zM161.8 42.8h0.8v0.8h-0.8zM160.0 51.2h0.8v0.8h-0.8zM158.2 62.2h0.8v0.8h-0.8zM153.4 68.9h0.8v0.8h-0.8zM159.1 66.4h0.8v0.8h-0.8zM149.2 71.9h0.8v0.8h-0.8zM168.4 59.9h0.8v0.8h-0.8zM148.8 61.8h0.8v0.8h-0.8zM185.2 68.3h0.8v0.8h-0.8zM181.5 57.8h0.8v0.8h-0.8zM175.6 75.8h0.8v0.8h-0.8zM162.5 66.7h0.8v0.8h-0.8zM158.7 70.1h0.8v0.8h-0.8zM176.8 57.4h0.8v0.8h-0.8zM166.4 72.1h0.8v0.8h-0.8zM170.1 48.5h0.8v0.8h-0.8zM157.4 63.1h0.8v0.8h-0.8zM175.2 31.3h0.8v0.8h-0.8zM156.6 46.6h0.8v0.8h-0.8zM165.6 68.5h0.8v0.8h-0.8zM147.3 51.4h0.8v0.8h-0.8zM158.0 60.6h0.8v0.8h-0.8zM169.5 41.8h0.8v0.8h-0.8zM160.0 76.9h0.8v0.8h-0.8zM160.1 65.9h0.8v0.8h-0.8zM172.4 60.9h0.8v0.8h-0.8zM163.8 64.4h0.8v0.8h-0.8zM176.9 65.8h0.8v0.8h-0.8zM140.4 71.8h0.8v0.8h-0.8zM170.2 63.2h0.8v0.8h-0.8zM169.6 43.5h0.8v0.8h-0.8zM149.1 54.0h0.8v0.8h-0.8zM151.6 72.3h0.8v0.8h-0.8zM173.2 67.9h0.8v0.8h-0.8zM153.9 52.9h0.8v0.8h-0.8zM158.1 65.7h0.8v0.8h-0.8zM170.4 62.1h0.8v0.8h-0.8zM161.2 66.2h0.8v0.8h-0.8zM169.2 42.2h0.8v0.8h-0.8zM155.8 47.7h0.8v0.8h-0.8zM167.4 68.0h0.8v0.8h-0.8zM175.3 59.1h0.8v0.8h-0.8zM167.7 64.4h0.8v0.8h-0.8zM142.6 78.5h0.8v0.8h-0.8zM171.0 57.3h0.8v0.8h-0.8zM165.1 62.6h0.8v0.8h-0.8zM155.4 51.6h0.8v0.8h-0.8zM178.3 55.0h0.8v0.8h-0.8zM147.1 55.7h0.8v0.8h-0.8zM183.1 46.2h0.8v0.8h-0.8zM158.2 34.2h0.8v0.8h-0.8zM180.1 78.4h0.8v0.8h-0.8zM164.0 58.4h0.8v0.8h-0.8zM151.2 70.4h0.8v0.8h-0.8zM165.4 61.3h0.8v0.8h-0.8zM167.8 62.0h0.8v0.8h-0.8zM169.9 68.5h0.8v0.8h-0.8zM175.0 70.0h0.8v0.8h-0.8zM155.5 44.2h0.8v0.8h-0.8zM169.4 74.6h0.8v0.8h-0.8zM171.8 49.8h0.8v0.8h-0.8zM161.8 61.6h0.8v0.8h-0.8zM155.1 87.7h0.8v0.8h-0.8zM154.9 58.9h0.8v0.8h-0.8zM171.9 80.4h0.8v0.8h-0.8zM172.4 57.1h0.8v0.8h-0.8zM156.2 65.4h0.8v0.8h-0.8zM151.1 57.9h0.8v0.8h-0.8zM176.8 66.8h0.8v0.8h-0.8zM149.0 47.0h0.8v0.8h-0.8zM166.0 49.4h0.8v0.8h-0.8zM156.4 62.2h0.8v0.8h-0.8zM147.0 38.5h0.8v0.8h-0.8zM165.7 50.2h0.8v0.8h-0.8zM162.6 66.8h0.8v0.8h-0.8zM178.8 55.2h0.8v0.8h-0.8zM187.1 53.5h0.8v0.8h-0.8zM162.6 46.6h0.8v0.8h-0.8zM174.7 63.3h0.8v0.8h-0.8zM174.8 57.4h0.8v0.8h-0.8zM159.2 60.5h0.8v0.8h-0.8zM155.8 56.0h0.8v0.8h-0.8zM180.5 84.1h0.8v0.8h-0.8zM160.8 54.0h0.8v0.8h-0.8zM164.2 37.0h0.8v0.8h-0.8zM161.5 60.6h0.8v0.8h-0.8zM163.1 59.5h0.8v0.8h-0.8zM158.4 60.5h0.8v0.8h-0.8zM171.9 42.5h0.8v0.8h-0.8zM176.9 75.1h0.8v0.8h-0.8zM160.7 58.7h0.8v0.8h-0.8zM150.7 56.8h0.8v0.8h-0.8zM164.9 41.5h0.8v0.8h-0.8zM149.6 62.5h0.8v0.8h-0.8zM158.1 57.8h0.8v0.8h-0.8zM176.7 77.6h0.8v0.8h-0.8zM187.5 59.1h0.8v0.8h-0.8zM168.2 46.1h0.8v0.8h-0.8zM153.8 59.3h0.8v0.8h-0.8zM172.2 50.6h0.8v0.8h-0.8zM142.1 60.5h0.8v0.8h-0.8zM157.5 46.0h0.8v0.8h-0.8zM179.6 61.0h0.8v0.8h-0.8zM171.9 58.5h0.8v0.8h-0.8zM150.7 56.9h0.8v0.8h-0.8zM147.9 50.8h0.8v0.8h-0.8zM172.9 51.9h0.8v0.8h-0.8zM164.0 59.0h0.8v0.8h-0.8zM158.5 52.0h0.8v0.8h-0.8zM168.5 62.2h0.8v0.8h-0.8zM158.7 55.6h0.8v0.8h-0.8zM145.3 30.4h0.8v0.8h-0.8zM172.5 60.5h0.8v0.8h-0.8zM158.0 74.6h0.8v0.8h-0.8zM154.5 61.4h0.8v0.8h-0.8zM151.2 64.3h0.8v0.8h-0.8zM166.9 65.4h0.8v0.8h-0.8zM156.4 52.9h0.8v0.8h-0.8zM170.7 45.5h0.8v0.8h-0.8zM161.8 68.6h0.8v0.8h-0.8zM175.2 73.8h0.8v0.8h-0.8zM160.6 65.6h0.8v0.8h-0.8zM157.9 63.4h0.8v0.8h-0.8zM144.8 60.8h0.8v0.8h-0.8zM153.5 57.5h0.8v0.8h-0.8zM171.6 64.2h0.8v0.8h-0.8zM194.8 65.4h0.8v0.8h-0.8zM152.0 61.2h0.8v0.8h-0.8zM154.1 47.0h0.8v0.8h-0.8zM167.8 53.1h0.8v0.8h-0.8zM169.2 67.1h0.8v0.8h-0.8zM157.7 54.6h0.8v0.8h-0.8zM165.2 32.1h0.8v0.8h-0.8zM148.4 58.3h0.8v0.8h-0.8zM161.5 33.0h0.8v0.8h-0.8zM173.4 83.3h0.8v0.8h-0.8zM180.7 70.9h0.8v0.8h-0.8zM162.8 67.2h0.8v0.8h-0.8zM161.9 51.7h0.8v0.8h-0.8zM169.0 47.7h0.8v0.8h-0.8zM175.5 59.3h0.8v0.8h-0.8zM169.3 60.9h0.8v0.8h-0.8zM157.0 49.6h0.8v0.8h-0.8zM168.0 62.2h0.8v0.8h-0.8zM174.1 69.4h0.8v0.8h-0.8zM157.4 65.4h0.8v0.8h-0.8zM151.2 45.5h0.8v0.8h-0.8zM169.5 36.0h0.8v0.8h-0.8zM168.1 60.5h0.8v0.8h-0.8zM174.1 54.0h0.8v0.8h-0.8zM165.3 65.1h0.8v0.8h-0.8zM158.1 77.4h0.8v0.8h-0.8zM160.1 77.7h0.8v0.8h-0.8zM154.2 61.2h0.8v0.8h-0.8zM155.0 70.8h0.8v0.8h-0.8zM158.9 77.5h0.8v0.8h-0.8zM159.7 59.5h0.8v0.8h-0.8zM175.6 64.9h0.8v0.8h-0.8zM152.3 67.4h0.8v0.8h-0.8zM164.0 59.4h0.8v0.8h-0.8zM158.6 53.1h0.8v0.8h-0.8zM179.3 54.0h0.8v0.8h-0.8zM167.1 60.4h0.8v0.8h-0.8zM160.8 52.2h0.8v0.8h-0.8zM172.6 70.4h0.8v0.8h-0.8zM165.2 56.2h0.8v0.8h-0.8zM159.8 75.7h0.8v0.8h-0.8zM179.8 76.4h0.8v0.8h-0.8zM171.6 47.1h0.8v0.8h-0.8zM181.7 75.3h0.8v0.8h-0.8zM176.0 57.4h0.8v0.8h-0.8zM172.2 76.9h0.8v0.8h-0.8zM165.8 66.0h0.8v0.8h-0.8zM153.7 57.5h0.8v0.8h-0.8zM171.6 68.9h0.8v0.8h-0.8zM165.3 53.8h0.8v0.8h-0.8zM171.3 64.9h0.8v0.8h-0.8zM164.5 64.3h0.8v0.8h-0.8zM157.7 57.1h0.8v0.8h-0.8zM154.5 62.6h0.8v0.8h-0.8zM171.5 50.0h0.8v0.8h-0.8zM177.4 68.7h0.8v0.8h-0.8zM161.7 45.8h0.8v0.8h-0.8zM169.1 67.9h0.8v0.8h-0.8zM178.3 67.9h0.8v0.8h-0.8zM156.3 66.6h0.8v0.8h-0.8zM161.2 53.2h0.8v0.8h-0.8zM153.4 92.4h0.8v0.8h-0.8zM176.3 59.6h0.8v0.8h-0.8zM167.2 62.3h0.8v0.8h-0.8zM160.0 50.8h0.8v0.8h-0.8zM148.1 73.3h0.8v0.8h-0.8zM162.8 54.5h0.8v0.8h-0.8zM174.5 73.2h0.8v0.8h-0.8zM161.6 49.0h0.8v0.8h-0.8zM160.4 62.9h0.8v0.8h-0.8zM171.0 57.2h0.8v0.8h-0.8zM152.3 68.5h0.8v0.8h-0.8zM165.1 57.0h0.8v0.8h-0.8zM170.5 51.6h0.8v0.8h-0.8zM156.9 63.9h0.8v0.8h-0.8zM156.4 45.3h0.8v0.8h-0.8zM167.1 49.9h0.8v0.8h-0.8zM163.6 68.7h0.8v0.8h-0.8zM162.3 38.8h0.8v0.8h-0.8zM166.7 69.2h0.8v0.8h-0.8zM166.8 56.2h0.8v0.8h-0.8zM155.4 48.3h0.8v0.8h-0.8zM158.0 61.9h0.8v0.8h-0.8zM169.1 68.2h0.8v0.8h-0.8zM175.8 55.8h0.8v0.8h-0.8zM178.1 60.8h0.8v0.8h-0.8zM156.2 67.8h0.8v0.8h-0.8zM175.5 70.8h0.8v0.8h-0.8zM172.2 61.2h0.8v0.8h-0.8zM164.3 51.7h0.8v0.8h-0.8zM169.5 50.6h0.8v0.8h-0.8zM172.9 55.2h0.8v0.8h-0.8zM182.4 71.2h0.8v0.8h-0.8zM154.2 65.0h0.8v0.8h-0.8zM170.6 64.9h0.8v0.8h-0.8zM163.3 75.8h0.8v0.8h-0.8zM162.6 56.7h0.8v0.8h-0.8zM176.0 58.2h0.8v0.8h-0.8zM172.8 57.6h0.8v0.8h-0.8zM154.6 80.1h0.8v0.8h-0.8zM161.9 36.9h0.8v0.8h-0.8zM166.9 64.2h0.8v0.8h-0.8zM150.7 63.0h0.8v0.8h-0.8zM173.2 62.8h0.8v0.8h-0.8zM163.9 86.6h0.8v0.8h-0.8zM166.3 74.0h0.8v0.8h-0.8zM168.0 69.8h0.8v0.8h-0.8zM182.6 53.7h0.8v0.8h-0.8zM165.0 66.2h0.8v0.8h-0.8zM161.1 55.8h0.8v0.8h-0.8zM181.9 64.2h0.8v0.8h-0.8zM159.7 62.0h0.8v0.8h-0.8zM159.5 54.3h0.8v0.8h-0.8zM151.0 65.2h0.8v0.8h-0.8zM175.4 80.8h0.8v0.8h-0.8zM167.4 72.7h0.8v0.8h-0.8zM169.4 63.9h0.8v0.8h-0.8zM166.3 39.4h0.8v0.8h-0.8zM163.4 72.6h0.8v0.8h-0.8zM156.9 71.3h0.8v0.8h-0.8zM157.0 57.1h0.8v0.8h-0.8zM169.0 56.1h0.8v0.8h-0.8zM165.9 68.3h0.8v0.8h-0.8zM180.9 54.6h0.8v0.8h-0.8zM157.2 68.3h0.8v0.8h-0.8zM159.9 47.8h0.8v0.8h-0.8zM154.6 48.7h0.8v0.8h-0.8zM178.3 63.4h0.8v0.8h-0.8zM152.5 42.3h0.8v0.8h-0.8zM172.3 62.2h0.8v0.8h-0.8zM178.9 69.3h0.8v0.8h-0.8zM163.3 45.9h0.8v0.8h-0.8zM171.9 72.4h0.8v0.8h-0.8zM143.7 50.7h0.8v0.8h-0.8zM160.9 66.2h0.8v0.8h-0.8zM148.3 60.2h0.8v0.8h-0.8zM166.4 56.0h0.8v0.8h-0.8zM164.8 55.0h0.8v0.8h-0.8zM157.1 40.4h0.8v0.8h-0.8zM174.1 54.7h0.8v0.8h-0.8zM168.2 52.9h0.8v0.8h-0.8zM159.6 78.2h0.8v0.8h-0.8zM159.7 71.3h0.8v0.8h-0.8zM150.2 43.0h0.8v0.8h-0.8zM162.9 69.4h0.8v0.8h-0.8zM185.7 67.1h0.8v0.8h-0.8zM157.7 55.4h0.8v0.8h-0.8zM168.9 66.8h0.8v0.8h-0.8zM159.3 68.7h0.8v0.8h-0.8zM172.7 56.0h0.8v0.8h-0.8zM169.1 58.6h0.8v0.8h-0.8zM162.4 62.3h0.8v0.8h-0.8zM147.1 46.7h0.8v0.8h-0.8zM159.7 62.0h0.8v0.8h-0.8zM176.6 62.1h0.8v0.8h-0.8zM162.3 52.9h0.8v0.8h-0.8zM171.0 52.7h0.8v0.8h-0.8zM160.0 63.4h0.8v0.8h-0.8zM146.3 67.3h0.8v0.8h-0.8zM169.0 65.3h0.8v0.8h-0.8zM167.9 52.0h0.8v0.8h-0.8zM159.0 68.2h0.8v0.8h-0.8zM161.1 62.1h0.8v0.8h-0.8zM167.6 68.0h0.8v0.8h-0.8zM158.9 72.8h0.8v0.8h-0.8zM168.2 51.5h0.8v0.8h-0.8zM162.7 59.0h0.8v0.8h-0.8zM141.5 50.1h0.8v0.8h-0.8zM163.3 51.0h0.8v0.8h-0.8zM158.9 82.1h0.8v0.8h-0.8zM156.5 69.9h0.8v0.8h-0.8zM168.7 42.0h0.8v0.8h-0.8zM159.9 64.8h0.8v0.8h-0.8zM170.1 55.7h0.8v0.8h-0.8zM175.6 75.6h0.8v0.8h-0.8zM166.2 62.1h0.8v0.8h-0.8zM149.5 56.2h0.8v0.8h-0.8zM157.5 61.2h0.8v0.8h-0.8zM173.8 66.8h0.8v0.8h-0.8zM162.2 60.8h0.8v0.8h-0.8zM156.8 57.1h0.8v0.8h-0.8zM163.9 59.2h0.8v0.8h-0.8zM169.8 67.5h0.8v0.8h-0.8zM167.3 48.9h0.8v0.8h-0.8zM171.2 62.1h0.8v0.8h-0.8zM156.6 58.1h0.8v0.8h-0.8zM162.1 55.1h0.8v0.8h-0.8zM162.3 68.7h0.8v0.8h-0.8zM164.6 46.6h0.8v0.8h-0.8zM144.1 53.2h0.8v0.8h-0.8zM162.5 51.1h0.8v0.8h-0.8zM151.5 64.6h0.8v0.8h-0.8zM178.5 58.2h0.8v0.8h-0.8zM180.2 64.3h0.8v0.8h-0.8zM181.4 68.2h0.8v0.8h-0.8zM172.8 44.7h0.8v0.8h-0.8zM160.0 65.1h0.8v0.8h-0.8zM174.3 54.4h0.8v0.8h-0.8zM162.8 57.8h0.8v0.8h-0.8zM170.9 60.8h0.8v0.8h-0.8zM155.9 68.3h0.8v0.8h-0.8zM159.0 68.1h0.8v0.8h-0.8zM169.4 81.4h0.8v0.8h-0.8zM182.3 66.1h0.8v0.8h-0.8zM164.6 55.6h0.8v0.8h-0.8zM187.1 59.4h0.8v0.8h-0.8zM192.1 73.1h0.8v0.8h-0.8zM152.1 76.4h0.8v0.8h-0.8zM164.6 64.7h0.8v0.8h-0.8zM155.4 52.9h0.8v0.8h-0.8zM163.5 63.8h0.8v0.8h-0.8zM159.5 62.9h0.8v0.8h-0.8zM164.2 61.2h0.8v0.8h-0.8zM174.4 54.5h0.8v0.8h-0.8zM174.1 34.5h0.8v0.8h-0.8zM167.4 55.5h0.8v0.8h-0.8zM164.9 72.6h0.8v0.8h-0.8zM166.0 63.5h0.8v0.8h-0.8zM166.1 36.7h0.8v0.8h-0.8zM170.5 62.0h0.8v0.8h-0.8zM164.9 40.5h0.8v0.8h-0.8zM169.8 83.9h0.8v0.8h-0.8zM151.9 60.8h0.8v0.8h-0.8zM172.7 49.1h0.8v0.8h-0.8zM182.1 72.9h0.8v0.8h-0.8zM166.7 52.6h0.8v0.8h-0.8zM150.9 64.7h0.8v0.8h-0.8zM178.2 63.6h0.8v0.8h-0.8zM161.6 47.3h0.8v0.8h-0.8zM135.3 63.0h0.8v0.8h-0.8zM162.7 45.7h0.8v0.8h-0.8zM170.8 76.9h0.8v0.8h-0.8zM168.7 62.3h0.8v0.8h-0.8zM177.1 51.8h0.8v0.8h-0.8zM171.0 42.0h0.8v0.8h-0.8zM166.1 79.1h0.8v0.8h-0.8zM145.3 73.5h0.8v0.8h-0.8zM153.8 45.1h0.8v0.8h-0.8zM166.6 79.5h0.8v0.8h-0.8zM171.6 64.0h0.8v0.8h-0.8zM154.7 56.7h0.8v0.8h-0.8zM158.8 58.9h0.8v0.8h-0.8zM169.5 58.8h0.8v0.8h-0.8zM146.0 73.4h0.8v0.8h-0.8zM145.6 59.2h0.8v0.8h-0.8zM162.6 40.2h0.8v0.8h-0.8zM167.4 84.6h0.8v0.8h-0.8zM160.1 69.9h0.8v0.8h-0.8zM142.2 44.8h0.8v0.8h-0.8zM165.1 57.1h0.8v0.8h-0.8zM151.7 48.6h0.8v0.8h-0.8zM171.3 62.7h0.8v0.8h-0.8zM163.9 65.2h0.8v0.8h-0.8zM167.5 64.1h0.8v0.8h-0.8zM171.2 55.5h0.8v0.8h-0.8zM159.7 51.2h0.8v0.8h-0.8zM173.1 71.8h0.8v0.8h-0.8zM177.2 62.1h0.8v0.8h-0.8zM168.8 86.6h0.8v0.8h-0.8zM178.0 54.4h0.8v0.8h-0.8zM158.7 68.6h0.8v0.8h-0.8zM173.9 63.2h0.8v0.8h-0.8zM167.5 53.0h0.8v0.8h-0.8zM155.1 74.3h0.8v0.8h-0.8zM164.1 62.2h0.8v0.8h-0.8zM159.6 50.1h0.8v0.8h-0.8zM159.4 56.5h0.8v0.8h-0.8zM165.7 72.4h0.8v0.8h-0.8zM175.4 49.3h0.8v0.8h-0.8zM161.7 75.7h0.8v0.8h-0.8zM166.1 68.8h0.8v0.8h-0.8zM150.4 55.3h0.8v0.8h-0.8zM165.9 76.2h0.8v0.8h-0.8zM176.3 82.4h0.8v0.8h-0.8zM172.9 69.1h0.8v0.8h-0.8zM169.6 63.7h0.8v0.8h-0.8zM159.7 80.5h0.8v0.8h-0.8zM155.2 75.8h0.8v0.8h-0.8zM164.0 50.5h0.8v0.8h-0.8zM151.6 56.3h0.8v0.8h-0.8zM152.7 56.4h0.8v0.8h-0.8zM174.2 58.1h0.8v0.8h-0.8zM155.8 42.7h0.8v0.8h-0.8zM182.7 74.2h0.8v0.8h-0.8zM150.7 59.4h0.8v0.8h-0.8zM169.1 62.8h0.8v0.8h-0.8zM153.3 74.5h0.8v0.8h-0.8zM166.6 55.0h0.8v0.8h-0.8zM154.6 58.5h0.8v0.8h-0.8zM165.3 64.1h0.8v0.8h-0.8zM163.3 55.9h0.8v0.8h-0.8zM160.4 58.9h0.8v0.8h-0.8zM170.0 70.4h0.8v0.8h-0.8zM179.8 63.6h0.8v0.8h-0.8zM159.0 74.7h0.8v0.8h-0.8zM173.6 54.2h0.8v0.8h-0.8zM165.7 63.4h0.8v0.8h-0.8zM164.6 45.0h0.8v0.8h-0.8zM186.6 63.6h0.8v0.8h-0.8zM143.4 49.3h0.8v0.8h-0.8zM158.1 74.9h0.8v0.8h-0.8zM147.0 66.0h0.8v0.8h-0.8zM161.8 66.1h0.8v0.8h-0.8zM162.6 81.1h0.8v0.8h-0.8zM202.6 83.9h0.8v0.8h-0.8zM168.3 69.6h0.8v0.8h-0.8zM182.7 56.5h0.8v0.8h-0.8zM177.7 47.2h0.8v0.8h-0.8zM160.5 59.9h0.8v0.8h-0.8zM169.6 57.9h0.8v0.8h-0.8zM181.4 56.7h0.8v0.8h-0.8zM166.6 58.0h0.8v0.8h-0.8zM167.0 42.9h0.8v0.8h-0.8zM169.9 78.5h0.8v0.8h-0.8zM150.0 45.6h0.8v0.8h-0.8zM156.8 52.0h0.8v0.8h-0.8zM168.2 67.9h0.8v0.8h-0.8zM170.3 43.8h0.8v0.8h-0.8zM155.8 69.6h0.8v0.8h-0.8zM161.7 70.9h0.8v0.8h-0.8zM163.7 57.3h0.8v0.8h-0.8zM163.4 48.7h0.8v0.8h-0.8zM171.7 56.9h0.8v0.8h-0.8zM165.9 40.5h0.8v0.8h-0.8zM166.5 76.8h0.8v0.8h-0.8zM150.9 59.1h0.8v0.8h-0.8zM154.4 50.9h0.8v0.8h-0.8zM168.1 51.4h0.8v0.8h-0.8zM149.1 64.6h0.8v0.8h-0.8zM167.5 78.3h0.8v0.8h-0.8zM158.3 45.5h0.8v0.8h-0.8zM156.8 53.1h0.8v0.8h-0.8zM171.3 42.4h0.8v0.8h-0.8zM158.1 67.3h0.8v0.8h-0.8zM156.3 61.2h0.8v0.8h-0.8zM158.2 85.1h0.8v0.8h-0.8zM165.4 59.7h0.8v0.8h-0.8zM192.1 61.0h0.8v0.8h-0.8zM143.8 49.2h0.8v0.8h-0.8zM164.6 70.5h0.8v0.8h-0.8zM162.4 42.3h0.8v0.8h-0.8zM174.3 71.1h0.8v0.8h-0.8zM161.1 63.1h0.8v0.8h-0.8zM140.3 50.9h0.8v0.8h-0.8zM178.0 53.2h0.8v0.8h-0.8zM154.0 70.9h0.8v0.8h-0.8zM164.2 81.8h0.8v0.8h-0.8zM151.2 53.5h0.8v0.8h-0.8zM153.9 65.0h0.8v0.8h-0.8zM159.9 79.7h0.8v0.8h-0.8zM173.3 55.5h0.8v0.8h-0.8zM173.2 59.6h0.8v0.8h-0.8zM158.8 46.2h0.8v0.8h-0.8zM169.8 60.2h0.8v0.8h-0.8zM161.1 59.4h0.8v0.8h-0.8zM165.9 56.5h0.8v0.8h-0.8zM166.3 52.9h0.8v0.8h-0.8zM170.9 44.2h0.8v0.8h-0.8zM158.6 44.7h0.8v0.8h-0.8zM163.4 49.7h0.8v0.8h-0.8zM166.9 68.6h0.8v0.8h-0.8zM165.6 55.4h0.8v0.8h-0.8zM156.8 49.9h0.8v0.8h-0.8zM181.8 71.4h0.8v0.8h-0.8zM160.2 66.5h0.8v0.8h-0.8zM172.3 53.8h0.8v0.8h-0.8zM166.8 54.3h0.8v0.8h-0.8zM176.9 70.6h0.8v0.8h-0.8zM143.0 61.2h0.8v0.8h-0.8zM185.1 55.2h0.8v0.8h-0.8zM162.6 63.3h0.8v0.8h-0.8zM152.5 58.4h0.8v0.8h-0.8zM166.0 73.8h0.8v0.8h-0.8zM187.1 55.2h0.8v0.8h-0.8zM169.7 71.8h0.8v0.8h-0.8zM152.5 63.6h0.8v0.8h-0.8zM160.1 48.7h0.8v0.8h-0.8zM178.0 75.2h0.8v0.8h-0.8zM150.8 68.7h0.8v0.8h-0.8zM162.9 45.7h0.8v0.8h-0.8zM161.8 82.8h0.8v0.8h-0.8zM186.2 51.9h0.8v0.8h-0.8zM161.8 50.0h0.8v0.8h-0.8zM177.8 59.6h0.8v0.8h-0.8zM158.0 68.5h0.8v0.8h-0.8zM156.7 66.1h0.8v0.8h-0.8zM174.7 61.7h0.8v0.8h-0.8zM170.9 77.5h0.8v0.8h-0.8zM147.5 62.4h0.8v0.8h-0.8zM171.1 77.9h0.8v0.8h-0.8zM171.1 94.0h0.8v0.8h-0.8zM158.6 62.0h0.8v0.8h-0.8zM166.9 32.1h0.8v0.8h-0.8zM167.4 56.3h0.8v0.8h-0.8zM159.9 47.9h0.8v0.8h-0.8zM158.9 60.9h0.8v0.8h-0.8zM158.0 60.9h0.8v0.8h-0.8zM162.0 46.5h0.8v0.8h-0.8zM151.5 45.4h0.8v0.8h-0.8zM164.3 57.9h0.8v0.8h-0.8zM149.8 56.0h0.8v0.8h-0.8zM165.4 31.4h0.8v0.8h-0.8zM163.8 71.9h0.8v0.8h-0.8zM154.4 59.4h0.8v0.8h-0.8zM173.1 62.4h0.8v0.8h-0.8zM183.9 67.8h0.8v0.8h-0.8zM177.8 51.6h0.8v0.8h-0.8zM151.1 57.9h0.8v0.8h-0.8zM177.3 75.1h0.8v0.8h-0.8zM166.8 73.7h0.8v0.8h-0.8zM164.1 66.1h0.8v0.8h-0.8zM158.8 56.7h0.8v0.8h-0.8zM164.6 51.5h0.8v0.8h-0.8zM178.5 78.6h0.8v0.8h-0.8zM170.1 67.9h0.8v0.8h-0.8zM160.6 55.3h0.8v0.8h-0.8zM158.0 34.8h0.8v0.8h-0.8zM160.5 50.2h0.8v0.8h-0.8zM170.5 39.8h0.8v0.8h-0.8zM183.2 78.6h0.8v0.8h-0.8zM154.2 61.2h0.8v0.8h-0.8zM164.6 52.4h0.8v0.8h-0.8zM160.8 57.1h0.8v0.8h-0.8zM157.2 89.6h0.8v0.8h-0.8zM168.6 75.7h0.8v0.8h-0.8zM170.1 46.4h0.8v0.8h-0.8zM150.6 56.9h0.8v0.8h-0.8zM154.4 44.9h0.8v0.8h-0.8zM176.5 43.1h0.8v0.8h-0.8zM167.8 63.5h0.8v0.8h-0.8zM169.8 89.8h0.8v0.8h-0.8zM159.7 78.1h0.8v0.8h-0.8zM160.9 60.8h0.8v0.8h-0.8zM169.2 57.4h0.8v0.8h-0.8zM159.7 62.4h0.8v0.8h-0.8zM153.7 71.0h0.8v0.8h-0.8zM164.7 44.0h0.8v0.8h-0.8zM173.6 40.8h0.8v0.8h-0.8zM154.4 81.0h0.8v0.8h-0.8zM175.1 66.1h0.8v0.8h-0.8zM171.6 80.9h0.8v0.8h-0.8zM156.1 62.2h0.8v0.8h-0.8zM164.7 78.2h0.8v0.8h-0.8zM164.2 53.7h0.8v0.8h-0.8zM170.9 67.9h0.8v0.8h-0.8zM171.3 80.2h0.8v0.8h-0.8zM151.8 70.5h0.8v0.8h-0.8zM151.3 53.2h0.8v0.8h-0.8zM174.9 73.2h0.8v0.8h-0.8zM165.8 53.4h0.8v0.8h-0.8zM168.8 45.0h0.8v0.8h-0.8zM168.0 67.7h0.8v0.8h-0.8zM179.8 80.1h0.8v0.8h-0.8zM152.7 68.7h0.8v0.8h-0.8zM175.4 48.1h0.8v0.8h-0.8zM156.6 69.7h0.8v0.8h-0.8zM171.9 70.2h0.8v0.8h-0.8zM177.9 57.9h0.8v0.8h-0.8zM151.0 29.3h0.8v0.8h-0.8zM168.6 73.6h0.8v0.8h-0.8zM161.9 70.9h0.8v0.8h-0.8zM161.8 66.3h0.8v0.8h-0.8zM165.1 40.7h0.8v0.8h-0.8zM154.3 41.6h0.8v0.8h-0.8zM155.1 71.1h0.8v0.8h-0.8zM171.2 71.6h0.8v0.8h-0.8zM173.0 68.3h0.8v0.8h-0.8zM159.0 57.0h0.8v0.8h-0.8zM150.3 63.0h0.8v0.8h-0.8zM187.6 58.7h0.8v0.8h-0.8zM175.5 59.2h0.8v0.8h-0.8zM168.2 51.4h0.8v0.8h-0.8zM154.5 62.1h0.8v0.8h-0.8zM158.9 55.0h0.8v0.8h-0.8zM167.1 72.6h0.8v0.8h-0.8zM155.2 67.7h0.8v0.8h-0.8zM180.5 54.2h0.8v0.8h-0.8zM166.0 82.8h0.8v0.8h-0.8zM168.5 48.4h0.8v0.8h-0.8zM154.5 64.4h0.8v0.8h-0.8zM155.7 72.1h0.8v0.8h-0.8zM156.9 74.7h0.8v0.8h-0.8zM167.4 35.4h0.8v0.8h-0.8zM162.0 72.3h0.8v0.8h-0.8zM161.8 74.8h0.8v0.8h-0.8zM167.8 78.5h0.8v0.8h-0.8zM166.9 35.0h0.8v0.8h-0.8zM179.3 55.6h0.8v0.8h-0.8zM162.7 59.4h0.8v0.8h-0.8zM154.7 53.9h0.8v0.8h-0.8zM164.5 76.8h0.8v0.8h-0.8zM179.1 55.5h0.8v0.8h-0.8zM159.2 74.5h0.8v0.8h-0.8zM165.1 67.7h0.8v0.8h-0.8zM161.1 43.1h0.8v0.8h-0.8zM168.7 49.9h0.8v0.8h-0.8zM167.2 55.8h0.8v0.8h-0.8zM156.7 60.6h0.8v0.8h-0.8zM162.4 72.3h0.8v0.8h-0.8zM173.9 60.4h0.8v0.8h-0.8zM175.4 73.7h0.8v0.8h-0.8zM173.7 43.9h0.8v0.8h-0.8zM173.2 26.3h0.8v0.8h-0.8zM161.4 56.4h0.8v0.8h-0.8zM161.1 65.7h0.8v0.8h-0.8zM173.8 58.3h0.8v0.8h-0.8zM153.1 46.9h0.8v0.8h-0.8zM164.1 65.8h0.8v0.8h-0.8zM146.4 80.6h0.8v0.8h-0.8zM160.9 59.0h0.8v0.8h-0.8zM157.7 51.1h0.8v0.8h-0.8zM152.8 48.8h0.8v0.8h-0.8zM170.4 85.3h0.8v0.8h-0.8zM157.4 59.2h0.8v0.8h-0.8zM161.1 67.6h0.8v0.8h-0.8zM162.1 75.0h0.8v0.8h-0.8zM157.4 72.4h0.8v0.8h-0.8zM178.6 52.5h0.8v0.8h-0.8zM159.8 71.4h0.8v0.8h-0.8zM166.6 71.3h0.8v0.8h-0.8zM151.8 64.4h0.8v0.8h-0.8zM160.0 72.1h0.8v0.8h-0.8zM161.5 53.7h0.8v0.8h-0.8zM161.7 59.5h0.8v0.8h-0.8zM158.9 53.7h0.8v0.8h-0.8zM166.1 70.2h0.8v0.8h-0.8zM180.0 55.9h0.8v0.8h-0.8zM163.4 65.4h0.8v0.8h-0.8zM163.3 47.7h0.8v0.8h-0.8zM160.8 58.8h0.8v0.8h-0.8zM189.6 61.1h0.8v0.8h-0.8zM180.5 62.4h0.8v0.8h-0.8zM170.1 63.5h0.8v0.8h-0.8zM171.6 60.0h0.8v0.8h-0.8zM157.7 57.1h0.8v0.8h-0.8zM163.2 36.1h0.8v0.8h-0.8zM166.7 74.4h0.8v0.8h-0.8zM165.9 53.8h0.8v0.8h-0.8zM156.3 56.5h0.8v0.8h-0.8zM157.0 49.7h0.8v0.8h-0.8zM169.7 73.7h0.8v0.8h-0.8zM167.8 50.8h0.8v0.8h-0.8zM144.0 63.2h0.8v0.8h-0.8zM165.6 75.1h0.8v0.8h-0.8zM177.2 82.7h0.8v0.8h-0.8zM158.4 73.9h0.8v0.8h-0.8zM167.0 68.7h0.8v0.8h-0.8zM150.4 44.2h0.8v0.8h-0.8zM172.9 77.7h0.8v0.8h-0.8zM153.8 73.1h0.8v0.8h-0.8zM152.4 68.7h0.8v0.8h-0.8zM161.6 69.9h0.8v0.8h-0.8zM187.9 66.1h0.8v0.8h-0.8zM158.7 53.8h0.8v0.8h-0.8zM152.3 71.6h0.8v0.8h-0.8zM169.2 76.9h0.8v0.8h-0.8zM166.9 49.1h0.8v0.8h-0.8zM181.0 74.8h0.8v0.8h-0.8zM152.3 61.7h0.8v0.8h-0.8zM149.1 68.7h0.8v0.8h-0.8zM161.6 63.7h0.8v0.8h-0.8zM168.4 74.9h0.8v0.8h-0.8zM168.2 73.8h0.8v0.8h-0.8zM175.3 73.5h0.8v0.8h-0.8zM150.0 42.1h0.8v0.8h-0.8zM156.6 69.4h0.8v0.8h-0.8zM163.4 61.4h0.8v0.8h-0.8zM172.9 49.3h0.8v0.8h-0.8zM169.4 70.3h0.8v0.8h-0.8zM160.6 44.2h0.8v0.8h-0.8zM154.7 69.9h0.8v0.8h-0.8zM173.4 82.7h0.8v0.8h-0.8zM174.0 56.9h0.8v0.8h-0.8zM191.3 76.8h0.8v0.8h-0.8zM163.0 66.2h0.8v0.8h-0.8zM180.6 71.7h0.8v0.8h-0.8zM152.8 43.1h0.8v0.8h-0.8zM159.4 67.4h0.8v0.8h-0.8zM158.1 61.6h0.8v0.8h-0.8zM160.2 69.1h0.8v0.8h-0.8zM156.1 59.7h0.8v0.8h-0.8zM159.4 73.1h0.8v0.8h-0.8zM164.2 64.3h0.8v0.8h-0.8zM160.3 68.4h0.8v0.8h-0.8zM171.2 78.5h0.8v0.8h-0.8zM163.9 63.2h0.8v0.8h-0.8zM164.7 72.9h0.8v0.8h-0.8zM179.1 66.5h0.8v0.8h-0.8zM167.8 67.9h0.8v0.8h-0.8zM166.2 55.3h0.8v0.8h-0.8zM164.5 70.3h0.8v0.8h-0.8zM165.3 75.8h0.8v0.8h-0.8zM170.3 61.3h0.8v0.8h-0.8zM156.8 69.2h0.8v0.8h-0.8zM175.9 68.3h0.8v0.8h-0.8zM180.1 51.1h0.8v0.8h-0.8zM176.0 67.5h0.8v0.8h-0.8zM159.9 75.9h0.8v0.8h-0.8zM149.1 52.8h0.8v0.8h-0.8zM160.4 39.7h0.8v0.8h-0.8zM166.2 64.0h0.8v0.8h-0.8zM172.8 55.3h0.8v0.8h-0.8zM162.9 83.2h0.8v0.8h-0.8zM161.7 60.3h0.8v0.8h-0.8zM179.6 64.0h0.8v0.8h-0.8zM158.1 52.8h0.8v0.8h-0.8zM175.1 66.1h0.8v0.8h-0.8zM173.6 56.3h0.8v0.8h-0.8zM151.7 48.5h0.8v0.8h-0.8zM167.4 61.1h0.8v0.8h-0.8zM159.2 50.9h0.8v0.8h-0.8zM155.4 75.1h0.8v0.8h-0.8zM146.6 44.5h0.8v0.8h-0.8zM149.4 57.7h0.8v0.8h-0.8zM168.8 54.1h0.8v0.8h-0.8zM160.9 44.6h0.8v0.8h-0.8zM167.4 81.2h0.8v0.8h-0.8zM154.3 35.0h0.8v0.8h-0.8zM161.6 77.7h0.8v0.8h-0.8zM162.0 44.4h0.8v0.8h-0.8zM149.6 59.7h0.8v0.8h-0.8zM148.4 84.8h0.8v0.8h-0.8zM169.0 37.4h0.8v0.8h-0.8zM166.2 45.6h0.8v0.8h-0.8zM155.6 75.0h0.8v0.8h-0.8zM163.7 63.2h0.8v0.8h-0.8zM171.2 56.2h0.8v0.8h-0.8zM182.6 64.2h0.8v0.8h-0.8zM156.0 48.6h0.8v0.8h-0.8zM170.8 63.9h0.8v0.8h-0.8zM185.5 82.5h0.8v0.8h-0.8zM165.4 57.0h0.8v0.8h-0.8zM179.1 65.6h0.8v0.8h-0.8zM139.4 70.8h0.8v0.8h-0.8zM178.9 87.0h0.8v0.8h-0.8zM164.6 54.5h0.8v0.8h-0.8zM146.3 61.6h0.8v0.8h-0.8zM172.3 56.2h0.8v0.8h-0.8zM175.0 55.7h0.8v0.8h-0.8zM176.6 58.8h0.8v0.8h-0.8zM176.5 56.1h0.8v0.8h-0.8zM164.4 41.2h0.8v0.8h-0.8zM157.4 36.9h0.8v0.8h-0.8zM160.2 52.1h0.8v0.8h-0.8zM164.4 62.8h0.8v0.8h-0.8zM168.7 76.2h0.8v0.8h-0.8zM160.0 54.4h0.8v0.8h-0.8zM165.2 59.5h0.8v0.8h-0.8zM173.3 70.6h0.8v0.8h-0.8zM167.9 70.5h0.8v0.8h-0.8zM187.2 64.1h0.8v0.8h-0.8zM185.9 64.6h0.8v0.8h-0.8zM153.5 81.1h0.8v0.8h-0.8zM159.1 56.5h0.8v0.8h-0.8zM151.9 53.4h0.8v0.8h-0.8zM153.3 40.4h0.8v0.8h-0.8zM170.1 67.4h0.8v0.8h-0.8zM155.0 56.6h0.8v0.8h-0.8zM154.4 81.7h0.8v0.8h-0.8zM162.1 57.0h0.8v0.8h-0.8zM172.6 72.2h0.8v0.8h-0.8zM161.2 71.6h0.8v0.8h-0.8zM161.2 79.9h0.8v0.8h-0.8zM173.7 47.8h0.8v0.8h-0.8zM169.3 80.4h0.8v0.8h-0.8zM169.2 62.3h0.8v0.8h-0.8zM174.0 61.8h0.8v0.8h-0.8zM154.8 56.0h0.8v0.8h-0.8zM166.8 57.2h0.8v0.8h-0.8zM158.5 56.2h0.8v0.8h-0.8zM174.8 36.1h0.8v0.8h-0.8zM172.7 68.7h0.8v0.8h-0.8zM154.4 60.2h0.8v0.8h-0.8zM177.8 52.7h0.8v0.8h-0.8zM153.2 58.6h0.8v0.8h-0.8zM176.2 90.1h0.8v0.8h-0.8zM166.7 66.1h0.8v0.8h-0.8zM156.1 55.3h0.8v0.8h-0.8zM153.7 79.2h0.8v0.8h-0.8zM161.7 51.6h0.8v0.8h-0.8zM164.5 59.5h0.8v0.8h-0.8zM157.7 53.7h0.8v0.8h-0.8zM170.2 59.6h0.8v0.8h-0.8zM150.9 67.4h0.8v0.8h-0.8zM164.6 68.1h0.8v0.8h-0.8zM164.7 52.9h0.8v0.8h-0.8zM146.3 56.5h0.8v0.8h-0.8zM167.7 62.9h0.8v0.8h-0.8zM152.3 54.4h0.8v0.8h-0.8zM140.1 56.5h0.8v0.8h-0.8zM158.7 51.9h0.8v0.8h-0.8zM162.5 52.4h0.8v0.8h-0.8zM173.6 63.5h0.8v0.8h-0.8zM159.9 48.5h0.8v0.8h-0.8zM179.2 68.8h0.8v0.8h-0.8zM178.9 61.6h0.8v0.8h-0.8zM175.5 52.6h0.8v0.8h-0.8zM177.7 56.6h0.8v0.8h-0.8zM168.2 56.4h0.8v0.8h-0.8zM159.2 58.5h0.8v0.8h-0.8zM171.1 63.8h0.8v0.8h-0.8zM174.2 60.6h0.8v0.8h-0.8zM167.1 51.7h0.8v0.8h-0.8zM162.3 77.4h0.8v0.8h-0.8zM149.3 69.0h0.8v0.8h-0.8zM171.4 63.8h0.8v0.8h-0.8zM168.2 72.9h0.8v0.8h-0.8zM151.9 62.8h0.8v0.8h-0.8zM165.7 58.5h0.8v0.8h-0.8zM171.8 63.6h0.8v0.8h-0.8zM163.6 91.9h0.8v0.8h-0.8zM172.4 74.1h0.8v0.8h-0.8zM172.1 74.7h0.8v0.8h-0.8zM150.1 54.1h0.8v0.8h-0.8zM161.7 67.7h0.8v0.8h-0.8zM169.5 88.2h0.8v0.8h-0.8zM173.7 67.8h0.8v0.8h-0.8zM178.6 76.2h0.8v0.8h-0.8zM145.8 72.4h0.8v0.8h-0.8zM164.0 68.6h0.8v0.8h-0.8zM171.8 80.7h0.8v0.8h-0.8zM176.8 66.1h0.8v0.8h-0.8zM181.3 70.0h0.8v0.8h-0.8zM155.5 52.4h0.8v0.8h-0.8zM161.0 91.0h0.8v0.8h-0.8zM154.3 62.9h0.8v0.8h-0.8zM172.8 64.0h0.8v0.8h-0.8zM151.6 74.9h0.8v0.8h-0.8zM176.4 57.8h0.8v0.8h-0.8zM173.9 62.9h0.8v0.8h-0.8zM169.5 53.2h0.8v0.8h-0.8zM143.3 57.7h0.8v0.8h-0.8zM158.0 55.6h0.8v0.8h-0.8zM172.1 68.9h0.8v0.8h-0.8zM150.7 57.3h0.8v0.8h-0.8zM162.3 54.0h0.8v0.8h-0.8zM163.7 57.7h0.8v0.8h-0.8zM173.5 61.5h0.8v0.8h-0.8zM167.5 55.9h0.8v0.8h-0.8zM167.4 72.5h0.8v0.8h-0.8zM160.3 68.2h0.8v0.8h-0.8zM164.7 63.0h0.8v0.8h-0.8zM163.4 47.4h0.8v0.8h-0.8zM171.9 68.5h0.8v0.8h-0.8zM162.9 46.3h0.8v0.8h-0.8zM174.9 65.2h0.8v0.8h-0.8zM147.9 58.8h0.8v0.8h-0.8zM176.5 56.6h0.8v0.8h-0.8zM163.0 51.4h0.8v0.8h-0.8zM175.8 55.3h0.8v0.8h-0.8zM175.1 85.0h0.8v0.8h-0.8zM152.7 89.1h0.8v0.8h-0.8zM153.3 81.7h0.8v0.8h-0.8zM164.5 86.9h0.8v0.8h-0.8zM159.3 78.4h0.8v0.8h-0.8zM165.5 84.7h0.8v0.8h-0.8zM143.4 76.8h0.8v0.8h-0.8zM144.8 92.9h0.8v0.8h-0.8zM187.4 77.6h0.8v0.8h-0.8zM154.9 93.2h0.8v0.8h-0.8zM152.5 84.5h0.8v0.8h-0.8zM156.8 85.4h0.8v0.8h-0.8zM164.8 97.1h0.8v0.8h-0.8zM143.8 88.6h0.8v0.8h-0.8zM158.0 72.8h0.8v0.8h-0.8zM155.0 91.7h0.8v0.8h-0.8zM161.8 64.9h0.8v0.8h-0.8zM156.9 89.9h0.8v0.8h-0.8zM150.1 84.6h0.8v0.8h-0.8zM146.9 76.7h0.8v0.8h-0.8zM131.8 88.4h0.8v0.8h-0.8zM164.7 85.3h0.8v0.8h-0.8zM141.1 103.6h0.8v0.8h-0.8zM151.4 84.3h0.8v0.8h-0.8zM171.3 103.1h0.8v0.8h-0.8zM151.2 98.7h0.8v0.8h-0.8zM161.2 82.9h0.8v0.8h-0.8zM153.2 81.3h0.8v0.8h-0.8zM162.0 98.2h0.8v0.8h-0.8zM155.5 86.7h0.8v0.8h-0.8zM150.4 89.0h0.8v0.8h-0.8zM168.3 85.7h0.8v0.8h-0.8zM152.7 78.2h0.8v0.8h-0.8zM142.4 84.8h0.8v0.8h-0.8zM152.1 80.2h0.8v0.8h-0.8zM160.4 75.6h0.8v0.8h-0.8zM144.5 85.4h0.8v0.8h-0.8zM162.8 101.9h0.8v0.8h-0.8zM162.6 100.6h0.8v0.8h-0.8zM175.7 87.3h0.8v0.8h-0.8zM149.1 88.8h0.8v0.8h-0.8zM161.6 91.8h0.8v0.8h-0.8zM139.2 98.6h0.8v0.8h-0.8zM151.2 90.3h0.8v0.8h-0.8zM156.3 84.0h0.8v0.8h-0.8zM159.2 84.7h0.8v0.8h-0.8zM154.7 96.8h0.8v0.8h-0.8zM149.4 82.8h0.8v0.8h-0.8zM151.0 71.5h0.8v0.8h-0.8zM158.2 94.2h0.8v0.8h-0.8zM160.6 87.2h0.8v0.8h-0.8zM161.4 88.9h0.8v0.8h-0.8zM164.8 97.6h0.8v0.8h-0.8zM166.7 88.3h0.8v0.8h-0.8zM138.0 77.2h0.8v0.8h-0.8zM150.2 72.1h0.8v0.8h-0.8zM153.7 87.4h0.8v0.8h-0.8zM149.1 78.5h0.8v0.8h-0.8zM165.3 90.1h0.8v0.8h-0.8zM162.4 77.6h0.8v0.8h-0.8zM154.2 85.0h0.8v0.8h-0.8zM156.4 76.1h0.8v0.8h-0.8zM167.4 84.9h0.8v0.8h-0.8zM151.9 84.2h0.8v0.8h-0.8zM152.2 92.5h0.8v0.8h-0.8zM164.0 98.5h0.8v0.8h-0.8zM159.8 86.3h0.8v0.8h-0.8zM168.9 80.9h0.8v0.8h-0.8zM158.8 103.4h0.8v0.8h-0.8zM162.4 90.7h0.8v0.8h-0.8zM150.0 92.6h0.8v0.8h-0.8zM146.2 92.6h0.8v0.8h-0.8zM155.2 99.4h0.8v0.8h-0.8zM159.2 93.2h0.8v0.8h-0.8zM164.6 93.9h0.8v0.8h-0.8zM156.0 80.9h0.8v0.8h-0.8zM153.1 82.9h0.8v0.8h-0.8zM165.7 86.9h0.8v0.8h-0.8zM154.9 88.5h0.8v0.8h-0.8zM164.7 87.9h0.8v0.8h-0.8zM176.3 90.3h0.8v0.8h-0.8zM162.2 88.0h0.8v0.8h-0.8zM164.2 84.4h0.8v0.8h-0.8zM160.0 74.8h0.8v0.8h-0.8zM157.7 94.5h0.8v0.8h-0.8zM157.9 92.5h0.8v0.8h-0.8zM155.9 80.8h0.8v0.8h-0.8zM165.6 91.8h0.8v0.8h-0.8zM139.8 90.9h0.8v0.8h-0.8zM152.7 88.4h0.8v0.8h-0.8zM161.6 73.1h0.8v0.8h-0.8zM147.2 78.2h0.8v0.8h-0.8zM154.3 83.0h0.8v0.8h-0.8zM148.6 100.7h0.8v0.8h-0.8zM159.5 80.9h0.8v0.8h-0.8zM163.5 85.0h0.8v0.8h-0.8zM169.2 78.9h0.8v0.8h-0.8zM160.1 83.9h0.8v0.8h-0.8zM148.4 90.5h0.8v0.8h-0.8zM157.7 71.2h0.8v0.8h-0.8zM160.7 65.1h0.8v0.8h-0.8zM168.8 93.1h0.8v0.8h-0.8zM134.8 88.1h0.8v0.8h-0.8zM158.8 83.0h0.8v0.8h-0.8zM137.8 95.5h0.8v0.8h-0.8zM162.1 95.5h0.8v0.8h-0.8zM159.5 71.1h0.8v0.8h-0.8zM160.0 86.5h0.8v0.8h-0.8zM163.7 96.6h0.8v0.8h-0.8zM158.9 82.4h0.8v0.8h-0.8zM149.1 85.3h0.8v0.8h-0.8zM158.6 95.4h0.8v0.8h-0.8zM166.7 85.7h0.8v0.8h-0.8zM154.2 78.2h0.8v0.8h-0.8zM155.5 82.3h0.8v0.8h-0.8zM143.7 77.2h0.8v0.8h-0.8zM166.3 92.2h0.8v0.8h-0.8zM150.4 74.0h0.8v0.8h-0.8zM148.2 95.8h0.8v0.8h-0.8zM151.0 74.6h0.8v0.8h-0.8zM147.0 88.2h0.8v0.8h-0.8zM152.9 76.1h0.8v0.8h-0.8zM167.4 85.3h0.8v0.8h-0.8zM162.8 96.0h0.8v0.8h-0.8zM168.9 96.8h0.8v0.8h-0.8zM169.5 98.2h0.8v0.8h-0.8zM146.7 87.1h0.8v0.8h-0.8zM159.9 88.6h0.8v0.8h-0.8zM169.6 89.6h0.8v0.8h-0.8zM177.2 92.7h0.8v0.8h-0.8zM141.8 84.6h0.8v0.8h-0.8zM141.7 96.6h0.8v0.8h-0.8zM159.7 90.4h0.8v0.8h-0.8zM152.1 96.9h0.8v0.8h-0.8zM145.8 91.6h0.8v0.8h-0.8zM158.9 93.2h0.8v0.8h-0.8zM147.7 82.0h0.8v0.8h-0.8zM133.6 84.5h0.8v0.8h-0.8zM155.0 77.5h0.8v0.8h-0.8zM156.4 85.4h0.8v0.8h-0.8zM161.3 86.4h0.8v0.8h-0.8zM164.2 94.5h0.8v0.8h-0.8zM157.0 77.7h0.8v0.8h-0.8zM148.9 86.8h0.8v0.8h-0.8zM139.5 97.9h0.8v0.8h-0.8zM151.1 96.1h0.8v0.8h-0.8zM164.8 67.6h0.8v0.8h-0.8zM161.4 85.7h0.8v0.8h-0.8zM174.8 99.6h0.8v0.8h-0.8zM153.8 68.4h0.8v0.8h-0.8zM138.2 93.9h0.8v0.8h-0.8zM163.1 80.5h0.8v0.8h-0.8zM165.1 84.1h0.8v0.8h-0.8zM144.1 89.6h0.8v0.8h-0.8zM139.8 72.9h0.8v0.8h-0.8zM156.7 89.3h0.8v0.8h-0.8zM162.0 82.6h0.8v0.8h-0.8zM144.5 81.8h0.8v0.8h-0.8zM152.0 93.4h0.8v0.8h-0.8zM143.9 90.5h0.8v0.8h-0.8zM142.6 92.2h0.8v0.8h-0.8zM156.5 87.4h0.8v0.8h-0.8zM151.6 82.0h0.8v0.8h-0.8zM148.8 89.8h0.8v0.8h-0.8zM171.9 89.3h0.8v0.8h-0.8zM146.2 94.9h0.8v0.8h-0.8zM153.9 86.0h0.8v0.8h-0.8zM158.8 74.6h0.8v0.8h-0.8zM140.8 92.4h0.8v0.8h-0.8zM156.1 92.1h0.8v0.8h-0.8zM153.4 89.9h0.8v0.8h-0.8zM163.9 78.8h0.8v0.8h-0.8zM144.7 78.7h0.8v0.8h-0.8zM149.0 85.9h0.8v0.8h-0.8zM152.9 88.5h0.8v0.8h-0.8zM175.1 78.0h0.8v0.8h-0.8zM141.1 79.2h0.8v0.8h-0.8zM157.9 92.2h0.8v0.8h-0.8zM148.9 96.0h0.8v0.8h-0.8zM158.1 83.2h0.8v0.8h-0.8zM161.4 82.1h0.8v0.8h-0.8zM156.5 81.9h0.8v0.8h-0.8zM157.8 91.6h0.8v0.8h-0.8zM149.5 87.2h0.8v0.8h-0.8zM153.1 95.8h0.8v0.8h-0.8zM139.3 106.1h0.8v0.8h-0.8zM151.7 97.1h0.8v0.8h-0.8zM147.8 76.3h0.8v0.8h-0.8zM152.7 87.0h0.8v0.8h-0.8zM162.1 84.5h0.8v0.8h-0.8zM158.7 85.0h0.8v0.8h-0.8zM159.6 78.0h0.8v0.8h-0.8zM165.6 84.6h0.8v0.8h-0.8zM132.3 79.0h0.8v0.8h-0.8zM159.2 90.4h0.8v0.8h-0.8zM154.9 88.1h0.8v0.8h-0.8zM154.1 76.4h0.8v0.8h-0.8zM142.6 74.0h0.8v0.8h-0.8zM160.3 83.8h0.8v0.8h-0.8zM166.0 92.9h0.8v0.8h-0.8zM164.9 91.7h0.8v0.8h-0.8zM154.3 87.2h0.8v0.8h-0.8zM161.2 61.2h0.8v0.8h-0.8zM163.9 83.7h0.8v0.8h-0.8zM172.5 81.8h0.8v0.8h-0.8zM166.8 85.0h0.8v0.8h-0.8zM156.4 77.9h0.8v0.8h-0.8zM156.0 84.2h0.8v0.8h-0.8zM156.7 82.4h0.8v0.8h-0.8zM150.3 93.3h0.8v0.8h-0.8zM162.4 86.1h0.8v0.8h-0.8zM148.4 87.3h0.8v0.8h-0.8zM147.4 86.7h0.8v0.8h-0.8zM158.4 89.2h0.8v0.8h-0.8zM149.6 84.4h0.8v0.8h-0.8zM152.7 87.5h0.8v0.8h-0.8zM135.2 95.9h0.8v0.8h-0.8zM162.6 94.3h0.8v0.8h-0.8zM155.0 90.2h0.8v0.8h-0.8zM153.8 98.4h0.8v0.8h-0.8zM159.5 89.5h0.8v0.8h-0.8zM157.0 79.8h0.8v0.8h-0.8zM148.4 73.7h0.8v0.8h-0.8zM174.2 82.1h0.8v0.8h-0.8zM150.7 87.2h0.8v0.8h-0.8zM164.3 90.9h0.8v0.8h-0.8zM172.5 96.3h0.8v0.8h-0.8zM149.1 83.1h0.8v0.8h-0.8zM155.9 81.2h0.8v0.8h-0.8zM147.2 93.9h0.8v0.8h-0.8zM165.1 97.1h0.8v0.8h-0.8zM151.8 83.8h0.8v0.8h-0.8zM144.5 90.4h0.8v0.8h-0.8zM167.6 98.7h0.8v0.8h-0.8zM163.8 90.3h0.8v0.8h-0.8zM146.5 87.2h0.8v0.8h-0.8zM166.3 71.0h0.8v0.8h-0.8zM156.9 98.3h0.8v0.8h-0.8zM180.9 92.8h0.8v0.8h-0.8zM171.4 88.7h0.8v0.8h-0.8zM149.7 83.9h0.8v0.8h-0.8zM152.5 77.7h0.8v0.8h-0.8zM146.7 86.9h0.8v0.8h-0.8zM156.3 86.8h0.8v0.8h-0.8zM155.5 96.5h0.8v0.8h-0.8zM162.0 78.0h0.8v0.8h-0.8zM155.8 99.2h0.8v0.8h-0.8zM141.0 88.0h0.8v0.8h-0.8zM147.3 97.2h0.8v0.8h-0.8zM168.5 79.9h0.8v0.8h-0.8zM166.0 90.5h0.8v0.8h-0.8zM153.5 97.5h0.8v0.8h-0.8zM153.7 88.6h0.8v0.8h-0.8zM153.4 75.9h0.8v0.8h-0.8zM155.2 85.0h0.8v0.8h-0.8zM139.0 92.0h0.8v0.8h-0.8zM163.5 76.5h0.8v0.8h-0.8zM148.7 76.1h0.8v0.8h-0.8zM156.4 89.6h0.8v0.8h-0.8zM157.2 93.1h0.8v0.8h-0.8zM167.8 78.3h0.8v0.8h-0.8zM133.7 73.0h0.8v0.8h-0.8zM169.5 81.5h0.8v0.8h-0.8zM159.5 99.6h0.8v0.8h-0.8zM148.0 80.8h0.8v0.8h-0.8zM139.9 87.6h0.8v0.8h-0.8zM166.1 89.7h0.8v0.8h-0.8zM157.5 80.1h0.8v0.8h-0.8zM160.7 96.4h0.8v0.8h-0.8zM152.4 89.1h0.8v0.8h-0.8zM147.4 91.3h0.8v0.8h-0.8zM163.3 74.2h0.8v0.8h-0.8zM145.9 73.7h0.8v0.8h-0.8zM163.6 65.6h0.8v0.8h-0.8zM139.0 86.2h0.8v0.8h-0.8zM146.2 85.9h0.8v0.8h-0.8zM141.1 93.5h0.8v0.8h-0.8zM167.5 99.6h0.8v0.8h-0.8zM138.3 85.7h0.8v0.8h-0.8zM144.1 85.5h0.8v0.8h-0.8zM161.3 91.3h0.8v0.8h-0.8zM157.2 99.9h0.8v0.8h-0.8zM175.9 81.1h0.8v0.8h-0.8zM172.6 92.7h0.8v0.8h-0.8zM160.9 85.7h0.8v0.8h-0.8zM161.6 85.0h0.8v0.8h-0.8zM137.6 94.2h0.8v0.8h-0.8zM146.6 81.4h0.8v0.8h-0.8zM151.9 79.1h0.8v0.8h-0.8zM153.3 93.0h0.8v0.8h-0.8zM141.8 87.5h0.8v0.8h-0.8zM146.1 85.6h0.8v0.8h-0.8zM146.9 86.6h0.8v0.8h-0.8zM165.2 91.7h0.8v0.8h-0.8zM159.1 84.7h0.8v0.8h-0.8zM151.8 93.8h0.8v0.8h-0.8zM152.4 91.0h0.8v0.8h-0.8zM157.8 99.6h0.8v0.8h-0.8zM148.3 97.8h0.8v0.8h-0.8zM152.5 94.6h0.8v0.8h-0.8zM138.5 86.1h0.8v0.8h-0.8zM161.4 88.7h0.8v0.8h-0.8zM164.2 83.0h0.8v0.8h-0.8zM159.6 85.9h0.8v0.8h-0.8zM158.5 92.2h0.8v0.8h-0.8zM174.5 98.6h0.8v0.8h-0.8zM156.9 76.8h0.8v0.8h-0.8zM142.3 81.1h0.8v0.8h-0.8zM145.0 84.6h0.8v0.8h-0.8zM161.8 79.8h0.8v0.8h-0.8zM165.2 77.6h0.8v0.8h-0.8zM162.4 83.6h0.8v0.8h-0.8zM163.0 98.1h0.8v0.8h-0.8zM156.8 93.5h0.8v0.8h-0.8zM140.7 88.0h0.8v0.8h-0.8zM148.2 88.0h0.8v0.8h-0.8zM137.7 74.4h0.8v0.8h-0.8zM151.3 93.3h0.8v0.8h-0.8zM141.9 91.2h0.8v0.8h-0.8zM155.9 79.1h0.8v0.8h-0.8zM153.3 89.4h0.8v0.8h-0.8zM136.3 86.2h0.8v0.8h-0.8zM162.0 83.6h0.8v0.8h-0.8zM162.3 79.8h0.8v0.8h-0.8zM141.6 82.3h0.8v0.8h-0.8zM156.3 80.2h0.8v0.8h-0.8zM161.8 91.4h0.8v0.8h-0.8zM152.2 90.7h0.8v0.8h-0.8zM163.2 90.3h0.8v0.8h-0.8zM156.8 86.3h0.8v0.8h-0.8zM165.2 84.5h0.8v0.8h-0.8zM156.7 104.1h0.8v0.8h-0.8zM153.4 72.9h0.8v0.8h-0.8zM159.8 97.3h0.8v0.8h-0.8zM162.5 90.6h0.8v0.8h-0.8zM157.3 88.3h0.8v0.8h-0.8zM150.6 83.7h0.8v0.8h-0.8zM147.3 86.0h0.8v0.8h-0.8zM151.3 78.3h0.8v0.8h-0.8zM149.4 76.7h0.8v0.8h-0.8zM156.9 86.9h0.8v0.8h-0.8zM156.5 74.5h0.8v0.8h-0.8zM154.1 94.5h0.8v0.8h-0.8zM154.9 96.7h0.8v0.8h-0.8zM156.5 60.2h0.8v0.8h-0.8zM169.9 75.3h0.8v0.8h-0.8zM166.5 89.9h0.8v0.8h-0.8zM149.3 89.5h0.8v0.8h-0.8zM158.9 88.7h0.8v0.8h-0.8zM151.7 91.1h0.8v0.8h-0.8zM153.9 93.7h0.8v0.8h-0.8zM152.5 94.7h0.8v0.8h-0.8zM148.8 102.1h0.8v0.8h-0.8zM141.8 88.0h0.8v0.8h-0.8zM156.8 74.8h0.8v0.8h-0.8zM166.2 86.7h0.8v0.8h-0.8zM146.1 78.0h0.8v0.8h-0.8zM159.7 98.9h0.8v0.8h-0.8zM157.5 92.1h0.8v0.8h-0.8zM147.1 77.4h0.8v0.8h-0.8zM152.6 86.9h0.8v0.8h-0.8zM153.8 88.0h0.8v0.8h-0.8zM131.9 89.4h0.8v0.8h-0.8zM156.9 96.5h0.8v0.8h-0.8zM153.5 95.4h0.8v0.8h-0.8zM161.1 98.7h0.8v0.8h-0.8zM154.5 83.8h0.8v0.8h-0.8zM156.8 83.3h0.8v0.8h-0.8zM158.3 99.1h0.8v0.8h-0.8zM150.8 85.7h0.8v0.8h-0.8zM144.4 76.8h0.8v0.8h-0.8zM150.5 77.2h0.8v0.8h-0.8zM150.7 88.3h0.8v0.8h-0.8zM176.2 95.1h0.8v0.8h-0.8zM172.6 99.8h0.8v0.8h-0.8zM150.1 86.4h0.8v0.8h-0.8zM150.8 84.1h0.8v0.8h-0.8zM157.9 100.8h0.8v0.8h-0.8zM160.2 84.2h0.8v0.8h-0.8zM148.1 99.5h0.8v0.8h-0.8zM145.1 89.7h0.8v0.8h-0.8zM173.5 89.7h0.8v0.8h-0.8zM165.0 85.9h0.8v0.8h-0.8zM139.7 90.2h0.8v0.8h-0.8zM137.7 84.1h0.8v0.8h-0.8zM146.7 82.4h0.8v0.8h-0.8zM156.9 86.7h0.8v0.8h-0.8zM160.0 82.6h0.8v0.8h-0.8zM151.4 90.3h0.8v0.8h-0.8zM139.1 88.5h0.8v0.8h-0.8zM156.9 85.7h0.8v0.8h-0.8zM160.6 86.2h0.8v0.8h-0.8zM154.7 86.0h0.8v0.8h-0.8zM149.9 101.7h0.8v0.8h-0.8zM160.3 87.7h0.8v0.8h-0.8zM154.2 83.1h0.8v0.8h-0.8zM143.8 85.5h0.8v0.8h-0.8zM155.6 93.1h0.8v0.8h-0.8zM142.1 86.2h0.8v0.8h-0.8zM164.1 86.6h0.8v0.8h-0.8zM159.3 85.8h0.8v0.8h-0.8zM145.0 89.1h0.8v0.8h-0.8zM156.8 90.9h0.8v0.8h-0.8zM166.9 91.4h0.8v0.8h-0.8zM133.9 74.7h0.8v0.8h-0.8zM153.3 79.3h0.8v0.8h-0.8zM170.7 66.8h0.8v0.8h-0.8zM139.6 94.2h0.8v0.8h-0.8zM153.1 96.7h0.8v0.8h-0.8zM140.8 98.2h0.8v0.8h-0.8zM154.0 89.0h0.8v0.8h-0.8zM138.9 87.5h0.8v0.8h-0.8zM149.5 86.8h0.8v0.8h-0.8zM156.0 75.5h0.8v0.8h-0.8zM158.4 81.6h0.8v0.8h-0.8zM158.8 83.1h0.8v0.8h-0.8zM165.9 95.2h0.8v0.8h-0.8zM161.5 101.1h0.8v0.8h-0.8zM161.9 84.1h0.8v0.8h-0.8zM145.1 90.8h0.8v0.8h-0.8zM153.2 90.0h0.8v0.8h-0.8zM185.8 81.6h0.8v0.8h-0.8zM176.9 74.0h0.8v0.8h-0.8zM162.8 81.8h0.8v0.8h-0.8zM161.9 76.3h0.8v0.8h-0.8zM164.4 85.3h0.8v0.8h-0.8zM150.8 86.7h0.8v0.8h-0.8zM173.9 86.4h0.8v0.8h-0.8zM151.0 86.5h0.8v0.8h-0.8zM153.9 91.7h0.8v0.8h-0.8zM176.0 80.4h0.8v0.8h-0.8zM134.3 94.9h0.8v0.8h-0.8zM158.2 74.4h0.8v0.8h-0.8zM137.8 88.3h0.8v0.8h-0.8zM148.3 90.9h0.8v0.8h-0.8zM153.8 81.5h0.8v0.8h-0.8zM133.3 97.2h0.8v0.8h-0.8zM164.6 90.1h0.8v0.8h-0.8zM146.2 94.0h0.8v0.8h-0.8zM166.6 86.1h0.8v0.8h-0.8zM166.4 92.4h0.8v0.8h-0.8zM155.5 88.0h0.8v0.8h-0.8zM155.6 95.4h0.8v0.8h-0.8zM169.4 78.7h0.8v0.8h-0.8zM160.9 77.9h0.8v0.8h-0.8zM142.6 97.4h0.8v0.8h-0.8zM158.0 95.1h0.8v0.8h-0.8zM163.4 83.2h0.8v0.8h-0.8zM158.4 90.6h0.8v0.8h-0.8zM158.3 82.4h0.8v0.8h-0.8zM154.0 77.2h0.8v0.8h-0.8zM135.6 84.6h0.8v0.8h-0.8zM171.3 97.1h0.8v0.8h-0.8zM146.7 90.2h0.8v0.8h-0.8zM158.7 89.1h0.8v0.8h-0.8zM134.7 102.2h0.8v0.8h-0.8zM157.8 101.0h0.8v0.8h-0.8zM144.1 90.0h0.8v0.8h-0.8zM197.0 83.8h0.8v0.8h-0.8zM168.8 94.3h0.8v0.8h-0.8zM171.5 89.9h0.8v0.8h-0.8zM159.2 93.7h0.8v0.8h-0.8zM167.9 104.8h0.8v0.8h-0.8zM138.6 83.2h0.8v0.8h-0.8zM165.1 93.1h0.8v0.8h-0.8zM148.3 85.0h0.8v0.8h-0.8zM141.7 106.0h0.8v0.8h-0.8zM149.2 92.0h0.8v0.8h-0.8zM136.3 98.3h0.8v0.8h-0.8zM149.3 89.9h0.8v0.8h-0.8zM145.2 83.6h0.8v0.8h-0.8zM167.5 103.3h0.8v0.8h-0.8zM154.6 98.0h0.8v0.8h-0.8zM174.2 90.8h0.8v0.8h-0.8zM160.5 95.3h0.8v0.8h-0.8zM156.9 75.1h0.8v0.8h-0.8zM157.9 96.4h0.8v0.8h-0.8zM152.7 92.3h0.8v0.8h-0.8zM178.9 92.7h0.8v0.8h-0.8zM146.1 90.8h0.8v0.8h-0.8zM148.0 97.3h0.8v0.8h-0.8zM150.8 95.4h0.8v0.8h-0.8zM163.5 78.8h0.8v0.8h-0.8zM161.2 94.1h0.8v0.8h-0.8zM168.6 89.6h0.8v0.8h-0.8zM153.1 81.7h0.8v0.8h-0.8zM151.6 83.3h0.8v0.8h-0.8zM157.9 84.5h0.8v0.8h-0.8zM159.4 86.0h0.8v0.8h-0.8zM157.6 93.5h0.8v0.8h-0.8zM135.8 103.8h0.8v0.8h-0.8zM154.3 79.9h0.8v0.8h-0.8zM177.1 77.5h0.8v0.8h-0.8zM150.2 74.5h0.8v0.8h-0.8zM163.8 104.0h0.8v0.8h-0.8zM152.5 106.2h0.8v0.8h-0.8zM144.3 77.6h0.8v0.8h-0.8zM142.8 76.6h0.8v0.8h-0.8zM150.1 94.2h0.8v0.8h-0.8zM173.6 103.9h0.8v0.8h-0.8zM166.9 103.1h0.8v0.8h-0.8zM145.8 94.9h0.8v0.8h-0.8zM169.5 99.8h0.8v0.8h-0.8zM153.8 96.2h0.8v0.8h-0.8zM146.0 87.4h0.8v0.8h-0.8zM143.0 92.9h0.8v0.8h-0.8zM133.8 81.8h0.8v0.8h-0.8zM173.5 88.3h0.8v0.8h-0.8zM163.1 93.1h0.8v0.8h-0.8zM134.5 103.9h0.8v0.8h-0.8zM155.2 80.3h0.8v0.8h-0.8zM152.9 104.2h0.8v0.8h-0.8zM154.1 81.4h0.8v0.8h-0.8zM155.1 84.4h0.8v0.8h-0.8zM143.2 89.6h0.8v0.8h-0.8zM154.7 80.1h0.8v0.8h-0.8zM169.4 80.4h0.8v0.8h-0.8zM145.7 90.3h0.8v0.8h-0.8zM159.2 91.1h0.8v0.8h-0.8zM139.7 99.0h0.8v0.8h-0.8zM160.9 80.9h0.8v0.8h-0.8zM189.9 103.6h0.8v0.8h-0.8zM168.2 101.9h0.8v0.8h-0.8zM161.6 86.4h0.8v0.8h-0.8zM141.9 89.5h0.8v0.8h-0.8zM148.1 103.7h0.8v0.8h-0.8zM147.1 84.0h0.8v0.8h-0.8zM170.8 88.4h0.8v0.8h-0.8zM174.0 103.0h0.8v0.8h-0.8zM135.6 91.4h0.8v0.8h-0.8zM159.4 95.0h0.8v0.8h-0.8zM148.4 94.9h0.8v0.8h-0.8zM151.9 85.2h0.8v0.8h-0.8zM168.6 86.3h0.8v0.8h-0.8zM158.6 88.7h0.8v0.8h-0.8zM142.1 97.6h0.8v0.8h-0.8zM137.1 83.4h0.8v0.8h-0.8zM143.7 100.2h0.8v0.8h-0.8zM175.0 94.1h0.8v0.8h-0.8zM154.3 100.6h0.8v0.8h-0.8zM151.1 101.9h0.8v0.8h-0.8zM162.5 105.4h0.8v0.8h-0.8zM155.9 99.2h0.8v0.8h-0.8zM158.9 100.0h0.8v0.8h-0.8zM166.0 91.2h0.8v0.8h-0.8zM160.3 98.7h0.8v0.8h-0.8zM167.9 83.9h0.8v0.8h-0.8zM139.3 90.5h0.8v0.8h-0.8zM156.6 100.5h0.8v0.8h-0.8zM150.9 92.4h0.8v0.8h-0.8zM157.3 97.4h0.8v0.8h-0.8zM155.3 82.4h0.8v0.8h-0.8zM151.0 87.2h0.8v0.8h-0.8zM168.9 96.9h0.8v0.8h-0.8zM148.2 92.7h0.8v0.8h-0.8zM138.7 102.3h0.8v0.8h-0.8zM164.0 89.1h0.8v0.8h-0.8zM169.2 82.9h0.8v0.8h-0.8zM152.2 73.9h0.8v0.8h-0.8zM157.6 89.9h0.8v0.8h-0.8zM144.4 81.0h0.8v0.8h-0.8zM153.1 98.3h0.8v0.8h-0.8zM166.9 70.6h0.8v0.8h-0.8zM157.9 80.0h0.8v0.8h-0.8zM152.1 96.0h0.8v0.8h-0.8zM133.6 105.3h0.8v0.8h-0.8zM160.3 96.0h0.8v0.8h-0.8zM162.2 96.2h0.8v0.8h-0.8zM170.4 98.0h0.8v0.8h-0.8zM183.6 98.7h0.8v0.8h-0.8zM169.1 99.1h0.8v0.8h-0.8zM140.7 80.5h0.8v0.8h-0.8zM172.5 88.2h0.8v0.8h-0.8zM167.9 95.1h0.8v0.8h-0.8zM174.7 84.8h0.8v0.8h-0.8zM165.2 90.3h0.8v0.8h-0.8zM162.2 87.7h0.8v0.8h-0.8zM176.3 85.9h0.8v0.8h-0.8zM146.9 99.9h0.8v0.8h-0.8zM164.8 89.0h0.8v0.8h-0.8zM170.9 82.0h0.8v0.8h-0.8zM145.3 85.8h0.8v0.8h-0.8zM140.3 93.3h0.8v0.8h-0.8zM157.8 95.5h0.8v0.8h-0.8zM164.9 97.9h0.8v0.8h-0.8zM145.6 71.4h0.8v0.8h-0.8zM160.7 96.8h0.8v0.8h-0.8zM171.5 84.4h0.8v0.8h-0.8zM151.3 79.3h0.8v0.8h-0.8zM152.2 82.1h0.8v0.8h-0.8zM167.3 77.1h0.8v0.8h-0.8zM182.8 86.7h0.8v0.8h-0.8zM137.4 104.6h0.8v0.8h-0.8zM166.6 99.6h0.8v0.8h-0.8zM168.5 75.7h0.8v0.8h-0.8zM148.5 91.8h0.8v0.8h-0.8zM151.1 87.7h0.8v0.8h-0.8zM141.9 91.0h0.8v0.8h-0.8zM145.5 100.5h0.8v0.8h-0.8zM158.4 87.1h0.8v0.8h-0.8zM165.1 89.7h0.8v0.8h-0.8zM167.9 74.4h0.8v0.8h-0.8zM159.0 89.2h0.8v0.8h-0.8zM140.3 97.7h0.8v0.8h-0.8zM176.0 80.4h0.8v0.8h-0.8zM172.4 86.6h0.8v0.8h-0.8zM146.5 79.7h0.8v0.8h-0.8zM180.4 94.5h0.8v0.8h-0.8zM162.6 86.6h0.8v0.8h-0.8zM158.1 100.8h0.8v0.8h-0.8zM182.4 103.2h0.8v0.8h-0.8zM134.4 89.1h0.8v0.8h-0.8zM166.0 95.5h0.8v0.8h-0.8zM152.9 93.5h0.8v0.8h-0.8zM143.4 80.7h0.8v0.8h-0.8zM176.9 103.7h0.8v0.8h-0.8zM163.0 95.2h0.8v0.8h-0.8zM138.9 100.9h0.8v0.8h-0.8zM147.3 79.2h0.8v0.8h-0.8zM167.9 101.7h0.8v0.8h-0.8zM159.8 78.3h0.8v0.8h-0.8zM151.1 93.3h0.8v0.8h-0.8zM132.5 92.3h0.8v0.8h-0.8zM154.1 95.1h0.8v0.8h-0.8zM134.5 90.5h0.8v0.8h-0.8zM149.0 97.9h0.8v0.8h-0.8zM178.5 88.2h0.8v0.8h-0.8zM163.4 95.2h0.8v0.8h-0.8zM167.1 85.9h0.8v0.8h-0.8zM164.6 93.9h0.8v0.8h-0.8zM161.2 102.9h0.8v0.8h-0.8zM169.7 87.9h0.8v0.8h-0.8zM140.5 99.6h0.8v0.8h-0.8zM151.5 83.9h0.8v0.8h-0.8zM168.1 89.1h0.8v0.8h-0.8zM146.5 90.5h0.8v0.8h-0.8zM150.5 105.5h0.8v0.8h-0.8zM172.9 85.1h0.8v0.8h-0.8zM177.4 105.2h0.8v0.8h-0.8zM148.2 78.1h0.8v0.8h-0.8zM145.3 91.3h0.8v0.8h-0.8zM164.5 102.1h0.8v0.8h-0.8zM160.2 99.9h0.8v0.8h-0.8zM147.3 82.7h0.8v0.8h-0.8zM164.7 80.5h0.8v0.8h-0.8zM164.1 101.7h0.8v0.8h-0.8zM157.6 80.1h0.8v0.8h-0.8zM196.7 98.7h0.8v0.8h-0.8zM175.1 87.6h0.8v0.8h-0.8zM167.7 92.7h0.8v0.8h-0.8zM171.5 101.3h0.8v0.8h-0.8zM146.7 78.9h0.8v0.8h-0.8zM160.9 96.1h0.8v0.8h-0.8zM157.6 93.4h0.8v0.8h-0.8zM148.8 91.8h0.8v0.8h-0.8zM160.1 106.4h0.8v0.8h-0.8zM160.0 75.5h0.8v0.8h-0.8zM155.8 96.1h0.8v0.8h-0.8zM149.9 94.1h0.8v0.8h-0.8zM167.9 85.2h0.8v0.8h-0.8zM167.8 80.0h0.8v0.8h-0.8zM156.7 93.1h0.8v0.8h-0.8zM160.3 93.6h0.8v0.8h-0.8zM179.6 78.4h0.8v0.8h-0.8zM132.9 83.0h0.8v0.8h-0.8zM144.8 100.8h0.8v0.8h-0.8zM165.4 102.4h0.8v0.8h-0.8zM148.3 98.8h0.8v0.8h-0.8zM151.0 95.2h0.8v0.8h-0.8zM150.6 95.0h0.8v0.8h-0.8zM159.5 87.6h0.8v0.8h-0.8zM165.9 104.7h0.8v0.8h-0.8zM152.7 106.4h0.8v0.8h-0.8zM162.6 100.0h0.8v0.8h-0.8zM147.4 101.1h0.8v0.8h-0.8zM146.3 82.4h0.8v0.8h-0.8zM183.5 93.6h0.8v0.8h-0.8zM145.0 80.3h0.8v0.8h-0.8zM173.5 101.9h0.8v0.8h-0.8zM157.6 80.7h0.8v0.8h-0.8zM176.8 90.6h0.8v0.8h-0.8zM147.9 84.5h0.8v0.8h-0.8zM163.7 88.0h0.8v0.8h-0.8zM161.2 97.4h0.8v0.8h-0.8zM153.5 87.1h0.8v0.8h-0.8zM160.9 95.0h0.8v0.8h-0.8zM146.1 82.6h0.8v0.8h-0.8zM151.2 86.2h0.8v0.8h-0.8zM167.1 103.0h0.8v0.8h-0.8zM137.5 68.1h0.8v0.8h-0.8zM151.5 82.7h0.8v0.8h-0.8zM155.3 90.7h0.8v0.8h-0.8zM144.2 104.6h0.8v0.8h-0.8zM174.9 87.8h0.8v0.8h-0.8zM162.2 96.6h0.8v0.8h-0.8zM168.2 85.4h0.8v0.8h-0.8zM146.1 98.5h0.8v0.8h-0.8zM151.2 80.4h0.8v0.8h-0.8zM170.5 101.2h0.8v0.8h-0.8zM137.0 62.4h0.8v0.8h-0.8zM161.7 73.5h0.8v0.8h-0.8zM149.8 94.5h0.8v0.8h-0.8zM157.9 83.6h0.8v0.8h-0.8zM159.7 103.4h0.8v0.8h-0.8zM139.9 104.2h0.8v0.8h-0.8zM139.1 88.4h0.8v0.8h-0.8zM175.8 99.1h0.8v0.8h-0.8zM147.0 97.9h0.8v0.8h-0.8zM170.0 98.8h0.8v0.8h-0.8zM146.0 90.8h0.8v0.8h-0.8zM155.8 106.0h0.8v0.8h-0.8zM169.4 86.2h0.8v0.8h-0.8zM161.5 86.6h0.8v0.8h-0.8zM180.3 94.7h0.8v0.8h-0.8zM154.9 99.4h0.8v0.8h-0.8zM164.9 88.5h0.8v0.8h-0.8zM142.8 91.5h0.8v0.8h-0.8zM158.9 98.9h0.8v0.8h-0.8zM177.7 97.0h0.8v0.8h-0.8zM163.6 104.6h0.8v0.8h-0.8zM158.9 95.1h0.8v0.8h-0.8zM151.5 74.7h0.8v0.8h-0.8zM138.9 101.0h0.8v0.8h-0.8zM167.3 89.3h0.8v0.8h-0.8zM146.5 89.1h0.8v0.8h-0.8zM161.6 89.7h0.8v0.8h-0.8zM142.9 76.6h0.8v0.8h-0.8zM182.6 88.7h0.8v0.8h-0.8zM140.5 66.1h0.8v0.8h-0.8zM158.5 88.6h0.8v0.8h-0.8zM192.9 83.5h0.8v0.8h-0.8zM144.6 97.3h0.8v0.8h-0.8zM165.1 90.5h0.8v0.8h-0.8zM170.3 94.3h0.8v0.8h-0.8zM168.7 100.1h0.8v0.8h-0.8zM159.6 90.3h0.8v0.8h-0.8zM157.6 93.4h0.8v0.8h-0.8zM150.3 72.5h0.8v0.8h-0.8zM165.9 100.8h0.8v0.8h-0.8zM140.3 82.9h0.8v0.8h-0.8zM153.3 92.0h0.8v0.8h-0.8zM132.4 102.9h0.8v0.8h-0.8zM176.0 86.9h0.8v0.8h-0.8zM177.9 89.9h0.8v0.8h-0.8zM174.0 80.0h0.8v0.8h-0.8zM164.3 81.8h0.8v0.8h-0.8zM144.4 70.6h0.8v0.8h-0.8zM169.6 104.4h0.8v0.8h-0.8zM182.4 80.8h0.8v0.8h-0.8zM168.0 96.4h0.8v0.8h-0.8zM178.8 96.0h0.8v0.8h-0.8zM146.0 86.0h0.8v0.8h-0.8zM170.8 93.1h0.8v0.8h-0.8zM169.7 91.7h0.8v0.8h-0.8zM136.1 87.5h0.8v0.8h-0.8zM134.2 93.1h0.8v0.8h-0.8zM146.7 93.2h0.8v0.8h-0.8zM157.8 82.1h0.8v0.8h-0.8zM163.0 79.3h0.8v0.8h-0.8zM153.6 83.9h0.8v0.8h-0.8zM155.8 93.9h0.8v0.8h-0.8zM164.8 95.8h0.8v0.8h-0.8zM163.6 102.4h0.8v0.8h-0.8zM156.0 93.9h0.8v0.8h-0.8zM160.3 104.0h0.8v0.8h-0.8zM150.5 93.9h0.8v0.8h-0.8zM167.8 96.7h0.8v0.8h-0.8zM149.7 89.7h0.8v0.8h-0.8zM179.5 92.5h0.8v0.8h-0.8zM160.5 80.2h0.8v0.8h-0.8zM146.2 92.6h0.8v0.8h-0.8zM151.9 86.5h0.8v0.8h-0.8zM159.0 102.5h0.8v0.8h-0.8zM148.1 89.4h0.8v0.8h-0.8zM140.6 64.0h0.8v0.8h-0.8zM157.3 98.9h0.8v0.8h-0.8zM158.9 98.9h0.8v0.8h-0.8zM164.4 75.2h0.8v0.8h-0.8zM174.1 90.1h0.8v0.8h-0.8zM152.4 91.9h0.8v0.8h-0.8zM154.8 99.5h0.8v0.8h-0.8zM138.9 95.0h0.8v0.8h-0.8zM171.1 81.6h0.8v0.8h-0.8zM164.6 85.2h0.8v0.8h-0.8zM147.8 86.0h0.8v0.8h-0.8zM147.9 97.5h0.8v0.8h-0.8zM155.5 82.4h0.8v0.8h-0.8zM163.4 96.5h0.8v0.8h-0.8zM151.9 70.0h0.8v0.8h-0.8zM142.0 94.2h0.8v0.8h-0.8zM170.7 86.8h0.8v0.8h-0.8zM147.3 93.6h0.8v0.8h-0.8zM171.0 73.6h0.8v0.8h-0.8zM143.1 94.5h0.8v0.8h-0.8zM167.0 67.0h0.8v0.8h-0.8zM150.6 81.9h0.8v0.8h-0.8zM154.7 105.6h0.8v0.8h-0.8zM163.4 89.0h0.8v0.8h-0.8zM162.4 82.5h0.8v0.8h-0.8zM178.8 102.2h0.8v0.8h-0.8zM168.2 92.0h0.8v0.8h-0.8zM151.2 99.0h0.8v0.8h-0.8zM151.4 100.7h0.8v0.8h-0.8zM165.5 70.5h0.8v0.8h-0.8zM140.3 76.1h0.8v0.8h-0.8zM158.8 85.9h0.8v0.8h-0.8zM152.8 85.5h0.8v0.8h-0.8zM178.9 100.0h0.8v0.8h-0.8zM161.3 100.2h0.8v0.8h-0.8zM164.2 96.2h0.8v0.8h-0.8zM181.2 98.1h0.8v0.8h-0.8zM149.8 97.3h0.8v0.8h-0.8zM156.8 91.7h0.8v0.8h-0.8zM143.0 72.5h0.8v0.8h-0.8zM160.4 68.4h0.8v0.8h-0.8zM171.2 68.5h0.8v0.8h-0.8zM175.9 91.9h0.8v0.8h-0.8zM156.3 90.0h0.8v0.8h-0.8zM146.9 91.0h0.8v0.8h-0.8zM146.1 94.7h0.8v0.8h-0.8zM137.4 90.0h0.8v0.8h-0.8zM158.5 82.0h0.8v0.8h-0.8zM175.8 76.7h0.8v0.8h-0.8zM176.4 101.8h0.8v0.8h-0.8zM134.4 78.3h0.8v0.8h-0.8zM161.5 89.5h0.8v0.8h-0.8zM139.3 97.0h0.8v0.8h-0.8zM167.8 86.1h0.8v0.8h-0.8zM159.2 94.2h0.8v0.8h-0.8zM168.4 104.4h0.8v0.8h-0.8zM157.6 74.2h0.8v0.8h-0.8zM164.7 84.7h0.8v0.8h-0.8zM182.4 91.9h0.8v0.8h-0.8zM172.2 84.8h0.8v0.8h-0.8zM145.7 101.4h0.8v0.8h-0.8zM153.6 94.4h0.8v0.8h-0.8zM153.7 82.3h0.8v0.8h-0.8zM157.9 101.4h0.8v0.8h-0.8zM148.5 98.9h0.8v0.8h-0.8zM166.0 86.9h0.8v0.8h-0.8zM157.4 87.8h0.8v0.8h-0.8zM162.0 77.0h0.8v0.8h-0.8zM157.0 91.5h0.8v0.8h-0.8zM165.5 101.4h0.8v0.8h-0.8zM140.2 102.8h0.8v0.8h-0.8zM179.0 98.4h0.8v0.8h-0.8zM161.8 100.9h0.8v0.8h-0.8zM163.2 86.2h0.8v0.8h-0.8zM165.5 87.4h0.8v0.8h-0.8zM172.1 104.9h0.8v0.8h-0.8zM167.3 97.0h0.8v0.8h-0.8zM160.3 84.0h0.8v0.8h-0.8zM154.5 97.5h0.8v0.8h-0.8zM134.0 101.0h0.8v0.8h-0.8zM160.0 99.7h0.8v0.8h-0.8zM152.6 93.4h0.8v0.8h-0.8zM152.6 86.9h0.8v0.8h-0.8zM190.7 96.5h0.8v0.8h-0.8zM157.8 93.8h0.8v0.8h-0.8zM174.0 85.3h0.8v0.8h-0.8zM170.5 95.8h0.8v0.8h-0.8zM174.4 79.4h0.8v0.8h-0.8zM139.3 94.7h0.8v0.8h-0.8zM143.6 89.1h0.8v0.8h-0.8zM165.7 102.3h0.8v0.8h-0.8zM152.9 93.3h0.8v0.8h-0.8zM181.0 103.2h0.8v0.8h-0.8zM159.8 90.0h0.8v0.8h-0.8zM196.7 38.0h0.8v0.8h-0.8zM181.1 68.1h0.8v0.8h-0.8zM179.6 73.5h0.8v0.8h-0.8zM186.8 40.1h0.8v0.8h-0.8zM195.2 77.8h0.8v0.8h-0.8zM154.7 51.3h0.8v0.8h-0.8zM159.5 62.8h0.8v0.8h-0.8zM198.5 61.7h0.8v0.8h-0.8zM182.1 49.5h0.8v0.8h-0.8zM193.9 71.3h0.8v0.8h-0.8zM163.2 74.4h0.8v0.8h-0.8zM199.3 50.9h0.8v0.8h-0.8zM168.7 41.5h0.8v0.8h-0.8zM189.3 76.5h0.8v0.8h-0.8zM195.1 63.5h0.8v0.8h-0.8zM173.4 45.0h0.8v0.8h-0.8zM167.9 34.0h0.8v0.8h-0.8zM172.4 46.7h0.8v0.8h-0.8zM152.1 49.4h0.8v0.8h-0.8zM148.9 69.8h0.8v0.8h-0.8zM197.0 63.6h0.8v0.8h-0.8zM180.9 53.1h0.8v0.8h-0.8zM149.6 74.9h0.8v0.8h-0.8zM177.4 57.2h0.8v0.8h-0.8zM158.7 72.5h0.8v0.8h-0.8zM191.2 28.5h0.8v0.8h-0.8zM164.7 29.4h0.8v0.8h-0.8zM146.0 72.3h0.8v0.8h-0.8zM181.6 65.4h0.8v0.8h-0.8zM199.7 39.3h0.8v0.8h-0.8zM185.5 31.6h0.8v0.8h-0.8zM197.9 28.9h0.8v0.8h-0.8zM150.6 42.6h0.8v0.8h-0.8zM161.0 73.7h0.8v0.8h-0.8zM187.7 35.6h0.8v0.8h-0.8zM170.4 38.7h0.8v0.8h-0.8zM154.8 70.7h0.8v0.8h-0.8zM163.9 35.2h0.8v0.8h-0.8zM160.7 38.2h0.8v0.8h-0.8zM183.7 66.1h0.8v0.8h-0.8zM187.5 72.1h0.8v0.8h-0.8zM185.5 76.8h0.8v0.8h-0.8zM181.7 27.5h0.8v0.8h-0.8zM186.1 43.1h0.8v0.8h-0.8zM195.8 58.6h0.8v0.8h-0.8zM159.5 43.3h0.8v0.8h-0.8zM160.3 65.8h0.8v0.8h-0.8zM199.0 37.4h0.8v0.8h-0.8zM193.4 58.3h0.8v0.8h-0.8zM181.6 33.9h0.8v0.8h-0.8zM188.6 33.3h0.8v0.8h-0.8zM180.4 68.9h0.8v0.8h-0.8zM162.0 59.5h0.8v0.8h-0.8zM176.1 56.2h0.8v0.8h-0.8zM158.4 45.7h0.8v0.8h-0.8zM150.4 62.0h0.8v0.8h-0.8zM163.6 77.4h0.8v0.8h-0.8zM189.5 45.6h0.8v0.8h-0.8zM152.6 27.6h0.8v0.8h-0.8zM147.5 39.2h0.8v0.8h-0.8zM181.2 101.1h0.8v0.8h-0.8zM179.5 100.8h0.8v0.8h-0.8zM144.8 91.2h0.8v0.8h-0.8zM169.6 87.6h0.8v0.8h-0.8zM155.0 93.7h0.8v0.8h-0.8zM165.6 95.2h0.8v0.8h-0.8zM169.4 85.7h0.8v0.8h-0.8zM178.6 103.9h0.8v0.8h-0.8zM176.2 105.4h0.8v0.8h-0.8zM159.1 105.5h0.8v0.8h-0.8zM134.3 95.0h0.8v0.8h-0.8zM184.1 94.7h0.8v0.8h-0.8zM155.9 88.2h0.8v0.8h-0.8zM181.7 99.8h0.8v0.8h-0.8zM193.7 77.6h0.8v0.8h-0.8zM177.8 82.6h0.8v0.8h-0.8zM139.2 91.1h0.8v0.8h-0.8zM192.8 98.6h0.8v0.8h-0.8zM135.0 80.7h0.8v0.8h-0.8zM134.3 101.2h0.8v0.8h-0.8zM178.3 93.4h0.8v0.8h-0.8zM189.9 79.3h0.8v0.8h-0.8zM172.3 76.2h0.8v0.8h-0.8zM187.2 87.7h0.8v0.8h-0.8zM172.8 101.3h0.8v0.8h-0.8zM137.3 106.3h0.8v0.8h-0.8zM171.0 99.3h0.8v0.8h-0.8zM180.3 82.2h0.8v0.8h-0.8zM163.1 103.7h0.8v0.8h-0.8zM176.8 80.0h0.8v0.8h-0.8zM161.5 87.7h0.8v0.8h-0.8zM138.5 96.4h0.8v0.8h-0.8zM186.3 85.8h0.8v0.8h-0.8zM145.0 85.5h0.8v0.8h-0.8zM144.9 88.9h0.8v0.8h-0.8zM140.2 103.9h0.8v0.8h-0.8zM153.8 90.0h0.8v0.8h-0.8zM157.3 77.8h0.8v0.8h-0.8zM144.5 86.4h0.8v0.8h-0.8zM142.3 93.8h0.8v0.8h-0.8zM160.4 92.3h0.8v0.8h-0.8zM132.8 105.6h0.8v0.8h-0.8zM163.0 91.3h0.8v0.8h-0.8zM138.7 100.3h0.8v0.8h-0.8zM140.4 99.0h0.8v0.8h-0.8zM139.6 89.9h0.8v0.8h-0.8zM185.3 88.4h0.8v0.8h-0.8z"/>
<rect x="131.25" y="16.25" width="89" height="91" fill="none" stroke="#6a6a6a" stroke-width="1.1"/>
<path d="M131.25 16.25L131.25 107.75" stroke="#555" stroke-width="1.2"/>
<path d="M130.75 107.25L220.25 107.25" stroke="#333" stroke-width="1.4"/>
<path d="M131.25 107.25L131.25 109.45" stroke="#222" stroke-width="0.9"/>
<path d="M129.05 107.25L131.25 107.25" stroke="#222" stroke-width="0.9"/>
<path d="M153.5 107.25L153.5 109.45" stroke="#222" stroke-width="0.9"/>
<path d="M129.05 84.5L131.25 84.5" stroke="#222" stroke-width="0.9"/>
<path d="M175.75 107.25L175.75 109.45" stroke="#222" stroke-width="0.9"/>
<path d="M129.05 61.75L131.25 61.75" stroke="#222" stroke-width="0.9"/>
<path d="M198 107.25L198 109.45" stroke="#222" stroke-width="0.9"/>
<path d="M129.05 39L131.25 39" stroke="#222" stroke-width="0.9"/>
<path d="M220.25 107.25L220.25 109.45" stroke="#222" stroke-width="0.9"/>
<path d="M129.05 16.25L131.25 16.25" stroke="#222" stroke-width="0.9"/>
<path d="M137.95 107.25L137.95 108.55" stroke="#333" stroke-width="0.6"/>
<path d="M141.87 107.25L141.87 108.55" stroke="#333" stroke-width="0.6"/>
<path d="M144.65 107.25L144.65 108.55" stroke="#333" stroke-width="0.6"/>
<path d="M146.8 107.25L146.8 108.55" stroke="#333" stroke-width="0.6"/>
<path d="M148.56 107.25L148.56 108.55" stroke="#333" stroke-width="0.6"/>
<path d="M150.05 107.25L150.05 108.55" stroke="#333" stroke-width="0.6"/>
<path d="M151.34 107.25L151.34 108.55" stroke="#333" stroke-width="0.6"/>
<path d="M152.48 107.25L152.48 108.55" stroke="#333" stroke-width="0.6"/>
<path d="M160.2 107.25L160.2 108.55" stroke="#333" stroke-width="0.6"/>
<path d="M164.12 107.25L164.12 108.55" stroke="#333" stroke-width="0.6"/>
<path d="M166.9 107.25L166.9 108.55" stroke="#333" stroke-width="0.6"/>
<path d="M169.05 107.25L169.05 108.55" stroke="#333" stroke-width="0.6"/>
<path d="M170.81 107.25L170.81 108.55" stroke="#333" stroke-width="0.6"/>
<path d="M172.3 107.25L172.3 108.55" stroke="#333" stroke-width="0.6"/>
<path d="M173.59 107.25L173.59 108.55" stroke="#333" stroke-width="0.6"/>
<path d="M174.73 107.25L174.73 108.55" stroke="#333" stroke-width="0.6"/>
<path d="M182.45 107.25L182.45 108.55" stroke="#333" stroke-width="0.6"/>
<path d="M186.37 107.25L186.37 108.55" stroke="#333" stroke-width="0.6"/>
<path d="M189.15 107.25L189.15 108.55" stroke="#333" stroke-width="0.6"/>
<path d="M191.3 107.25L191.3 108.55" stroke="#333" stroke-width="0.6"/>
<path d="M193.06 107.25L193.06 108.55" stroke="#333" stroke-width="0.6"/>
<path d="M194.55 107.25L194.55 108.55" stroke="#333" stroke-width="0.6"/>
<path d="M195.84 107.25L195.84 108.55" stroke="#333" stroke-width="0.6"/>
<path d="M196.98 107.25L196.98 108.55" stroke="#333" stroke-width="0.6"/>
<path d="M204.7 107.25L204.7 108.55" stroke="#333" stroke-width="0.6"/>
<path d="M208.62 107.25L208.62 108.55" stroke="#333" stroke-width="0.6"/>
<path d="M211.4 107.25L211.4 108.55" stroke="#333" stroke-width="0.6"/>
<path d="M213.55 107.25L213.55 108.55" stroke="#333" stroke-width="0.6"/>
<path d="M215.31 107.25L215.31 108.55" stroke="#333" stroke-width="0.6"/>
<path d="M216.8 107.25L216.8 108.55" stroke="#333" stroke-width="0.6"/>
<path d="M218.09 107.25L218.09 108.55" stroke="#333" stroke-width="0.6"/>
<path d="M219.23 107.25L219.23 108.55" stroke="#333" stroke-width="0.6"/>
<path d="M129.95 100.4L131.25 100.4" stroke="#333" stroke-width="0.6"/>
<path d="M129.95 96.4L131.25 96.4" stroke="#333" stroke-width="0.6"/>
<path d="M129.95 93.55L131.25 93.55" stroke="#333" stroke-width="0.6"/>
<path d="M129.95 91.35L131.25 91.35" stroke="#333" stroke-width="0.6"/>
<path d="M129.95 89.55L131.25 89.55" stroke="#333" stroke-width="0.6"/>
<path d="M129.95 88.02L131.25 88.02" stroke="#333" stroke-width="0.6"/>
<path d="M129.95 86.7L131.25 86.7" stroke="#333" stroke-width="0.6"/>
<path d="M129.95 85.54L131.25 85.54" stroke="#333" stroke-width="0.6"/>
<path d="M129.95 77.65L131.25 77.65" stroke="#333" stroke-width="0.6"/>
<path d="M129.95 73.65L131.25 73.65" stroke="#333" stroke-width="0.6"/>
<path d="M129.95 70.8L131.25 70.8" stroke="#333" stroke-width="0.6"/>
<path d="M129.95 68.6L131.25 68.6" stroke="#333" stroke-width="0.6"/>
<path d="M129.95 66.8L131.25 66.8" stroke="#333" stroke-width="0.6"/>
<path d="M129.95 65.27L131.25 65.27" stroke="#333" stroke-width="0.6"/>
<path d="M129.95 63.95L131.25 63.95" stroke="#333" stroke-width="0.6"/>
<path d="M129.95 62.79L131.25 62.79" stroke="#333" stroke-width="0.6"/>
<path d="M129.95 54.9L131.25 54.9" stroke="#333" stroke-width="0.6"/>
<path d="M129.95 50.9L131.25 50.9" stroke="#333" stroke-width="0.6"/>
<path d="M129.95 48.05L131.25 48.05" stroke="#333" stroke-width="0.6"/>
<path d="M129.95 45.85L131.25 45.85" stroke="#333" stroke-width="0.6"/>
<path d="M129.95 44.05L131.25 44.05" stroke="#333" stroke-width="0.6"/>
<path d="M129.95 42.52L131.25 42.52" stroke="#333" stroke-width="0.6"/>
<path d="M129.95 41.2L131.25 41.2" stroke="#333" stroke-width="0.6"/>
<path d="M129.95 40.04L131.25 40.04" stroke="#333" stroke-width="0.6"/>
<path d="M129.95 32.15L131.25 32.15" stroke="#333" stroke-width="0.6"/>
<path d="M129.95 28.15L131.25 28.15" stroke="#333" stroke-width="0.6"/>
<path d="M129.95 25.3L131.25 25.3" stroke="#333" stroke-width="0.6"/>
<path d="M129.95 23.1L131.25 23.1" stroke="#333" stroke-width="0.6"/>
<path d="M129.95 21.3L131.25 21.3" stroke="#333" stroke-width="0.6"/>
<path d="M129.95 19.77L131.25 19.77" stroke="#333" stroke-width="0.6"/>
<path d="M129.95 18.45L131.25 18.45" stroke="#333" stroke-width="0.6"/>
<path d="M129.95 17.29L131.25 17.29" stroke="#333" stroke-width="0.6"/>
<rect x="147.5" y="18.75" width="51" height="60.65" fill="none" stroke="#8a8a8a" stroke-width="1.1"/>
<text x="203.5" y="52.9" font-size="8.2">59.6</text>
<text x="22.5" y="117.5" font-size="5" fill="#555" text-anchor="middle">10<tspan font-size="3.5" dy="-2.25">0</tspan></text>
<text x="18" y="109.35" font-size="5" fill="#555" text-anchor="end">10<tspan font-size="3.5" dy="-2.25">0</tspan></text>
<text x="46" y="117.5" font-size="5" fill="#555" text-anchor="middle">10<tspan font-size="3.5" dy="-2.25">1</tspan></text>
<text x="18" y="86.47" font-size="5" fill="#555" text-anchor="end">10<tspan font-size="3.5" dy="-2.25">1</tspan></text>
<text x="69.5" y="117.5" font-size="5" fill="#555" text-anchor="middle">10<tspan font-size="3.5" dy="-2.25">2</tspan></text>
<text x="18" y="63.6" font-size="5" fill="#555" text-anchor="end">10<tspan font-size="3.5" dy="-2.25">2</tspan></text>
<text x="93" y="117.5" font-size="5" fill="#555" text-anchor="middle">10<tspan font-size="3.5" dy="-2.25">3</tspan></text>
<text x="18" y="40.73" font-size="5" fill="#555" text-anchor="end">10<tspan font-size="3.5" dy="-2.25">3</tspan></text>
<text x="116.5" y="117.5" font-size="5" fill="#555" text-anchor="middle">10<tspan font-size="3.5" dy="-2.25">4</tspan></text>
<text x="18" y="17.85" font-size="5" fill="#555" text-anchor="end">10<tspan font-size="3.5" dy="-2.25">4</tspan></text>
<text x="131.25" y="117.5" font-size="5" fill="#555" text-anchor="middle">10<tspan font-size="3.5" dy="-2.25">0</tspan></text>
<text x="126.75" y="108.85" font-size="5" fill="#555" text-anchor="end">10<tspan font-size="3.5" dy="-2.25">0</tspan></text>
<text x="153.5" y="117.5" font-size="5" fill="#555" text-anchor="middle">10<tspan font-size="3.5" dy="-2.25">1</tspan></text>
<text x="126.75" y="86.1" font-size="5" fill="#555" text-anchor="end">10<tspan font-size="3.5" dy="-2.25">1</tspan></text>
<text x="175.75" y="117.5" font-size="5" fill="#555" text-anchor="middle">10<tspan font-size="3.5" dy="-2.25">2</tspan></text>
<text x="126.75" y="63.35" font-size="5" fill="#555" text-anchor="end">10<tspan font-size="3.5" dy="-2.25">2</tspan></text>
<text x="198" y="117.5" font-size="5" fill="#555" text-anchor="middle">10<tspan font-size="3.5" dy="-2.25">3</tspan></text>
<text x="126.75" y="40.6" font-size="5" fill="#555" text-anchor="end">10<tspan font-size="3.5" dy="-2.25">3</tspan></text>
<text x="220.25" y="117.5" font-size="5" fill="#555" text-anchor="middle">10<tspan font-size="3.5" dy="-2.25">4</tspan></text>
<text x="126.75" y="17.85" font-size="5" fill="#555" text-anchor="end">10<tspan font-size="3.5" dy="-2.25">4</tspan></text>
<path d="M264.3 115.4 L264.3 74 L265.3 71.5 L266.6 65 L267.8 53 L268.8 46 L269.7 42.4 L270.9 40 L272.1 42 L273 36 L273.7 31 L275 29 L276.2 33 L277 33.9 L277.6 26 L278.1 23.7 L279 23.3 L279.7 29.4 L280.3 36.7 L281.1 40 L282.3 48.2 L283.5 52 L285.5 59 L287.5 65 L288.7 71 L288.9 115.4Z" fill="#c6c6c6" stroke-linejoin="round"/>
<path d="M264.5 115 L268 114.6 L270 114 L273.5 109.8 L275.6 105.5 L277 100 L277.4 94 L278.3 91.3 L279.5 92.5 L280.4 87.4 L281.5 76 L282.2 68 L283.3 65.5 L285.6 54 L286.9 43 L288.1 33 L289 26.5 L290.6 23.3 L291.5 25 L292.5 29.2 L293.4 31 L293.1 40 L295 45.5 L296.2 59 L297.3 62 L298.7 70 L300.2 76 L301.6 80 L303 90 L304.5 100 L306 107 L307.5 112 L308.8 114.6 L312 115 L361 115" fill="none" stroke="#000" stroke-width="1.35" stroke-linejoin="round"/>
<path d="M264.5 115 L268 114.5 L270 113.8 L273.5 109.3 L275.6 105.2 L277 100.5 L277.8 101.5 L279.3 98.5 L280.4 88 L281.3 76 L281.9 66 L283.75 54.25 L285.6 43 L287.5 31.75 L288.7 25.3 L289.7 27 L290.6 23 L291.5 24.5 L292.5 29 L293.75 31 L294.3 38 L295.5 45 L296.9 48 L298.75 54.25 L300.6 47.4 L302.5 51.75 L304.4 60.5 L306.25 64.9 L308.1 66 L309.5 74 L311 78 L313 84 L315.3 90 L317.5 95 L319.6 100 L321.5 106 L323.5 111 L325.4 113.5 L327.5 115 L361 115" fill="none" stroke="#000" stroke-width="1.35" stroke-linejoin="round"/>
<rect x="264" y="17.1" width="97.9" height="98.3" fill="none" stroke="#666" stroke-width="1.1"/>
<path d="M264 17.1L264 115.4" stroke="#333" stroke-width="1.1"/>
<path d="M264 115.4L361.9 115.4" stroke="#222" stroke-width="1.2"/>
<path d="M261.5 115.4L264 115.4" stroke="#222" stroke-width="0.9"/>
<text transform="translate(260.3 117.25) scale(0.86 1)" font-size="5.4" font-weight="bold" text-anchor="end" fill="#333">0</text>
<path d="M261.5 96.7L264 96.7" stroke="#222" stroke-width="0.9"/>
<text transform="translate(260.3 98.55) scale(0.86 1)" font-size="5.4" font-weight="bold" text-anchor="end" fill="#333">20</text>
<path d="M261.5 78L264 78" stroke="#222" stroke-width="0.9"/>
<text transform="translate(260.3 79.85) scale(0.86 1)" font-size="5.4" font-weight="bold" text-anchor="end" fill="#333">40</text>
<path d="M261.5 59.3L264 59.3" stroke="#222" stroke-width="0.9"/>
<text transform="translate(260.3 61.15) scale(0.86 1)" font-size="5.4" font-weight="bold" text-anchor="end" fill="#333">60</text>
<path d="M261.5 40.6L264 40.6" stroke="#222" stroke-width="0.9"/>
<text transform="translate(260.3 42.45) scale(0.86 1)" font-size="5.4" font-weight="bold" text-anchor="end" fill="#333">80</text>
<path d="M261.5 21.9L264 21.9" stroke="#222" stroke-width="0.9"/>
<text transform="translate(260.3 23.75) scale(0.86 1)" font-size="5.4" font-weight="bold" text-anchor="end" fill="#333">100</text>
<path d="M262.8 115.4L264 115.4" stroke="#444" stroke-width="0.5"/>
<path d="M262.8 111.66L264 111.66" stroke="#444" stroke-width="0.5"/>
<path d="M262.8 107.92L264 107.92" stroke="#444" stroke-width="0.5"/>
<path d="M262.8 104.18L264 104.18" stroke="#444" stroke-width="0.5"/>
<path d="M262.8 100.44L264 100.44" stroke="#444" stroke-width="0.5"/>
<path d="M262.8 96.7L264 96.7" stroke="#444" stroke-width="0.5"/>
<path d="M262.8 92.96L264 92.96" stroke="#444" stroke-width="0.5"/>
<path d="M262.8 89.22L264 89.22" stroke="#444" stroke-width="0.5"/>
<path d="M262.8 85.48L264 85.48" stroke="#444" stroke-width="0.5"/>
<path d="M262.8 81.74L264 81.74" stroke="#444" stroke-width="0.5"/>
<path d="M262.8 78L264 78" stroke="#444" stroke-width="0.5"/>
<path d="M262.8 74.26L264 74.26" stroke="#444" stroke-width="0.5"/>
<path d="M262.8 70.52L264 70.52" stroke="#444" stroke-width="0.5"/>
<path d="M262.8 66.78L264 66.78" stroke="#444" stroke-width="0.5"/>
<path d="M262.8 63.04L264 63.04" stroke="#444" stroke-width="0.5"/>
<path d="M262.8 59.3L264 59.3" stroke="#444" stroke-width="0.5"/>
<path d="M262.8 55.56L264 55.56" stroke="#444" stroke-width="0.5"/>
<path d="M262.8 51.82L264 51.82" stroke="#444" stroke-width="0.5"/>
<path d="M262.8 48.08L264 48.08" stroke="#444" stroke-width="0.5"/>
<path d="M262.8 44.34L264 44.34" stroke="#444" stroke-width="0.5"/>
<path d="M262.8 40.6L264 40.6" stroke="#444" stroke-width="0.5"/>
<path d="M262.8 36.86L264 36.86" stroke="#444" stroke-width="0.5"/>
<path d="M262.8 33.12L264 33.12" stroke="#444" stroke-width="0.5"/>
<path d="M262.8 29.38L264 29.38" stroke="#444" stroke-width="0.5"/>
<path d="M262.8 25.64L264 25.64" stroke="#444" stroke-width="0.5"/>
<path d="M262.8 21.9L264 21.9" stroke="#444" stroke-width="0.5"/>
<path d="M264 115.4L264 117.6" stroke="#222" stroke-width="0.8"/>
<path d="M288.48 115.4L288.48 117.6" stroke="#222" stroke-width="0.8"/>
<path d="M312.95 115.4L312.95 117.6" stroke="#222" stroke-width="0.8"/>
<path d="M337.42 115.4L337.42 117.6" stroke="#222" stroke-width="0.8"/>
<path d="M361.9 115.4L361.9 117.6" stroke="#222" stroke-width="0.8"/>
<path d="M271.37 115.4L271.37 116.6" stroke="#333" stroke-width="0.5"/>
<path d="M275.68 115.4L275.68 116.6" stroke="#333" stroke-width="0.5"/>
<path d="M278.74 115.4L278.74 116.6" stroke="#333" stroke-width="0.5"/>
<path d="M281.11 115.4L281.11 116.6" stroke="#333" stroke-width="0.5"/>
<path d="M283.05 115.4L283.05 116.6" stroke="#333" stroke-width="0.5"/>
<path d="M284.68 115.4L284.68 116.6" stroke="#333" stroke-width="0.5"/>
<path d="M286.1 115.4L286.1 116.6" stroke="#333" stroke-width="0.5"/>
<path d="M287.36 115.4L287.36 116.6" stroke="#333" stroke-width="0.5"/>
<path d="M295.84 115.4L295.84 116.6" stroke="#333" stroke-width="0.5"/>
<path d="M300.15 115.4L300.15 116.6" stroke="#333" stroke-width="0.5"/>
<path d="M303.21 115.4L303.21 116.6" stroke="#333" stroke-width="0.5"/>
<path d="M305.58 115.4L305.58 116.6" stroke="#333" stroke-width="0.5"/>
<path d="M307.52 115.4L307.52 116.6" stroke="#333" stroke-width="0.5"/>
<path d="M309.16 115.4L309.16 116.6" stroke="#333" stroke-width="0.5"/>
<path d="M310.58 115.4L310.58 116.6" stroke="#333" stroke-width="0.5"/>
<path d="M311.83 115.4L311.83 116.6" stroke="#333" stroke-width="0.5"/>
<path d="M320.32 115.4L320.32 116.6" stroke="#333" stroke-width="0.5"/>
<path d="M324.63 115.4L324.63 116.6" stroke="#333" stroke-width="0.5"/>
<path d="M327.69 115.4L327.69 116.6" stroke="#333" stroke-width="0.5"/>
<path d="M330.06 115.4L330.06 116.6" stroke="#333" stroke-width="0.5"/>
<path d="M332 115.4L332 116.6" stroke="#333" stroke-width="0.5"/>
<path d="M333.63 115.4L333.63 116.6" stroke="#333" stroke-width="0.5"/>
<path d="M335.05 115.4L335.05 116.6" stroke="#333" stroke-width="0.5"/>
<path d="M336.31 115.4L336.31 116.6" stroke="#333" stroke-width="0.5"/>
<path d="M344.79 115.4L344.79 116.6" stroke="#333" stroke-width="0.5"/>
<path d="M349.1 115.4L349.1 116.6" stroke="#333" stroke-width="0.5"/>
<path d="M352.16 115.4L352.16 116.6" stroke="#333" stroke-width="0.5"/>
<path d="M354.53 115.4L354.53 116.6" stroke="#333" stroke-width="0.5"/>
<path d="M356.47 115.4L356.47 116.6" stroke="#333" stroke-width="0.5"/>
<path d="M358.11 115.4L358.11 116.6" stroke="#333" stroke-width="0.5"/>
<path d="M359.53 115.4L359.53 116.6" stroke="#333" stroke-width="0.5"/>
<path d="M360.78 115.4L360.78 116.6" stroke="#333" stroke-width="0.5"/>
<text transform="translate(250.4 65.7) rotate(-90)" x="0" y="0" font-size="9.1" text-anchor="middle" fill="#111" stroke="#111" stroke-width="0.3">% of Max</text>
<rect x="296" y="25" width="11.5" height="6.5" fill="#a9a9a9"/>
<text x="309.6" y="30.2" font-size="12.4" font-weight="bold" fill="#737373">Isotype</text>
<text x="323" y="47.5" font-size="11.8" font-weight="bold">D0</text>
<text x="323" y="64.4" font-size="11.8" font-weight="bold" fill="#737373">D4</text>
<path d="M403.75 12.4L403.75 109.45" stroke="#000" stroke-width="1.5"/>
<path d="M403.05 108.75L491.9 108.75" stroke="#000" stroke-width="1.5"/>
<path d="M399.15 108.6L403.75 108.6" stroke="#000" stroke-width="1.5"/>
<text transform="translate(399.05 111.2) scale(0.84 1)" font-size="8.05" text-anchor="end">0</text>
<path d="M399.15 84.72L403.75 84.72" stroke="#000" stroke-width="1.5"/>
<text transform="translate(399.05 87.32) scale(0.84 1)" font-size="8.05" text-anchor="end">100</text>
<path d="M399.15 60.84L403.75 60.84" stroke="#000" stroke-width="1.5"/>
<text transform="translate(399.05 63.44) scale(0.84 1)" font-size="8.05" text-anchor="end">200</text>
<path d="M399.15 36.96L403.75 36.96" stroke="#000" stroke-width="1.5"/>
<text transform="translate(399.05 39.56) scale(0.84 1)" font-size="8.05" text-anchor="end">300</text>
<path d="M399.15 13.08L403.75 13.08" stroke="#000" stroke-width="1.5"/>
<text transform="translate(399.05 15.68) scale(0.84 1)" font-size="8.05" text-anchor="end">400</text>
<path d="M418.1 108.75L418.1 112.45" stroke="#000" stroke-width="1.5"/>
<path d="M447.6 108.75L447.6 112.45" stroke="#000" stroke-width="1.5"/>
<path d="M477.25 108.75L477.25 112.45" stroke="#000" stroke-width="1.5"/>
<text transform="translate(418.15 118.6) scale(0.89 1)" font-size="8.9" font-weight="bold" text-anchor="middle">Day 0</text>
<text transform="translate(446.7 118.6) scale(0.89 1)" font-size="8.9" font-weight="bold" text-anchor="middle">Day 3</text>
<text transform="translate(476.1 118.6) scale(0.89 1)" font-size="8.9" font-weight="bold" text-anchor="middle">Day 4</text>
<path d="M418.1 84.5 L447.75 57.6 L477.25 35.6" fill="none" stroke="#000" stroke-width="1.35" stroke-linejoin="round"/>
<circle cx="418.1" cy="84.5" r="1.9"/>
<circle cx="447.75" cy="57.6" r="1.9"/>
<path d="M447.75 51L447.75 64" stroke="#000" stroke-width="1.1"/>
<path d="M445.85 51L449.65 51" stroke="#000" stroke-width="1.1"/>
<path d="M445.85 64L449.65 64" stroke="#000" stroke-width="1.1"/>
<circle cx="477.25" cy="35.6" r="1.9"/>
<path d="M477.25 32.5L477.25 38.7" stroke="#000" stroke-width="1.1"/>
<path d="M475.35 32.5L479.15 32.5" stroke="#000" stroke-width="1.1"/>
<path d="M475.35 38.7L479.15 38.7" stroke="#000" stroke-width="1.1"/>
<text x="430" y="46.3" font-size="7.6" font-weight="bold">p&lt;0.003</text>
<text x="458.7" y="27" font-size="7.6" font-weight="bold">p&lt;0.0001</text>
<text transform="translate(376.4 60) rotate(-90)" x="0" y="0" font-size="7.6" font-weight="bold" text-anchor="middle">MFI of CD1d surface</text>
<text transform="translate(386.2 59) rotate(-90)" x="0" y="0" font-size="7.6" font-weight="bold" text-anchor="middle">expression (F4/80+)</text>
<text x="0.2" y="144.6" font-size="11.8" font-weight="bold">B</text>
<path d="M50.7 141.8L50.7 252.4" stroke="#000" stroke-width="1.6"/>
<path d="M46.8 251.6L224 251.6" stroke="#000" stroke-width="1.6"/>
<path d="M46.8 251.3L50.7 251.3" stroke="#000" stroke-width="1.4"/>
<text transform="translate(46.5 254.8) scale(0.82 1)" font-size="9.8" text-anchor="end">0</text>
<path d="M46.8 235.76L50.7 235.76" stroke="#000" stroke-width="1.4"/>
<text transform="translate(46.5 239.26) scale(0.82 1)" font-size="9.8" text-anchor="end">100</text>
<path d="M46.8 220.21L50.7 220.21" stroke="#000" stroke-width="1.4"/>
<text transform="translate(46.5 223.71) scale(0.82 1)" font-size="9.8" text-anchor="end">200</text>
<path d="M46.8 204.67L50.7 204.67" stroke="#000" stroke-width="1.4"/>
<text transform="translate(46.5 208.17) scale(0.82 1)" font-size="9.8" text-anchor="end">300</text>
<path d="M46.8 189.13L50.7 189.13" stroke="#000" stroke-width="1.4"/>
<text transform="translate(46.5 192.63) scale(0.82 1)" font-size="9.8" text-anchor="end">400</text>
<path d="M46.8 173.59L50.7 173.59" stroke="#000" stroke-width="1.4"/>
<text transform="translate(46.5 177.09) scale(0.82 1)" font-size="9.8" text-anchor="end">500</text>
<path d="M46.8 158.04L50.7 158.04" stroke="#000" stroke-width="1.4"/>
<text transform="translate(46.5 161.54) scale(0.82 1)" font-size="9.8" text-anchor="end">600</text>
<path d="M46.8 142.5L50.7 142.5" stroke="#000" stroke-width="1.4"/>
<text transform="translate(46.5 146) scale(0.82 1)" font-size="9.8" text-anchor="end">700</text>
<path d="M65.15 237.5L65.15 232.8" stroke="#000" stroke-width="1.5"/>
<path d="M61.55 232.8L68.75 232.8" stroke="#000" stroke-width="1.5"/>
<rect x="58.05" y="238.25" width="14.2" height="13.35" fill="#7f7f7f" stroke="#000" stroke-width="1.5"/>
<rect x="73.75" y="249.35" width="13.2" height="2.25" fill="#fff" stroke="#000" stroke-width="1.5"/>
<path d="M76 248.6L82.7 248.6" stroke="#000" stroke-width="1.3"/>
<path d="M108.5 177.8L108.5 156.5" stroke="#000" stroke-width="1.5"/>
<path d="M104.6 156.5L112.4 156.5" stroke="#000" stroke-width="1.5"/>
<rect x="101.45" y="178.55" width="14.1" height="73.05" fill="#7f7f7f" stroke="#000" stroke-width="1.5"/>
<path d="M123.65 242.3L123.65 238" stroke="#000" stroke-width="1.5"/>
<path d="M120.65 238L126.65 238" stroke="#000" stroke-width="1.5"/>
<rect x="117.05" y="243.05" width="13.2" height="8.55" fill="#fff" stroke="#000" stroke-width="1.5"/>
<path d="M152.35 237.3L152.35 234.1" stroke="#000" stroke-width="1.5"/>
<path d="M148.45 234.1L156.25 234.1" stroke="#000" stroke-width="1.5"/>
<rect x="145.75" y="238.05" width="13.2" height="13.55" fill="#7f7f7f" stroke="#000" stroke-width="1.5"/>
<rect x="160.45" y="249.25" width="12.8" height="2.35" fill="#fff" stroke="#000" stroke-width="1.5"/>
<path d="M194.95 246.4L194.95 244.8" stroke="#000" stroke-width="1.5"/>
<path d="M191.35 244.8L198.55 244.8" stroke="#000" stroke-width="1.5"/>
<rect x="188.45" y="247.15" width="13" height="4.45" fill="#7f7f7f" stroke="#000" stroke-width="1.5"/>
<path d="M209.85 242.6L209.85 241.6" stroke="#000" stroke-width="1.5"/>
<path d="M206.25 241.6L213.45 241.6" stroke="#000" stroke-width="1.5"/>
<rect x="202.95" y="243.35" width="13.8" height="8.25" fill="#fff" stroke="#000" stroke-width="1.5"/>
<path d="M58.6 155.3 L58.6 149.6 L101.3 149.6 L101.3 155.3" fill="none" stroke="#000" stroke-width="1.4" stroke-linejoin="round"/>
<path d="M105.5 157 L105.5 149.5 L146.1 149.5 L146.1 155.3" fill="none" stroke="#000" stroke-width="1.4" stroke-linejoin="round"/>
<text transform="translate(59.5 144.85) scale(0.9 1)" font-size="9.8" font-weight="bold">p=0.0112</text>
<text transform="translate(105.9 144.6) scale(0.9 1)" font-size="9.8" font-weight="bold">p=0.0113</text>
<rect x="139.6" y="170" width="13.5" height="6.2" fill="#7f7f7f" stroke="#000" stroke-width="1.4"/>
<rect x="139.6" y="182.9" width="13.5" height="6.1" fill="#fff" stroke="#000" stroke-width="1.4"/>
<text transform="translate(159 176.1) scale(0.87 1)" font-size="9.1" font-weight="bold">N38- 2C12 NKT</text>
<text transform="translate(159 188.6) scale(0.87 1)" font-size="9.1" font-weight="bold">N37- 1A12 NKT</text>
<text x="74" y="262" font-size="8.4" font-weight="bold" text-anchor="middle">Day 0</text>
<text x="115.8" y="262" font-size="8.4" font-weight="bold" text-anchor="middle">Day 4</text>
<text x="158" y="262" font-size="8.4" font-weight="bold" text-anchor="middle">Day 4</text>
<text transform="translate(158.8 271.5) scale(0.95 1)" font-size="8.9" font-weight="bold" font-style="italic" text-anchor="middle">Cd1d-/-</text>
<text x="204.4" y="262.5" font-size="8.4" font-weight="bold" text-anchor="middle">No Mac</text>
<path d="M63 265.4L121.5 265.4" stroke="#000" stroke-width="1.5"/>
<text transform="translate(94.6 272.9) scale(0.87 1)" font-size="9.2" font-weight="bold" text-anchor="middle">WT</text>
<text transform="translate(22.2 195.9) rotate(-90)" x="0" y="0" font-size="10.8" font-weight="bold" text-anchor="middle">IL-2 (pg/mL)</text>
<text x="237.9" y="146.1" font-size="12" font-weight="bold">C</text>
<path d="M265.2 251 L265.2 161 L266 158.5 L267 156.2 L268.9 158 L270.1 155.8 L271.4 156.8 L272 163 L273 169.2 L274 170 L274.6 171.5 L275.2 179 L276.4 189 L278 196 L279.4 202 L280.8 209 L282 214 L283 219 L283.8 225 L284.3 230 L285.5 236 L287 241 L289.8 246.5 L294 248.5 L300 250.5 L305 251Z" fill="#585858" stroke-linejoin="round"/>
<path d="M265.5 250.8 L268 250.5 L271 249.3 L275.2 246 L278.7 239.5 L281.5 231 L282.9 221 L283.8 212 L284.8 205 L285.5 196 L286.1 190 L287 181 L288 177.5 L289.3 172 L290.3 165 L291 158 L291.9 154.8 L293.5 157 L295.3 154.8 L296.2 158 L297 163 L297.7 165.3 L298 172 L298.3 180 L298.8 190 L299.5 198 L300 204 L298.8 208.5 L300.5 207 L302.5 210 L303.2 212 L305.2 212.7 L305.8 216.7 L307.8 218.6 L309.8 223.3 L310.2 228.3 L311.8 227.2 L313 230.5 L315.7 232.5 L317 235 L320.3 235.8 L322.3 237.1 L325 239 L327.5 244.5 L330 246.5 L333 248.3 L336 249.3 L340 250 L345 250.3 L366 250.6" fill="none" stroke="#000" stroke-width="1.3" stroke-linejoin="round"/>
<path d="M265.5 250.8 L268 250.3 L271 249 L274 247 L277.3 244.5 L280.8 238 L282.9 229.5 L283.8 221 L284.5 214 L285.5 205 L287 197 L288.4 192 L289.2 186 L290 178 L290.5 170 L291 163 L291.5 157 L292.2 155.3 L293.5 157.5 L294.8 155.5 L295 160 L294.2 166 L293.7 170 L294.3 175 L295.5 180 L296.5 184 L297.3 190 L298.3 196 L299.5 203 L300.8 207.5 L302.5 209.5 L304 212.5 L305.5 214 L306.5 217.5 L308.5 219.5 L310 224 L311.5 226 L313 229.5 L315.5 232 L317.5 234.3 L320 235.5 L322.5 236.8 L325 239.5 L327.5 244 L330 246.5 L333 248 L336 249 L340 249.8 L345 250.3 L366 250.6" fill="none" stroke="#000" stroke-width="1.3" stroke-linejoin="round"/>
<rect x="265" y="148.4" width="102" height="102.6" fill="none" stroke="#999" stroke-width="1.2"/>
<path d="M265 148.4L265 251" stroke="#333" stroke-width="1.1"/>
<path d="M265 251L367 251" stroke="#222" stroke-width="1.2"/>
<path d="M262.5 251L265 251" stroke="#222" stroke-width="0.9"/>
<text transform="translate(261.3 252.92) scale(0.86 1)" font-size="5.62" font-weight="bold" text-anchor="end" fill="#333">0</text>
<path d="M262.5 231.48L265 231.48" stroke="#222" stroke-width="0.9"/>
<text transform="translate(261.3 233.4) scale(0.86 1)" font-size="5.62" font-weight="bold" text-anchor="end" fill="#333">20</text>
<path d="M262.5 211.96L265 211.96" stroke="#222" stroke-width="0.9"/>
<text transform="translate(261.3 213.88) scale(0.86 1)" font-size="5.62" font-weight="bold" text-anchor="end" fill="#333">40</text>
<path d="M262.5 192.44L265 192.44" stroke="#222" stroke-width="0.9"/>
<text transform="translate(261.3 194.36) scale(0.86 1)" font-size="5.62" font-weight="bold" text-anchor="end" fill="#333">60</text>
<path d="M262.5 172.92L265 172.92" stroke="#222" stroke-width="0.9"/>
<text transform="translate(261.3 174.84) scale(0.86 1)" font-size="5.62" font-weight="bold" text-anchor="end" fill="#333">80</text>
<path d="M262.5 153.4L265 153.4" stroke="#222" stroke-width="0.9"/>
<text transform="translate(261.3 155.32) scale(0.86 1)" font-size="5.62" font-weight="bold" text-anchor="end" fill="#333">100</text>
<path d="M263.8 251L265 251" stroke="#444" stroke-width="0.5"/>
<path d="M263.8 247.1L265 247.1" stroke="#444" stroke-width="0.5"/>
<path d="M263.8 243.19L265 243.19" stroke="#444" stroke-width="0.5"/>
<path d="M263.8 239.29L265 239.29" stroke="#444" stroke-width="0.5"/>
<path d="M263.8 235.38L265 235.38" stroke="#444" stroke-width="0.5"/>
<path d="M263.8 231.48L265 231.48" stroke="#444" stroke-width="0.5"/>
<path d="M263.8 227.58L265 227.58" stroke="#444" stroke-width="0.5"/>
<path d="M263.8 223.67L265 223.67" stroke="#444" stroke-width="0.5"/>
<path d="M263.8 219.77L265 219.77" stroke="#444" stroke-width="0.5"/>
<path d="M263.8 215.86L265 215.86" stroke="#444" stroke-width="0.5"/>
<path d="M263.8 211.96L265 211.96" stroke="#444" stroke-width="0.5"/>
<path d="M263.8 208.06L265 208.06" stroke="#444" stroke-width="0.5"/>
<path d="M263.8 204.15L265 204.15" stroke="#444" stroke-width="0.5"/>
<path d="M263.8 200.25L265 200.25" stroke="#444" stroke-width="0.5"/>
<path d="M263.8 196.34L265 196.34" stroke="#444" stroke-width="0.5"/>
<path d="M263.8 192.44L265 192.44" stroke="#444" stroke-width="0.5"/>
<path d="M263.8 188.54L265 188.54" stroke="#444" stroke-width="0.5"/>
<path d="M263.8 184.63L265 184.63" stroke="#444" stroke-width="0.5"/>
<path d="M263.8 180.73L265 180.73" stroke="#444" stroke-width="0.5"/>
<path d="M263.8 176.82L265 176.82" stroke="#444" stroke-width="0.5"/>
<path d="M263.8 172.92L265 172.92" stroke="#444" stroke-width="0.5"/>
<path d="M263.8 169.02L265 169.02" stroke="#444" stroke-width="0.5"/>
<path d="M263.8 165.11L265 165.11" stroke="#444" stroke-width="0.5"/>
<path d="M263.8 161.21L265 161.21" stroke="#444" stroke-width="0.5"/>
<path d="M263.8 157.3L265 157.3" stroke="#444" stroke-width="0.5"/>
<path d="M263.8 153.4L265 153.4" stroke="#444" stroke-width="0.5"/>
<path d="M265 251L265 253.2" stroke="#222" stroke-width="0.8"/>
<path d="M290.5 251L290.5 253.2" stroke="#222" stroke-width="0.8"/>
<path d="M316 251L316 253.2" stroke="#222" stroke-width="0.8"/>
<path d="M341.5 251L341.5 253.2" stroke="#222" stroke-width="0.8"/>
<path d="M367 251L367 253.2" stroke="#222" stroke-width="0.8"/>
<path d="M272.68 251L272.68 252.2" stroke="#333" stroke-width="0.5"/>
<path d="M277.17 251L277.17 252.2" stroke="#333" stroke-width="0.5"/>
<path d="M280.35 251L280.35 252.2" stroke="#333" stroke-width="0.5"/>
<path d="M282.82 251L282.82 252.2" stroke="#333" stroke-width="0.5"/>
<path d="M284.84 251L284.84 252.2" stroke="#333" stroke-width="0.5"/>
<path d="M286.55 251L286.55 252.2" stroke="#333" stroke-width="0.5"/>
<path d="M288.03 251L288.03 252.2" stroke="#333" stroke-width="0.5"/>
<path d="M289.33 251L289.33 252.2" stroke="#333" stroke-width="0.5"/>
<path d="M298.18 251L298.18 252.2" stroke="#333" stroke-width="0.5"/>
<path d="M302.67 251L302.67 252.2" stroke="#333" stroke-width="0.5"/>
<path d="M305.85 251L305.85 252.2" stroke="#333" stroke-width="0.5"/>
<path d="M308.32 251L308.32 252.2" stroke="#333" stroke-width="0.5"/>
<path d="M310.34 251L310.34 252.2" stroke="#333" stroke-width="0.5"/>
<path d="M312.05 251L312.05 252.2" stroke="#333" stroke-width="0.5"/>
<path d="M313.53 251L313.53 252.2" stroke="#333" stroke-width="0.5"/>
<path d="M314.83 251L314.83 252.2" stroke="#333" stroke-width="0.5"/>
<path d="M323.68 251L323.68 252.2" stroke="#333" stroke-width="0.5"/>
<path d="M328.17 251L328.17 252.2" stroke="#333" stroke-width="0.5"/>
<path d="M331.35 251L331.35 252.2" stroke="#333" stroke-width="0.5"/>
<path d="M333.82 251L333.82 252.2" stroke="#333" stroke-width="0.5"/>
<path d="M335.84 251L335.84 252.2" stroke="#333" stroke-width="0.5"/>
<path d="M337.55 251L337.55 252.2" stroke="#333" stroke-width="0.5"/>
<path d="M339.03 251L339.03 252.2" stroke="#333" stroke-width="0.5"/>
<path d="M340.33 251L340.33 252.2" stroke="#333" stroke-width="0.5"/>
<path d="M349.18 251L349.18 252.2" stroke="#333" stroke-width="0.5"/>
<path d="M353.67 251L353.67 252.2" stroke="#333" stroke-width="0.5"/>
<path d="M356.85 251L356.85 252.2" stroke="#333" stroke-width="0.5"/>
<path d="M359.32 251L359.32 252.2" stroke="#333" stroke-width="0.5"/>
<path d="M361.34 251L361.34 252.2" stroke="#333" stroke-width="0.5"/>
<path d="M363.05 251L363.05 252.2" stroke="#333" stroke-width="0.5"/>
<path d="M364.53 251L364.53 252.2" stroke="#333" stroke-width="0.5"/>
<path d="M365.83 251L365.83 252.2" stroke="#333" stroke-width="0.5"/>
<text x="265" y="260.8" font-size="5" fill="#555" text-anchor="middle">10<tspan font-size="3.5" dy="-2.25">0</tspan></text>
<text x="290.5" y="260.8" font-size="5" fill="#555" text-anchor="middle">10<tspan font-size="3.5" dy="-2.25">1</tspan></text>
<text x="316" y="260.8" font-size="5" fill="#555" text-anchor="middle">10<tspan font-size="3.5" dy="-2.25">2</tspan></text>
<text x="341.5" y="260.8" font-size="5" fill="#555" text-anchor="middle">10<tspan font-size="3.5" dy="-2.25">3</tspan></text>
<text x="367" y="260.8" font-size="5" fill="#555" text-anchor="middle">10<tspan font-size="3.5" dy="-2.25">4</tspan></text>
<text transform="translate(250.7 199.2) rotate(-90) scale(0.84 1)" x="0" y="0" font-size="11.3" font-weight="bold" text-anchor="middle">% of Max</text>
<text x="315.7" y="269.5" font-size="9.2" font-weight="bold" text-anchor="middle">CD1d</text>
<text x="321.6" y="161.5" font-size="12.4" font-weight="bold" font-style="italic" fill="#737373">Il4<tspan font-size="9.5" dy="-3.4">-/-</tspan></text>
<text x="323.9" y="177.8" font-size="12.4" font-weight="bold">WT</text>
<rect x="303.2" y="187" width="11.6" height="6.5" fill="#9a9a9a"/>
<text x="317" y="191.9" font-size="12.3" font-weight="bold" fill="#737373">Isotype</text>
<text x="408.7" y="146.1" font-size="12" font-weight="bold">D</text>
<path d="M446.25 162.1L446.25 254.4" stroke="#000" stroke-width="1.6"/>
<path d="M445.5 253.6L519.6 253.6" stroke="#000" stroke-width="1.6"/>
<path d="M442.6 253.7L446.25 253.7" stroke="#000" stroke-width="1.4"/>
<text transform="translate(442.4 256.6) scale(0.93 1)" font-size="8.2" font-weight="bold" text-anchor="end">0</text>
<path d="M442.6 223.38L446.25 223.38" stroke="#000" stroke-width="1.4"/>
<text transform="translate(442.4 226.28) scale(0.93 1)" font-size="8.2" font-weight="bold" text-anchor="end">50</text>
<path d="M442.6 193.07L446.25 193.07" stroke="#000" stroke-width="1.4"/>
<text transform="translate(442.4 195.97) scale(0.93 1)" font-size="8.2" font-weight="bold" text-anchor="end">100</text>
<path d="M442.6 162.75L446.25 162.75" stroke="#000" stroke-width="1.4"/>
<text transform="translate(442.4 165.66) scale(0.93 1)" font-size="8.2" font-weight="bold" text-anchor="end">150</text>
<path d="M470.8 253.6L470.8 256.6" stroke="#000" stroke-width="1.1"/>
<path d="M495 253.6L495 256.6" stroke="#000" stroke-width="1.1"/>
<rect x="459.25" y="193.85" width="22.2" height="59.75" fill="#fff" stroke="#000" stroke-width="1.5"/>
<path d="M495.1 186.2L495.1 175.3" stroke="#000" stroke-width="1.5"/>
<path d="M489.1 175.3L501.1 175.3" stroke="#000" stroke-width="1.5"/>
<rect x="482.95" y="186.95" width="24.3" height="66.65" fill="#000" stroke="#000" stroke-width="1.5"/>
<path d="M471.9 171.3L501 171.3" stroke="#000" stroke-width="1.4"/>
<text x="487.2" y="168.9" font-size="9.8" font-weight="bold" text-anchor="middle">NS</text>
<text transform="translate(474.4 153.6) scale(0.93 1)" font-size="13" font-weight="bold" text-anchor="middle">IL-2</text>
<text transform="translate(470.2 266.1) scale(0.93 1)" font-size="10.2" font-weight="bold" text-anchor="middle">WT</text>
<text transform="translate(489.7 266.1) scale(0.93 1)" font-size="10.2" font-weight="bold" font-style="italic">Il4<tspan font-size="7" dy="-3.6">-/-</tspan></text>
<text transform="translate(421.4 206.4) rotate(-90) scale(0.79 1)" x="0" y="0" font-size="12.5" font-weight="bold" text-anchor="middle">% of WT</text>
<text x="24.3" y="296" font-size="12" font-weight="bold">E</text>
<path d="M67.6 293L67.6 402.3" stroke="#000" stroke-width="1.6"/>
<path d="M62.8 401.5L143.2 401.5" stroke="#000" stroke-width="1.6"/>
<path d="M63.2 401.7L67.6 401.7" stroke="#000" stroke-width="1.4"/>
<text transform="translate(62.6 404.9) scale(0.97 1)" font-size="9.6" font-weight="bold" text-anchor="end">0</text>
<path d="M63.2 374.66L67.6 374.66" stroke="#000" stroke-width="1.4"/>
<text transform="translate(62.6 377.86) scale(0.97 1)" font-size="9.6" font-weight="bold" text-anchor="end">200</text>
<path d="M63.2 347.62L67.6 347.62" stroke="#000" stroke-width="1.4"/>
<text transform="translate(62.6 350.82) scale(0.97 1)" font-size="9.6" font-weight="bold" text-anchor="end">400</text>
<path d="M63.2 320.58L67.6 320.58" stroke="#000" stroke-width="1.4"/>
<text transform="translate(62.6 323.78) scale(0.97 1)" font-size="9.6" font-weight="bold" text-anchor="end">600</text>
<path d="M63.2 293.54L67.6 293.54" stroke="#000" stroke-width="1.4"/>
<text transform="translate(62.6 296.74) scale(0.97 1)" font-size="9.6" font-weight="bold" text-anchor="end">800</text>
<path d="M85.6 401.5L85.6 405.6" stroke="#000" stroke-width="1.5"/>
<path d="M124.2 401.5L124.2 405.6" stroke="#000" stroke-width="1.5"/>
<path d="M77.65 376.2L77.65 366.5" stroke="#000" stroke-width="1.5"/>
<path d="M73.95 366.5L81.35 366.5" stroke="#000" stroke-width="1.5"/>
<rect x="70.05" y="376.95" width="15.2" height="24.55" fill="#fff" stroke="#000" stroke-width="1.5"/>
<path d="M94.35 363.8L94.35 349.2" stroke="#000" stroke-width="1.5"/>
<path d="M89.65 349.2L99.05 349.2" stroke="#000" stroke-width="1.5"/>
<rect x="86.75" y="364.55" width="15.2" height="36.95" fill="#7f7f7f" stroke="#000" stroke-width="1.5"/>
<path d="M115.95 320L115.95 318.4" stroke="#000" stroke-width="1.5"/>
<path d="M111.35 318.4L120.55 318.4" stroke="#000" stroke-width="1.5"/>
<rect x="108.25" y="320.75" width="15.4" height="80.75" fill="#fff" stroke="#000" stroke-width="1.5"/>
<path d="M132.85 320.9L132.85 312.9" stroke="#000" stroke-width="1.5"/>
<path d="M128.25 312.9L137.45 312.9" stroke="#000" stroke-width="1.5"/>
<rect x="125.15" y="321.65" width="15.4" height="79.85" fill="#7f7f7f" stroke="#000" stroke-width="1.5"/>
<path d="M73.5 345.2L101.7 345.2" stroke="#000" stroke-width="1.7"/>
<text transform="translate(85.65 341.9) scale(0.86 1)" font-size="9.9" font-weight="bold" text-anchor="middle">NS</text>
<rect x="72.9" y="294.4" width="12.1" height="6.5" fill="#fff" stroke="#000" stroke-width="1.4"/>
<rect x="72.9" y="307.5" width="12.1" height="7.1" fill="#7f7f7f" stroke="#000" stroke-width="1.4"/>
<text x="91.5" y="300.8" font-size="8.5" font-weight="bold">WT</text>
<text x="91.3" y="313.7" font-size="8.8" font-weight="bold" font-style="italic">Il4ra-/-</text>
<text x="85.6" y="416.2" font-size="10" font-weight="bold" text-anchor="middle">D0</text>
<text x="124.2" y="416.2" font-size="10" font-weight="bold" text-anchor="middle">D4</text>
<text transform="translate(41.3 352) rotate(-90) scale(0.92 1)" x="0" y="0" font-size="11.9" font-weight="bold" text-anchor="middle">IL-2 (pg/mL)</text>
<text x="155.2" y="295.8" font-size="12" font-weight="bold">F</text>
<path d="M200 401 L204 399.5 L207 395 L208.3 388 L209 380 L210 362 L210.9 345 L211.5 333 L212.3 319 L213 309 L213.8 303.4 L214.7 309 L215.6 319 L216.8 326 L217.4 345 L218.3 352 L219.5 360 L221.3 370 L223 380 L224.5 388 L225.7 395 L227.5 399.5 L231 401Z" fill="#e3e3e3" stroke="#8a8a8a" stroke-width="1.1" stroke-linejoin="round"/>
<path d="M190 401 L200 400.8 L203.5 400 L206 398 L208.6 395 L210.8 388 L212.5 380 L213.5 370 L214.3 360 L215.2 352 L215.6 345 L216.5 335 L217.4 325 L218.3 317 L219.4 313 L220.4 310.6 L221.5 306 L222.5 302.8 L223.5 307 L224.3 313 L225 320 L225.8 325 L226.6 330 L228 345 L229.6 360 L231.3 370 L233.5 380 L236 389 L239 395 L242 399.3 L245 400.8 L250 401" fill="none" stroke="#000" stroke-width="1.35" stroke-linejoin="round"/>
<path d="M195 401 L202 400.7 L206 400 L210 398.5 L214.8 395 L217.5 389 L220.2 380 L222.8 370 L225 360 L226.5 352 L227.6 345 L228.3 335 L228.8 325 L229.7 318 L230.6 315 L231.5 310 L232.4 302.8 L233.3 310 L234.3 313 L235 316 L235.4 322 L236.2 332 L237.5 345 L239 360 L240.5 370 L242 380 L244 389 L246.4 395 L249.5 399.3 L253 400.8 L260 401" fill="none" stroke="#000" stroke-width="1.35" stroke-linejoin="round"/>
<rect x="187.5" y="295.6" width="110" height="105.8" fill="none" stroke="#2a2a2a" stroke-width="1.25"/>
<path d="M187.5 295.6L187.5 401.4" stroke="#333" stroke-width="1.1"/>
<path d="M187.5 401.4L297.5 401.4" stroke="#222" stroke-width="1.2"/>
<path d="M185 401L187.5 401" stroke="#222" stroke-width="0.9"/>
<text transform="translate(183.8 402.92) scale(0.86 1)" font-size="5.62" font-weight="bold" text-anchor="end" fill="#333">0</text>
<path d="M185 381L187.5 381" stroke="#222" stroke-width="0.9"/>
<text transform="translate(183.8 382.92) scale(0.86 1)" font-size="5.62" font-weight="bold" text-anchor="end" fill="#333">20</text>
<path d="M185 361L187.5 361" stroke="#222" stroke-width="0.9"/>
<text transform="translate(183.8 362.92) scale(0.86 1)" font-size="5.62" font-weight="bold" text-anchor="end" fill="#333">40</text>
<path d="M185 341L187.5 341" stroke="#222" stroke-width="0.9"/>
<text transform="translate(183.8 342.92) scale(0.86 1)" font-size="5.62" font-weight="bold" text-anchor="end" fill="#333">60</text>
<path d="M185 321L187.5 321" stroke="#222" stroke-width="0.9"/>
<text transform="translate(183.8 322.92) scale(0.86 1)" font-size="5.62" font-weight="bold" text-anchor="end" fill="#333">80</text>
<path d="M185 301L187.5 301" stroke="#222" stroke-width="0.9"/>
<text transform="translate(183.8 302.92) scale(0.86 1)" font-size="5.62" font-weight="bold" text-anchor="end" fill="#333">100</text>
<path d="M186.3 401L187.5 401" stroke="#444" stroke-width="0.5"/>
<path d="M186.3 397L187.5 397" stroke="#444" stroke-width="0.5"/>
<path d="M186.3 393L187.5 393" stroke="#444" stroke-width="0.5"/>
<path d="M186.3 389L187.5 389" stroke="#444" stroke-width="0.5"/>
<path d="M186.3 385L187.5 385" stroke="#444" stroke-width="0.5"/>
<path d="M186.3 381L187.5 381" stroke="#444" stroke-width="0.5"/>
<path d="M186.3 377L187.5 377" stroke="#444" stroke-width="0.5"/>
<path d="M186.3 373L187.5 373" stroke="#444" stroke-width="0.5"/>
<path d="M186.3 369L187.5 369" stroke="#444" stroke-width="0.5"/>
<path d="M186.3 365L187.5 365" stroke="#444" stroke-width="0.5"/>
<path d="M186.3 361L187.5 361" stroke="#444" stroke-width="0.5"/>
<path d="M186.3 357L187.5 357" stroke="#444" stroke-width="0.5"/>
<path d="M186.3 353L187.5 353" stroke="#444" stroke-width="0.5"/>
<path d="M186.3 349L187.5 349" stroke="#444" stroke-width="0.5"/>
<path d="M186.3 345L187.5 345" stroke="#444" stroke-width="0.5"/>
<path d="M186.3 341L187.5 341" stroke="#444" stroke-width="0.5"/>
<path d="M186.3 337L187.5 337" stroke="#444" stroke-width="0.5"/>
<path d="M186.3 333L187.5 333" stroke="#444" stroke-width="0.5"/>
<path d="M186.3 329L187.5 329" stroke="#444" stroke-width="0.5"/>
<path d="M186.3 325L187.5 325" stroke="#444" stroke-width="0.5"/>
<path d="M186.3 321L187.5 321" stroke="#444" stroke-width="0.5"/>
<path d="M186.3 317L187.5 317" stroke="#444" stroke-width="0.5"/>
<path d="M186.3 313L187.5 313" stroke="#444" stroke-width="0.5"/>
<path d="M186.3 309L187.5 309" stroke="#444" stroke-width="0.5"/>
<path d="M186.3 305L187.5 305" stroke="#444" stroke-width="0.5"/>
<path d="M186.3 301L187.5 301" stroke="#444" stroke-width="0.5"/>
<path d="M187.5 401.4L187.5 403.6" stroke="#222" stroke-width="0.8"/>
<path d="M215 401.4L215 403.6" stroke="#222" stroke-width="0.8"/>
<path d="M242.5 401.4L242.5 403.6" stroke="#222" stroke-width="0.8"/>
<path d="M270 401.4L270 403.6" stroke="#222" stroke-width="0.8"/>
<path d="M297.5 401.4L297.5 403.6" stroke="#222" stroke-width="0.8"/>
<path d="M195.78 401.4L195.78 402.6" stroke="#333" stroke-width="0.5"/>
<path d="M200.62 401.4L200.62 402.6" stroke="#333" stroke-width="0.5"/>
<path d="M204.06 401.4L204.06 402.6" stroke="#333" stroke-width="0.5"/>
<path d="M206.72 401.4L206.72 402.6" stroke="#333" stroke-width="0.5"/>
<path d="M208.9 401.4L208.9 402.6" stroke="#333" stroke-width="0.5"/>
<path d="M210.74 401.4L210.74 402.6" stroke="#333" stroke-width="0.5"/>
<path d="M212.33 401.4L212.33 402.6" stroke="#333" stroke-width="0.5"/>
<path d="M213.74 401.4L213.74 402.6" stroke="#333" stroke-width="0.5"/>
<path d="M223.28 401.4L223.28 402.6" stroke="#333" stroke-width="0.5"/>
<path d="M228.12 401.4L228.12 402.6" stroke="#333" stroke-width="0.5"/>
<path d="M231.56 401.4L231.56 402.6" stroke="#333" stroke-width="0.5"/>
<path d="M234.22 401.4L234.22 402.6" stroke="#333" stroke-width="0.5"/>
<path d="M236.4 401.4L236.4 402.6" stroke="#333" stroke-width="0.5"/>
<path d="M238.24 401.4L238.24 402.6" stroke="#333" stroke-width="0.5"/>
<path d="M239.83 401.4L239.83 402.6" stroke="#333" stroke-width="0.5"/>
<path d="M241.24 401.4L241.24 402.6" stroke="#333" stroke-width="0.5"/>
<path d="M250.78 401.4L250.78 402.6" stroke="#333" stroke-width="0.5"/>
<path d="M255.62 401.4L255.62 402.6" stroke="#333" stroke-width="0.5"/>
<path d="M259.06 401.4L259.06 402.6" stroke="#333" stroke-width="0.5"/>
<path d="M261.72 401.4L261.72 402.6" stroke="#333" stroke-width="0.5"/>
<path d="M263.9 401.4L263.9 402.6" stroke="#333" stroke-width="0.5"/>
<path d="M265.74 401.4L265.74 402.6" stroke="#333" stroke-width="0.5"/>
<path d="M267.33 401.4L267.33 402.6" stroke="#333" stroke-width="0.5"/>
<path d="M268.74 401.4L268.74 402.6" stroke="#333" stroke-width="0.5"/>
<path d="M278.28 401.4L278.28 402.6" stroke="#333" stroke-width="0.5"/>
<path d="M283.12 401.4L283.12 402.6" stroke="#333" stroke-width="0.5"/>
<path d="M286.56 401.4L286.56 402.6" stroke="#333" stroke-width="0.5"/>
<path d="M289.22 401.4L289.22 402.6" stroke="#333" stroke-width="0.5"/>
<path d="M291.4 401.4L291.4 402.6" stroke="#333" stroke-width="0.5"/>
<path d="M293.24 401.4L293.24 402.6" stroke="#333" stroke-width="0.5"/>
<path d="M294.83 401.4L294.83 402.6" stroke="#333" stroke-width="0.5"/>
<path d="M296.24 401.4L296.24 402.6" stroke="#333" stroke-width="0.5"/>
<text x="187.5" y="411.2" font-size="5" fill="#555" text-anchor="middle">10<tspan font-size="3.5" dy="-2.25">0</tspan></text>
<text x="215" y="411.2" font-size="5" fill="#555" text-anchor="middle">10<tspan font-size="3.5" dy="-2.25">1</tspan></text>
<text x="242.5" y="411.2" font-size="5" fill="#555" text-anchor="middle">10<tspan font-size="3.5" dy="-2.25">2</tspan></text>
<text x="270" y="411.2" font-size="5" fill="#555" text-anchor="middle">10<tspan font-size="3.5" dy="-2.25">3</tspan></text>
<text x="297.5" y="411.2" font-size="5" fill="#555" text-anchor="middle">10<tspan font-size="3.5" dy="-2.25">4</tspan></text>
<text transform="translate(172.6 348.4) rotate(-90) scale(0.79 1)" x="0" y="0" font-size="11.8" font-weight="bold" text-anchor="middle">% of Max</text>
<text x="255.8" y="308.8" font-size="11.7" font-weight="bold" fill="#737373" letter-spacing="-0.1">AC 24h</text>
<text x="256.8" y="325.6" font-size="11.5" font-weight="bold">No AC</text>
<rect x="241" y="335.3" width="10.9" height="6" fill="#a9a9a9"/>
<text x="254.8" y="340.2" font-size="11.9" font-weight="bold" fill="#737373" letter-spacing="-0.1">Isotype</text>
<text x="345.2" y="295.9" font-size="12" font-weight="bold">G</text>
<path d="M381 291.6L381 402.1" stroke="#000" stroke-width="1.6"/>
<path d="M377 401.3L505 401.3" stroke="#000" stroke-width="1.6"/>
<path d="M376 401.3L381 401.3" stroke="#000" stroke-width="1.4"/>
<text transform="translate(376 404.5) scale(0.88 1)" font-size="9.1" text-anchor="end">0</text>
<path d="M376 379.54L381 379.54" stroke="#000" stroke-width="1.4"/>
<text transform="translate(376 382.74) scale(0.88 1)" font-size="9.1" text-anchor="end">20</text>
<path d="M376 357.78L381 357.78" stroke="#000" stroke-width="1.4"/>
<text transform="translate(376 360.98) scale(0.88 1)" font-size="9.1" text-anchor="end">40</text>
<path d="M376 336.02L381 336.02" stroke="#000" stroke-width="1.4"/>
<text transform="translate(376 339.22) scale(0.88 1)" font-size="9.1" text-anchor="end">60</text>
<path d="M376 314.26L381 314.26" stroke="#000" stroke-width="1.4"/>
<text transform="translate(376 317.46) scale(0.88 1)" font-size="9.1" text-anchor="end">80</text>
<path d="M376 292.5L381 292.5" stroke="#000" stroke-width="1.4"/>
<text transform="translate(376 295.7) scale(0.88 1)" font-size="9.1" text-anchor="end">100</text>
<path d="M401.95 318.5L401.95 311.9" stroke="#000" stroke-width="1.5"/>
<path d="M394.65 311.9L409.25 311.9" stroke="#000" stroke-width="1.5"/>
<rect x="388.85" y="319.25" width="26.2" height="82.05" fill="#7f7f7f" stroke="#000" stroke-width="1.5"/>
<path d="M443.95 360.6L443.95 355" stroke="#000" stroke-width="1.5"/>
<path d="M436.75 355L451.15 355" stroke="#000" stroke-width="1.5"/>
<rect x="430.05" y="361.35" width="27.8" height="39.95" fill="#7f7f7f" stroke="#000" stroke-width="1.5"/>
<path d="M486.7 358.8L486.7 354.4" stroke="#000" stroke-width="1.5"/>
<path d="M479.5 354.4L493.9 354.4" stroke="#000" stroke-width="1.5"/>
<rect x="472.55" y="359.55" width="28.3" height="41.75" fill="#7f7f7f" stroke="#000" stroke-width="1.5"/>
<path d="M403.1 307.3L444.8 307.3" stroke="#000" stroke-width="1.7"/>
<text transform="translate(403.1 302.5) scale(0.87 1)" font-size="10.3" font-weight="bold">p=0.0132</text>
<text transform="translate(402.2 411.1) scale(0.87 1)" font-size="9.3" font-weight="bold" text-anchor="middle">Mac + AC</text>
<text transform="translate(444.4 411.1) scale(0.87 1)" font-size="9.3" font-weight="bold" text-anchor="middle">Mac alone</text>
<text transform="translate(486.2 411.1) scale(0.87 1)" font-size="9.3" font-weight="bold" text-anchor="middle">No Mac</text>
<text transform="translate(352.3 341.5) rotate(-90) scale(0.92 1)" x="0" y="0" font-size="11.9" font-weight="bold" text-anchor="middle">IL-2 (pg/mL)</text>
</svg>
</body></html>
